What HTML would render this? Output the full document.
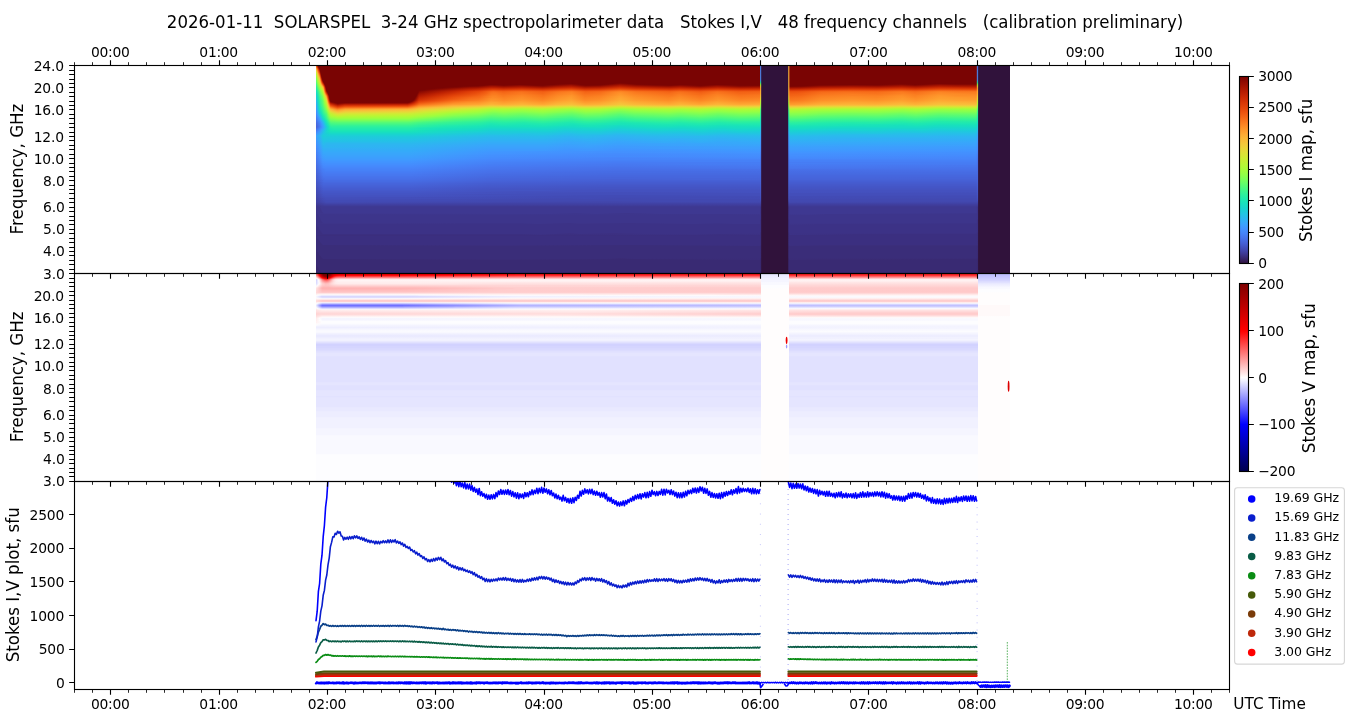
<!DOCTYPE html>
<html lang="en"><head><meta charset="utf-8"><title>SOLARSPEL 3-24 GHz spectropolarimeter data</title>
<style>
html,body{margin:0;padding:0;background:#fff;overflow:hidden;width:1350px;height:725px}
svg{display:block;width:1350px;height:725px}
text{font-family:"DejaVu Sans","Liberation Sans",sans-serif;fill:#000;white-space:pre}
.t10{font-size:13.889px;letter-spacing:-0.3px}.yl{letter-spacing:-0.2px}.t12{font-size:16.667px}.t11{font-size:15.278px}.t9{font-size:12.5px;letter-spacing:-0.08px}
.sp{stroke:#000;stroke-width:1.111;fill:none;stroke-linecap:square}
.mj{stroke:#000;stroke-width:1.111;fill:none}
.mn{stroke:#000;stroke-width:0.833;fill:none}
.ln{fill:none;stroke-linejoin:round;stroke-linecap:round}
</style></head>
<body>
<svg width="1350" height="725" viewBox="0 0 1350 725">
<rect width="1350" height="725" fill="#fff"/>
<defs><clipPath id="c1"><rect x="316.2" y="65.25" width="693.7" height="207.83"/></clipPath><clipPath id="c2"><rect x="316.2" y="273.08" width="693.7" height="207.83"/></clipPath><clipPath id="c3"><rect x="74.25" y="480.92" width="1155.2" height="207.83"/></clipPath></defs>
<text class="t12" transform="translate(675.05,28) scale(0.9963,1.07)" text-anchor="middle" xml:space="preserve">2026-01-11  SOLARSPEL  3-24 GHz spectropolarimeter data   Stokes I,V   48 frequency channels   (calibration preliminary)</text>
<g id="imap"><defs><linearGradient id="a0" gradientUnits="userSpaceOnUse" x1="316.2" x2="977.5" y1="0" y2="0"><stop offset="0" stop-color="#ec540f"/><stop offset="0.00076" stop-color="#d43306"/><stop offset="0.00151" stop-color="#b01a02"/><stop offset="0.00227" stop-color="#880802"/><stop offset="0.00302" stop-color="#7a0403"/><stop offset="1" stop-color="#7a0403"/></linearGradient><linearGradient id="a1" gradientUnits="userSpaceOnUse" x1="316.2" x2="977.5" y1="0" y2="0"><stop offset="0" stop-color="#f8741d"/><stop offset="0.00076" stop-color="#e84c0d"/><stop offset="0.00151" stop-color="#ce2e05"/><stop offset="0.00227" stop-color="#ab1701"/><stop offset="0.00302" stop-color="#840702"/><stop offset="0.00378" stop-color="#7a0403"/><stop offset="1" stop-color="#7a0403"/></linearGradient><linearGradient id="a2" gradientUnits="userSpaceOnUse" x1="316.2" x2="977.5" y1="0" y2="0"><stop offset="0" stop-color="#fd952b"/><stop offset="0.00076" stop-color="#f66c19"/><stop offset="0.00151" stop-color="#e5480b"/><stop offset="0.00227" stop-color="#cb2c04"/><stop offset="0.00302" stop-color="#a91601"/><stop offset="0.00378" stop-color="#840702"/><stop offset="0.00454" stop-color="#7a0403"/><stop offset="1" stop-color="#7a0403"/></linearGradient><linearGradient id="a3" gradientUnits="userSpaceOnUse" x1="316.2" x2="977.5" y1="0" y2="0"><stop offset="0" stop-color="#fbb436"/><stop offset="0.00076" stop-color="#fd9028"/><stop offset="0.00151" stop-color="#f46818"/><stop offset="0.00227" stop-color="#e4460b"/><stop offset="0.00302" stop-color="#cb2b04"/><stop offset="0.00378" stop-color="#a91601"/><stop offset="0.00454" stop-color="#860802"/><stop offset="0.00529" stop-color="#7a0403"/><stop offset="1" stop-color="#7a0403"/></linearGradient><linearGradient id="a4" gradientUnits="userSpaceOnUse" x1="316.2" x2="977.5" y1="0" y2="0"><stop offset="0" stop-color="#f0cb3a"/><stop offset="0.00076" stop-color="#fcae34"/><stop offset="0.00151" stop-color="#fc8b26"/><stop offset="0.00227" stop-color="#f36416"/><stop offset="0.00302" stop-color="#e2430a"/><stop offset="0.00378" stop-color="#c92a04"/><stop offset="0.00454" stop-color="#a91601"/><stop offset="0.00529" stop-color="#870802"/><stop offset="0.00605" stop-color="#7a0403"/><stop offset="1" stop-color="#7a0403"/></linearGradient><linearGradient id="a5" gradientUnits="userSpaceOnUse" x1="316.2" x2="977.5" y1="0" y2="0"><stop offset="0" stop-color="#e4da38"/><stop offset="0.00076" stop-color="#f7c139"/><stop offset="0.00151" stop-color="#fea230"/><stop offset="0.00227" stop-color="#fb7e21"/><stop offset="0.00302" stop-color="#ee5811"/><stop offset="0.00378" stop-color="#dc3c08"/><stop offset="0.00454" stop-color="#c32503"/><stop offset="0.00529" stop-color="#a21201"/><stop offset="0.00605" stop-color="#7a0403"/><stop offset="1" stop-color="#7a0403"/></linearGradient><linearGradient id="a6" gradientUnits="userSpaceOnUse" x1="316.2" x2="977.5" y1="0" y2="0"><stop offset="0" stop-color="#d6e635"/><stop offset="0.00076" stop-color="#edd03a"/><stop offset="0.00151" stop-color="#fbb537"/><stop offset="0.00227" stop-color="#fe962b"/><stop offset="0.00302" stop-color="#f7711b"/><stop offset="0.00378" stop-color="#ea4f0e"/><stop offset="0.00454" stop-color="#d63506"/><stop offset="0.00529" stop-color="#bb2002"/><stop offset="0.00605" stop-color="#840702"/><stop offset="0.0068" stop-color="#7a0403"/><stop offset="1" stop-color="#7a0403"/></linearGradient><linearGradient id="a7" gradientUnits="userSpaceOnUse" x1="316.2" x2="977.5" y1="0" y2="0"><stop offset="0" stop-color="#c5f034"/><stop offset="0.00076" stop-color="#e0dd37"/><stop offset="0.00151" stop-color="#f4c63a"/><stop offset="0.00227" stop-color="#fdac34"/><stop offset="0.00302" stop-color="#fd8a26"/><stop offset="0.00378" stop-color="#f46717"/><stop offset="0.00454" stop-color="#e5480b"/><stop offset="0.00529" stop-color="#d13005"/><stop offset="0.00605" stop-color="#a01201"/><stop offset="0.0068" stop-color="#7a0403"/><stop offset="1" stop-color="#7a0403"/></linearGradient><linearGradient id="a8" gradientUnits="userSpaceOnUse" x1="316.2" x2="977.5" y1="0" y2="0"><stop offset="0" stop-color="#b4f836"/><stop offset="0.00076" stop-color="#d0ea35"/><stop offset="0.00151" stop-color="#e9d539"/><stop offset="0.00227" stop-color="#f8be39"/><stop offset="0.00302" stop-color="#fea130"/><stop offset="0.00378" stop-color="#fb8122"/><stop offset="0.00454" stop-color="#f26014"/><stop offset="0.00529" stop-color="#e2430a"/><stop offset="0.00605" stop-color="#bb2002"/><stop offset="0.0068" stop-color="#820602"/><stop offset="0.00756" stop-color="#7a0403"/><stop offset="1" stop-color="#7a0403"/></linearGradient><linearGradient id="a9" gradientUnits="userSpaceOnUse" x1="316.2" x2="977.5" y1="0" y2="0"><stop offset="0" stop-color="#a7fc3a"/><stop offset="0.00076" stop-color="#c3f134"/><stop offset="0.00227" stop-color="#f1cb3a"/><stop offset="0.00302" stop-color="#fbb436"/><stop offset="0.00378" stop-color="#fe982c"/><stop offset="0.00454" stop-color="#f9781e"/><stop offset="0.00529" stop-color="#ee5811"/><stop offset="0.00605" stop-color="#d03005"/><stop offset="0.0068" stop-color="#9d1001"/><stop offset="0.00756" stop-color="#7a0403"/><stop offset="1" stop-color="#7a0403"/></linearGradient><linearGradient id="a10" gradientUnits="userSpaceOnUse" x1="316.2" x2="977.5" y1="0" y2="0"><stop offset="0" stop-color="#9cfe41"/><stop offset="0.00076" stop-color="#b8f635"/><stop offset="0.00227" stop-color="#e7d739"/><stop offset="0.00302" stop-color="#f6c33a"/><stop offset="0.00378" stop-color="#fdab33"/><stop offset="0.00454" stop-color="#fd9028"/><stop offset="0.00529" stop-color="#f7711b"/><stop offset="0.00605" stop-color="#e14209"/><stop offset="0.0068" stop-color="#b61d02"/><stop offset="0.00756" stop-color="#7f0502"/><stop offset="0.00832" stop-color="#7a0403"/><stop offset="1" stop-color="#7a0403"/></linearGradient><linearGradient id="a11" gradientUnits="userSpaceOnUse" x1="316.2" x2="977.5" y1="0" y2="0"><stop offset="0" stop-color="#91ff48"/><stop offset="0.00076" stop-color="#acfa38"/><stop offset="0.00151" stop-color="#c4f134"/><stop offset="0.00302" stop-color="#edd039"/><stop offset="0.00378" stop-color="#f9bc39"/><stop offset="0.00454" stop-color="#fda632"/><stop offset="0.00529" stop-color="#fd8a26"/><stop offset="0.00605" stop-color="#ee5710"/><stop offset="0.0068" stop-color="#cc2c04"/><stop offset="0.00756" stop-color="#970e01"/><stop offset="0.00832" stop-color="#7a0403"/><stop offset="1" stop-color="#7a0403"/></linearGradient><linearGradient id="a12" gradientUnits="userSpaceOnUse" x1="316.2" x2="977.5" y1="0" y2="0"><stop offset="0" stop-color="#84ff51"/><stop offset="0.00076" stop-color="#9ffd3e"/><stop offset="0.00151" stop-color="#b7f735"/><stop offset="0.00302" stop-color="#e1dd37"/><stop offset="0.00454" stop-color="#fab838"/><stop offset="0.00529" stop-color="#fea330"/><stop offset="0.00605" stop-color="#f7701b"/><stop offset="0.0068" stop-color="#de3e08"/><stop offset="0.00756" stop-color="#b41b02"/><stop offset="0.00832" stop-color="#7f0502"/><stop offset="0.00907" stop-color="#7a0403"/><stop offset="1" stop-color="#7a0403"/></linearGradient><linearGradient id="a13" gradientUnits="userSpaceOnUse" x1="316.2" x2="977.5" y1="0" y2="0"><stop offset="0" stop-color="#76fe5b"/><stop offset="0.00076" stop-color="#93fe46"/><stop offset="0.00151" stop-color="#abfb39"/><stop offset="0.00227" stop-color="#c1f234"/><stop offset="0.00378" stop-color="#e6d838"/><stop offset="0.00529" stop-color="#fbb637"/><stop offset="0.00605" stop-color="#fc8926"/><stop offset="0.0068" stop-color="#eb520f"/><stop offset="0.00756" stop-color="#cb2b04"/><stop offset="0.00832" stop-color="#990f01"/><stop offset="0.00907" stop-color="#7a0403"/><stop offset="1" stop-color="#7a0403"/></linearGradient><linearGradient id="a14" gradientUnits="userSpaceOnUse" x1="316.2" x2="977.5" y1="0" y2="0"><stop offset="0" stop-color="#6cfd63"/><stop offset="0.00076" stop-color="#89ff4d"/><stop offset="0.00151" stop-color="#a1fd3d"/><stop offset="0.00227" stop-color="#b7f735"/><stop offset="0.00302" stop-color="#caee34"/><stop offset="0.00454" stop-color="#ead339"/><stop offset="0.00529" stop-color="#f6c33a"/><stop offset="0.00605" stop-color="#fe9c2e"/><stop offset="0.0068" stop-color="#f56918"/><stop offset="0.00756" stop-color="#dc3c08"/><stop offset="0.00832" stop-color="#b61d02"/><stop offset="0.00907" stop-color="#850802"/><stop offset="0.00983" stop-color="#7a0403"/><stop offset="1" stop-color="#7a0403"/></linearGradient><linearGradient id="a15" gradientUnits="userSpaceOnUse" x1="316.2" x2="977.5" y1="0" y2="0"><stop offset="0" stop-color="#61fc6c"/><stop offset="0.00151" stop-color="#98fe43"/><stop offset="0.00227" stop-color="#acfa38"/><stop offset="0.00378" stop-color="#d0ea35"/><stop offset="0.00529" stop-color="#eecf3a"/><stop offset="0.00605" stop-color="#fcaf35"/><stop offset="0.0068" stop-color="#fb8122"/><stop offset="0.00756" stop-color="#ea500e"/><stop offset="0.00832" stop-color="#ce2e04"/><stop offset="0.00907" stop-color="#a51401"/><stop offset="0.00983" stop-color="#7e0502"/><stop offset="0.01059" stop-color="#7a0403"/><stop offset="1" stop-color="#7a0403"/></linearGradient><linearGradient id="a16" gradientUnits="userSpaceOnUse" x1="316.2" x2="977.5" y1="0" y2="0"><stop offset="0" stop-color="#58fb74"/><stop offset="0.00151" stop-color="#8cff4b"/><stop offset="0.00227" stop-color="#a1fd3d"/><stop offset="0.00302" stop-color="#b4f836"/><stop offset="0.00454" stop-color="#d6e635"/><stop offset="0.00529" stop-color="#e3db38"/><stop offset="0.00605" stop-color="#f8be39"/><stop offset="0.0068" stop-color="#fe982c"/><stop offset="0.00756" stop-color="#f56918"/><stop offset="0.00832" stop-color="#e1420a"/><stop offset="0.00907" stop-color="#c22503"/><stop offset="0.00983" stop-color="#990f01"/><stop offset="0.01059" stop-color="#7e0502"/><stop offset="0.01134" stop-color="#7a0403"/><stop offset="1" stop-color="#7a0403"/></linearGradient><linearGradient id="a17" gradientUnits="userSpaceOnUse" x1="316.2" x2="977.5" y1="0" y2="0"><stop offset="0" stop-color="#4ef97d"/><stop offset="0.00151" stop-color="#80ff54"/><stop offset="0.00227" stop-color="#95fe45"/><stop offset="0.00302" stop-color="#a9fb39"/><stop offset="0.00454" stop-color="#c9ee34"/><stop offset="0.00529" stop-color="#d8e436"/><stop offset="0.00605" stop-color="#f0cc3a"/><stop offset="0.0068" stop-color="#fdac34"/><stop offset="0.00756" stop-color="#fc8524"/><stop offset="0.00832" stop-color="#f05c13"/><stop offset="0.00907" stop-color="#db3b08"/><stop offset="0.00983" stop-color="#be2203"/><stop offset="0.01059" stop-color="#990f01"/><stop offset="0.01134" stop-color="#800602"/><stop offset="0.0121" stop-color="#7a0403"/><stop offset="1" stop-color="#7a0403"/></linearGradient><linearGradient id="a18" gradientUnits="userSpaceOnUse" x1="316.2" x2="977.5" y1="0" y2="0"><stop offset="0" stop-color="#44f786"/><stop offset="0.00227" stop-color="#8aff4c"/><stop offset="0.00302" stop-color="#9ffd3f"/><stop offset="0.00378" stop-color="#affa37"/><stop offset="0.00529" stop-color="#ccec34"/><stop offset="0.00605" stop-color="#e5d938"/><stop offset="0.0068" stop-color="#f7c039"/><stop offset="0.00756" stop-color="#fea12f"/><stop offset="0.00832" stop-color="#fa7c20"/><stop offset="0.00907" stop-color="#ee5912"/><stop offset="0.00983" stop-color="#db3c08"/><stop offset="0.01059" stop-color="#c22503"/><stop offset="0.01134" stop-color="#a01201"/><stop offset="0.0121" stop-color="#810602"/><stop offset="0.01285" stop-color="#7a0403"/><stop offset="0.4476" stop-color="#7a0403"/><stop offset="0.4597" stop-color="#830702"/><stop offset="0.47331" stop-color="#7a0403"/><stop offset="1" stop-color="#7a0403"/></linearGradient><linearGradient id="a19" gradientUnits="userSpaceOnUse" x1="316.2" x2="977.5" y1="0" y2="0"><stop offset="0" stop-color="#3bf58f"/><stop offset="0.00151" stop-color="#66fd68"/><stop offset="0.00302" stop-color="#92fe47"/><stop offset="0.00454" stop-color="#b1f936"/><stop offset="0.00529" stop-color="#c1f234"/><stop offset="0.0068" stop-color="#ecd139"/><stop offset="0.00756" stop-color="#f9ba38"/><stop offset="0.00832" stop-color="#fd9e2e"/><stop offset="0.00907" stop-color="#fa7f21"/><stop offset="0.00983" stop-color="#f16014"/><stop offset="0.01059" stop-color="#e1440a"/><stop offset="0.01134" stop-color="#c62804"/><stop offset="0.0121" stop-color="#a31301"/><stop offset="0.01285" stop-color="#810602"/><stop offset="0.01361" stop-color="#7a0403"/><stop offset="0.35763" stop-color="#7a0403"/><stop offset="0.3856" stop-color="#8b0902"/><stop offset="0.39997" stop-color="#7a0403"/><stop offset="0.43097" stop-color="#7a0403"/><stop offset="0.44004" stop-color="#7f0502"/><stop offset="0.4597" stop-color="#990e01"/><stop offset="0.4839" stop-color="#7f0502"/><stop offset="0.50809" stop-color="#7a0403"/><stop offset="0.85362" stop-color="#7a0403"/><stop offset="0.88462" stop-color="#830702"/><stop offset="0.90579" stop-color="#7a0403"/><stop offset="0.92091" stop-color="#7f0502"/><stop offset="0.94133" stop-color="#8e0a02"/><stop offset="0.96552" stop-color="#850702"/><stop offset="1" stop-color="#830702"/></linearGradient><linearGradient id="a20" gradientUnits="userSpaceOnUse" x1="316.2" x2="977.5" y1="0" y2="0"><stop offset="0" stop-color="#32f298"/><stop offset="0.00302" stop-color="#84ff51"/><stop offset="0.00454" stop-color="#a6fc3b"/><stop offset="0.00529" stop-color="#b5f836"/><stop offset="0.00605" stop-color="#c9ee34"/><stop offset="0.00756" stop-color="#edcf39"/><stop offset="0.00832" stop-color="#f8bc38"/><stop offset="0.00907" stop-color="#fda631"/><stop offset="0.00983" stop-color="#fc8c27"/><stop offset="0.01059" stop-color="#f56c19"/><stop offset="0.01134" stop-color="#e2450b"/><stop offset="0.0121" stop-color="#c72804"/><stop offset="0.01285" stop-color="#a11201"/><stop offset="0.01361" stop-color="#7e0502"/><stop offset="0.01437" stop-color="#7a0403"/><stop offset="0.24497" stop-color="#7a0403"/><stop offset="0.25405" stop-color="#7e0502"/><stop offset="0.26463" stop-color="#8c0a02"/><stop offset="0.27068" stop-color="#8b0902"/><stop offset="0.28353" stop-color="#7f0502"/><stop offset="0.30848" stop-color="#8e0a02"/><stop offset="0.33192" stop-color="#7f0502"/><stop offset="0.34326" stop-color="#7d0503"/><stop offset="0.3856" stop-color="#a21201"/><stop offset="0.39997" stop-color="#880802"/><stop offset="0.40829" stop-color="#7f0502"/><stop offset="0.42946" stop-color="#850702"/><stop offset="0.45894" stop-color="#ae1801"/><stop offset="0.48314" stop-color="#950d01"/><stop offset="0.50809" stop-color="#880802"/><stop offset="0.53531" stop-color="#7f0502"/><stop offset="0.55119" stop-color="#8b0902"/><stop offset="0.57992" stop-color="#7b0403"/><stop offset="0.58899" stop-color="#7f0502"/><stop offset="0.60563" stop-color="#8e0a02"/><stop offset="0.63965" stop-color="#7d0503"/><stop offset="0.67443" stop-color="#7f0502"/><stop offset="0.69106" stop-color="#7a0403"/><stop offset="0.74248" stop-color="#7a0403"/><stop offset="0.76214" stop-color="#830702"/><stop offset="0.81355" stop-color="#8c0a02"/><stop offset="0.84909" stop-color="#850702"/><stop offset="0.88538" stop-color="#9a0f01"/><stop offset="0.90579" stop-color="#880802"/><stop offset="0.94284" stop-color="#a51401"/><stop offset="0.97006" stop-color="#9c1001"/><stop offset="1" stop-color="#9a0f01"/></linearGradient><linearGradient id="a21" gradientUnits="userSpaceOnUse" x1="316.2" x2="977.5" y1="0" y2="0"><stop offset="0" stop-color="#2befa0"/><stop offset="0.00076" stop-color="#3af490"/><stop offset="0.00302" stop-color="#75fe5c"/><stop offset="0.00529" stop-color="#a8fc3a"/><stop offset="0.0068" stop-color="#cbed34"/><stop offset="0.00832" stop-color="#e9d439"/><stop offset="0.00983" stop-color="#fab636"/><stop offset="0.01059" stop-color="#fd9b2d"/><stop offset="0.01134" stop-color="#f56b19"/><stop offset="0.0121" stop-color="#e1430a"/><stop offset="0.01285" stop-color="#c32603"/><stop offset="0.01361" stop-color="#970e01"/><stop offset="0.01437" stop-color="#7a0403"/><stop offset="0.21246" stop-color="#7a0403"/><stop offset="0.24497" stop-color="#870802"/><stop offset="0.26463" stop-color="#a41301"/><stop offset="0.26917" stop-color="#a41301"/><stop offset="0.28429" stop-color="#950d01"/><stop offset="0.31" stop-color="#a51401"/><stop offset="0.34326" stop-color="#8e0a02"/><stop offset="0.36519" stop-color="#a91601"/><stop offset="0.38485" stop-color="#b61c02"/><stop offset="0.39316" stop-color="#ac1701"/><stop offset="0.40602" stop-color="#950d01"/><stop offset="0.40904" stop-color="#950d01"/><stop offset="0.42946" stop-color="#9e1001"/><stop offset="0.45894" stop-color="#c02303"/><stop offset="0.48163" stop-color="#ac1701"/><stop offset="0.53304" stop-color="#950d01"/><stop offset="0.54967" stop-color="#a41301"/><stop offset="0.58067" stop-color="#8b0902"/><stop offset="0.60638" stop-color="#a51401"/><stop offset="0.63965" stop-color="#8e0a02"/><stop offset="0.67367" stop-color="#950d01"/><stop offset="0.69106" stop-color="#880802"/><stop offset="0.71299" stop-color="#7f0502"/><stop offset="0.73567" stop-color="#830702"/><stop offset="0.76289" stop-color="#9b0f01"/><stop offset="0.80826" stop-color="#a41301"/><stop offset="0.84984" stop-color="#9e1001"/><stop offset="0.88613" stop-color="#af1801"/><stop offset="0.9073" stop-color="#a11201"/><stop offset="0.94208" stop-color="#b91e02"/><stop offset="0.96779" stop-color="#b11a01"/><stop offset="1" stop-color="#af1801"/></linearGradient><linearGradient id="a22" gradientUnits="userSpaceOnUse" x1="316.2" x2="977.5" y1="0" y2="0"><stop offset="0" stop-color="#24eca8"/><stop offset="0.00151" stop-color="#40f689"/><stop offset="0.00302" stop-color="#66fd68"/><stop offset="0.00454" stop-color="#8bff4c"/><stop offset="0.00605" stop-color="#acfa38"/><stop offset="0.00756" stop-color="#c9ee34"/><stop offset="0.00907" stop-color="#e4da38"/><stop offset="0.00983" stop-color="#eece3a"/><stop offset="0.01059" stop-color="#f9ba38"/><stop offset="0.01134" stop-color="#fd8e28"/><stop offset="0.0121" stop-color="#f15e13"/><stop offset="0.01285" stop-color="#d93907"/><stop offset="0.01361" stop-color="#b51c02"/><stop offset="0.01437" stop-color="#850702"/><stop offset="0.01512" stop-color="#7a0403"/><stop offset="0.19205" stop-color="#7a0403"/><stop offset="0.21246" stop-color="#840702"/><stop offset="0.23212" stop-color="#990e01"/><stop offset="0.24497" stop-color="#9e1001"/><stop offset="0.26463" stop-color="#b91e02"/><stop offset="0.27219" stop-color="#b71d02"/><stop offset="0.28278" stop-color="#ad1801"/><stop offset="0.31075" stop-color="#bb1f02"/><stop offset="0.34251" stop-color="#a71501"/><stop offset="0.36595" stop-color="#bf2202"/><stop offset="0.38636" stop-color="#c92904"/><stop offset="0.40677" stop-color="#ad1801"/><stop offset="0.42946" stop-color="#b51c02"/><stop offset="0.45894" stop-color="#d23105"/><stop offset="0.4839" stop-color="#c02302"/><stop offset="0.53455" stop-color="#ad1801"/><stop offset="0.54967" stop-color="#ba1f02"/><stop offset="0.58067" stop-color="#a61401"/><stop offset="0.60714" stop-color="#bb1f02"/><stop offset="0.64192" stop-color="#a71501"/><stop offset="0.67367" stop-color="#ad1801"/><stop offset="0.71299" stop-color="#970e01"/><stop offset="0.7334" stop-color="#9c1001"/><stop offset="0.76289" stop-color="#b21a02"/><stop offset="0.80977" stop-color="#ba1f02"/><stop offset="0.84909" stop-color="#b51c02"/><stop offset="0.88538" stop-color="#c32503"/><stop offset="0.90655" stop-color="#b71d02"/><stop offset="0.94208" stop-color="#cc2c04"/><stop offset="1" stop-color="#c32503"/></linearGradient><linearGradient id="a23" gradientUnits="userSpaceOnUse" x1="316.2" x2="977.5" y1="0" y2="0"><stop offset="0" stop-color="#1fe9af"/><stop offset="0.00151" stop-color="#37f492"/><stop offset="0.00378" stop-color="#6cfd63"/><stop offset="0.00529" stop-color="#8fff49"/><stop offset="0.0068" stop-color="#aefa38"/><stop offset="0.00832" stop-color="#caee34"/><stop offset="0.00983" stop-color="#e2dc37"/><stop offset="0.01059" stop-color="#f2c93a"/><stop offset="0.01134" stop-color="#fea330"/><stop offset="0.0121" stop-color="#f8731c"/><stop offset="0.01285" stop-color="#e6480b"/><stop offset="0.01361" stop-color="#c72803"/><stop offset="0.01437" stop-color="#9d1001"/><stop offset="0.01512" stop-color="#7a0403"/><stop offset="0.17617" stop-color="#7a0403"/><stop offset="0.19129" stop-color="#830702"/><stop offset="0.23212" stop-color="#ad1701"/><stop offset="0.2427" stop-color="#b11a01"/><stop offset="0.26463" stop-color="#cd2d04"/><stop offset="0.27144" stop-color="#cd2d04"/><stop offset="0.28353" stop-color="#c42603"/><stop offset="0.31075" stop-color="#cf2f05"/><stop offset="0.34251" stop-color="#c02302"/><stop offset="0.36595" stop-color="#d23205"/><stop offset="0.3856" stop-color="#db3a07"/><stop offset="0.40602" stop-color="#c42603"/><stop offset="0.42946" stop-color="#ca2b04"/><stop offset="0.4597" stop-color="#e14209"/><stop offset="0.48238" stop-color="#d33205"/><stop offset="0.53304" stop-color="#c42603"/><stop offset="0.54967" stop-color="#ce2e05"/><stop offset="0.58143" stop-color="#bf2202"/><stop offset="0.60714" stop-color="#cf2f05"/><stop offset="0.64116" stop-color="#c02302"/><stop offset="0.67216" stop-color="#c42603"/><stop offset="0.71299" stop-color="#b21a02"/><stop offset="0.73114" stop-color="#b51c02"/><stop offset="0.76289" stop-color="#c82903"/><stop offset="0.80977" stop-color="#ce2e05"/><stop offset="0.84833" stop-color="#ca2b04"/><stop offset="0.88538" stop-color="#d63506"/><stop offset="0.90655" stop-color="#cc2c04"/><stop offset="0.94208" stop-color="#dc3c08"/><stop offset="1" stop-color="#d63506"/></linearGradient><linearGradient id="a24" gradientUnits="userSpaceOnUse" x1="316.2" x2="977.5" y1="0" y2="0"><stop offset="0" stop-color="#1be5b5"/><stop offset="0.00151" stop-color="#2ef19c"/><stop offset="0.00227" stop-color="#3df58d"/><stop offset="0.00454" stop-color="#71fe5f"/><stop offset="0.0068" stop-color="#a1fd3d"/><stop offset="0.00832" stop-color="#bcf535"/><stop offset="0.00983" stop-color="#d4e735"/><stop offset="0.01059" stop-color="#e7d639"/><stop offset="0.01134" stop-color="#fbb537"/><stop offset="0.0121" stop-color="#fc8926"/><stop offset="0.01285" stop-color="#ef5911"/><stop offset="0.01361" stop-color="#d63506"/><stop offset="0.01437" stop-color="#b11a01"/><stop offset="0.01512" stop-color="#830702"/><stop offset="0.01588" stop-color="#7a0403"/><stop offset="0.16407" stop-color="#7a0403"/><stop offset="0.17466" stop-color="#810602"/><stop offset="0.22909" stop-color="#bc2002"/><stop offset="0.24648" stop-color="#c72803"/><stop offset="0.2669" stop-color="#de3e08"/><stop offset="0.28278" stop-color="#d73606"/><stop offset="0.31075" stop-color="#e04009"/><stop offset="0.34251" stop-color="#d43306"/><stop offset="0.36595" stop-color="#e2440a"/><stop offset="0.38636" stop-color="#e84d0d"/><stop offset="0.40677" stop-color="#d73606"/><stop offset="0.43021" stop-color="#dc3c08"/><stop offset="0.4597" stop-color="#ed5610"/><stop offset="0.48238" stop-color="#e3440a"/><stop offset="0.53455" stop-color="#d73606"/><stop offset="0.54967" stop-color="#df3f09"/><stop offset="0.58143" stop-color="#d33205"/><stop offset="0.60714" stop-color="#e04009"/><stop offset="0.64116" stop-color="#d43306"/><stop offset="0.67367" stop-color="#d73606"/><stop offset="0.72055" stop-color="#c92a04"/><stop offset="0.77574" stop-color="#dc3b08"/><stop offset="0.80901" stop-color="#df3f09"/><stop offset="0.84757" stop-color="#dc3b08"/><stop offset="0.88311" stop-color="#e4470b"/><stop offset="0.90655" stop-color="#dd3d08"/><stop offset="0.94208" stop-color="#ea4f0e"/><stop offset="1" stop-color="#e4470b"/></linearGradient><linearGradient id="a25" gradientUnits="userSpaceOnUse" x1="316.2" x2="977.5" y1="0" y2="0"><stop offset="0" stop-color="#19e2bb"/><stop offset="0.00151" stop-color="#26eda5"/><stop offset="0.00227" stop-color="#33f297"/><stop offset="0.00605" stop-color="#84ff51"/><stop offset="0.00832" stop-color="#adfa38"/><stop offset="0.00983" stop-color="#c4f134"/><stop offset="0.01059" stop-color="#d9e336"/><stop offset="0.01134" stop-color="#f5c43a"/><stop offset="0.0121" stop-color="#fe9d2e"/><stop offset="0.01285" stop-color="#f76e1a"/><stop offset="0.01361" stop-color="#e3440a"/><stop offset="0.01437" stop-color="#c42603"/><stop offset="0.01512" stop-color="#9a0f01"/><stop offset="0.01588" stop-color="#7a0403"/><stop offset="0.155" stop-color="#7a0403"/><stop offset="0.16407" stop-color="#810602"/><stop offset="0.17239" stop-color="#8e0a02"/><stop offset="0.21473" stop-color="#be2102"/><stop offset="0.23892" stop-color="#d23105"/><stop offset="0.24875" stop-color="#d93907"/><stop offset="0.26765" stop-color="#eb520f"/><stop offset="0.28278" stop-color="#e64a0c"/><stop offset="0.31075" stop-color="#ed5510"/><stop offset="0.34326" stop-color="#e4460b"/><stop offset="0.3667" stop-color="#ef5911"/><stop offset="0.38636" stop-color="#f36315"/><stop offset="0.40677" stop-color="#e64a0c"/><stop offset="0.42946" stop-color="#ea500e"/><stop offset="0.4597" stop-color="#f66e1a"/><stop offset="0.48163" stop-color="#ef5a12"/><stop offset="0.53455" stop-color="#e64a0c"/><stop offset="0.54967" stop-color="#ec5410"/><stop offset="0.58067" stop-color="#e3440a"/><stop offset="0.60714" stop-color="#ed5510"/><stop offset="0.64116" stop-color="#e4460b"/><stop offset="0.67216" stop-color="#e64a0c"/><stop offset="0.71753" stop-color="#dc3b08"/><stop offset="0.73189" stop-color="#dd3d08"/><stop offset="0.76365" stop-color="#e94e0d"/><stop offset="0.80826" stop-color="#ec5410"/><stop offset="0.84682" stop-color="#ea4f0e"/><stop offset="0.88613" stop-color="#f05d13"/><stop offset="0.90579" stop-color="#eb520f"/><stop offset="0.94208" stop-color="#f46617"/><stop offset="1" stop-color="#f05d13"/></linearGradient><linearGradient id="a26" gradientUnits="userSpaceOnUse" x1="316.2" x2="977.5" y1="0" y2="0"><stop offset="0" stop-color="#18dec0"/><stop offset="0.00151" stop-color="#21eaac"/><stop offset="0.00302" stop-color="#36f393"/><stop offset="0.00605" stop-color="#76fe5b"/><stop offset="0.00756" stop-color="#92fe47"/><stop offset="0.00907" stop-color="#aafb39"/><stop offset="0.00983" stop-color="#b5f836"/><stop offset="0.01059" stop-color="#cbed34"/><stop offset="0.01134" stop-color="#ebd239"/><stop offset="0.0121" stop-color="#fcb035"/><stop offset="0.01285" stop-color="#fc8423"/><stop offset="0.01361" stop-color="#ee5710"/><stop offset="0.01437" stop-color="#d53406"/><stop offset="0.01512" stop-color="#b11a02"/><stop offset="0.01588" stop-color="#8b0902"/><stop offset="0.01663" stop-color="#7a0403"/><stop offset="0.15424" stop-color="#7a0403"/><stop offset="0.15575" stop-color="#850702"/><stop offset="0.1671" stop-color="#950d01"/><stop offset="0.21019" stop-color="#c72803"/><stop offset="0.23136" stop-color="#db3a07"/><stop offset="0.24875" stop-color="#e6480b"/><stop offset="0.26463" stop-color="#f46516"/><stop offset="0.26841" stop-color="#f56817"/><stop offset="0.28278" stop-color="#f15e13"/><stop offset="0.31075" stop-color="#f66b19"/><stop offset="0.34402" stop-color="#ef5a12"/><stop offset="0.36897" stop-color="#f8711b"/><stop offset="0.38636" stop-color="#fa7a1f"/><stop offset="0.40753" stop-color="#f15e13"/><stop offset="0.43097" stop-color="#f46617"/><stop offset="0.46046" stop-color="#fc8423"/><stop offset="0.48465" stop-color="#f76f1a"/><stop offset="0.53455" stop-color="#f15e13"/><stop offset="0.54967" stop-color="#f56918"/><stop offset="0.58067" stop-color="#ee5711"/><stop offset="0.60714" stop-color="#f66b19"/><stop offset="0.63889" stop-color="#ef5a12"/><stop offset="0.67216" stop-color="#f15e13"/><stop offset="0.71148" stop-color="#e94d0d"/><stop offset="0.72131" stop-color="#e94d0d"/><stop offset="0.73265" stop-color="#ea500e"/><stop offset="0.76289" stop-color="#f36215"/><stop offset="0.79767" stop-color="#f56817"/><stop offset="0.84984" stop-color="#f46516"/><stop offset="0.88538" stop-color="#f8741c"/><stop offset="0.90579" stop-color="#f46717"/><stop offset="0.94133" stop-color="#fa7d20"/><stop offset="0.97006" stop-color="#f9751d"/><stop offset="1" stop-color="#f8741c"/></linearGradient><linearGradient id="a27" gradientUnits="userSpaceOnUse" x1="316.2" x2="977.5" y1="0" y2="0"><stop offset="0" stop-color="#18dac6"/><stop offset="0.00151" stop-color="#1de7b2"/><stop offset="0.00302" stop-color="#2ff19b"/><stop offset="0.00605" stop-color="#6cfd63"/><stop offset="0.00832" stop-color="#94fe45"/><stop offset="0.00983" stop-color="#a9fb39"/><stop offset="0.01059" stop-color="#bef434"/><stop offset="0.01134" stop-color="#dfde37"/><stop offset="0.0121" stop-color="#f7c139"/><stop offset="0.01285" stop-color="#fe9d2e"/><stop offset="0.01361" stop-color="#f8731c"/><stop offset="0.01437" stop-color="#e84c0d"/><stop offset="0.01512" stop-color="#cf2f05"/><stop offset="0.01663" stop-color="#900b02"/><stop offset="0.01739" stop-color="#7d0503"/><stop offset="0.01815" stop-color="#7a0403"/><stop offset="0.15349" stop-color="#7a0403"/><stop offset="0.15424" stop-color="#7d0503"/><stop offset="0.15575" stop-color="#8f0b01"/><stop offset="0.19053" stop-color="#bc2002"/><stop offset="0.22683" stop-color="#de3d08"/><stop offset="0.24497" stop-color="#e84c0c"/><stop offset="0.25556" stop-color="#f05b12"/><stop offset="0.26463" stop-color="#f76f1a"/><stop offset="0.26917" stop-color="#f8721c"/><stop offset="0.28278" stop-color="#f46617"/><stop offset="0.31" stop-color="#f9751d"/><stop offset="0.34251" stop-color="#f36215"/><stop offset="0.36519" stop-color="#f9781e"/><stop offset="0.38636" stop-color="#fc8423"/><stop offset="0.40753" stop-color="#f46617"/><stop offset="0.43097" stop-color="#f76f1a"/><stop offset="0.45516" stop-color="#fd8a26"/><stop offset="0.46121" stop-color="#fd8d27"/><stop offset="0.48465" stop-color="#f9781e"/><stop offset="0.53455" stop-color="#f46617"/><stop offset="0.54665" stop-color="#f8721c"/><stop offset="0.55194" stop-color="#f8721c"/><stop offset="0.58143" stop-color="#f26014"/><stop offset="0.60638" stop-color="#f9751d"/><stop offset="0.63738" stop-color="#f36315"/><stop offset="0.67594" stop-color="#f46617"/><stop offset="0.71072" stop-color="#ed5510"/><stop offset="0.72282" stop-color="#ed5510"/><stop offset="0.7334" stop-color="#ef5811"/><stop offset="0.76365" stop-color="#f66c19"/><stop offset="0.80145" stop-color="#f8721c"/><stop offset="0.84682" stop-color="#f76e1a"/><stop offset="0.88538" stop-color="#fb7d20"/><stop offset="0.90579" stop-color="#f7701b"/><stop offset="0.94284" stop-color="#fc8725"/><stop offset="0.97006" stop-color="#fb7e21"/><stop offset="1" stop-color="#fb7d20"/></linearGradient><linearGradient id="a28" gradientUnits="userSpaceOnUse" x1="316.2" x2="977.5" y1="0" y2="0"><stop offset="0" stop-color="#19d5cd"/><stop offset="0.00151" stop-color="#1ae4b6"/><stop offset="0.00302" stop-color="#2aefa1"/><stop offset="0.00529" stop-color="#55fa76"/><stop offset="0.0068" stop-color="#71fe5f"/><stop offset="0.00983" stop-color="#a0fd3e"/><stop offset="0.01059" stop-color="#b3f836"/><stop offset="0.01134" stop-color="#d2e935"/><stop offset="0.0121" stop-color="#edd039"/><stop offset="0.01285" stop-color="#fbb437"/><stop offset="0.01361" stop-color="#fd932a"/><stop offset="0.01437" stop-color="#f66c19"/><stop offset="0.01512" stop-color="#e64a0c"/><stop offset="0.01588" stop-color="#d13105"/><stop offset="0.01663" stop-color="#b51d02"/><stop offset="0.01739" stop-color="#940d01"/><stop offset="0.01815" stop-color="#7b0403"/><stop offset="0.0189" stop-color="#7a0403"/><stop offset="0.15273" stop-color="#7a0403"/><stop offset="0.15349" stop-color="#7d0503"/><stop offset="0.15575" stop-color="#9b0f01"/><stop offset="0.18222" stop-color="#bc2002"/><stop offset="0.21624" stop-color="#db3b07"/><stop offset="0.2427" stop-color="#ea500e"/><stop offset="0.25707" stop-color="#f36315"/><stop offset="0.26463" stop-color="#f9751d"/><stop offset="0.26992" stop-color="#f9781e"/><stop offset="0.28429" stop-color="#f66c19"/><stop offset="0.31" stop-color="#fa791f"/><stop offset="0.34251" stop-color="#f46617"/><stop offset="0.3667" stop-color="#fb7e21"/><stop offset="0.38636" stop-color="#fd8825"/><stop offset="0.40602" stop-color="#f66c19"/><stop offset="0.4098" stop-color="#f66c19"/><stop offset="0.4287" stop-color="#f8721c"/><stop offset="0.4597" stop-color="#fe932a"/><stop offset="0.48238" stop-color="#fb7e21"/><stop offset="0.53228" stop-color="#f66c19"/><stop offset="0.55043" stop-color="#f9781e"/><stop offset="0.58219" stop-color="#f46617"/><stop offset="0.60638" stop-color="#fa791f"/><stop offset="0.64192" stop-color="#f46617"/><stop offset="0.67443" stop-color="#f66c19"/><stop offset="0.70997" stop-color="#f05b12"/><stop offset="0.72584" stop-color="#f05b12"/><stop offset="0.76743" stop-color="#f8721c"/><stop offset="0.80599" stop-color="#f9781e"/><stop offset="0.84682" stop-color="#f8721c"/><stop offset="0.8884" stop-color="#fb8122"/><stop offset="0.90655" stop-color="#f9751d"/><stop offset="0.94284" stop-color="#fd8b26"/><stop offset="1" stop-color="#fb8122"/></linearGradient><linearGradient id="a29" gradientUnits="userSpaceOnUse" x1="316.2" x2="977.5" y1="0" y2="0"><stop offset="0" stop-color="#1ad2d2"/><stop offset="0.00151" stop-color="#19e2bb"/><stop offset="0.00302" stop-color="#25eca7"/><stop offset="0.00378" stop-color="#2ff19b"/><stop offset="0.00529" stop-color="#4ef97d"/><stop offset="0.00832" stop-color="#7fff54"/><stop offset="0.00983" stop-color="#95fe45"/><stop offset="0.01059" stop-color="#a7fc3a"/><stop offset="0.01134" stop-color="#c3f134"/><stop offset="0.0121" stop-color="#dfde37"/><stop offset="0.01285" stop-color="#f2c83a"/><stop offset="0.01361" stop-color="#fcaf35"/><stop offset="0.01437" stop-color="#fd9028"/><stop offset="0.01512" stop-color="#f66f1b"/><stop offset="0.01588" stop-color="#e94f0e"/><stop offset="0.01663" stop-color="#d33306"/><stop offset="0.01739" stop-color="#b61d02"/><stop offset="0.01815" stop-color="#900b02"/><stop offset="0.0189" stop-color="#7a0403"/><stop offset="0.15197" stop-color="#7a0403"/><stop offset="0.15273" stop-color="#7d0503"/><stop offset="0.155" stop-color="#9e1001"/><stop offset="0.15575" stop-color="#a51301"/><stop offset="0.1807" stop-color="#c32503"/><stop offset="0.20717" stop-color="#db3b07"/><stop offset="0.24346" stop-color="#ee5711"/><stop offset="0.2548" stop-color="#f46617"/><stop offset="0.26539" stop-color="#fa7b1f"/><stop offset="0.27295" stop-color="#fa7b1f"/><stop offset="0.28051" stop-color="#f8721c"/><stop offset="0.2858" stop-color="#f8721c"/><stop offset="0.31226" stop-color="#fb7e21"/><stop offset="0.34326" stop-color="#f66c19"/><stop offset="0.36368" stop-color="#fb8122"/><stop offset="0.38712" stop-color="#fd8d27"/><stop offset="0.40526" stop-color="#f8721c"/><stop offset="0.41207" stop-color="#f8721c"/><stop offset="0.42946" stop-color="#f9781e"/><stop offset="0.4597" stop-color="#fe972b"/><stop offset="0.48163" stop-color="#fc8423"/><stop offset="0.53002" stop-color="#f8721c"/><stop offset="0.53682" stop-color="#f8721c"/><stop offset="0.54892" stop-color="#fb7e21"/><stop offset="0.57689" stop-color="#f66c19"/><stop offset="0.58294" stop-color="#f66c19"/><stop offset="0.60411" stop-color="#fb7e21"/><stop offset="0.60941" stop-color="#fb7e21"/><stop offset="0.64116" stop-color="#f66c19"/><stop offset="0.67292" stop-color="#f8721c"/><stop offset="0.71526" stop-color="#f25f14"/><stop offset="0.73567" stop-color="#f36315"/><stop offset="0.76138" stop-color="#f9751d"/><stop offset="0.81128" stop-color="#fb7e21"/><stop offset="0.84909" stop-color="#f9781e"/><stop offset="0.88689" stop-color="#fc8725"/><stop offset="0.90806" stop-color="#fa7b1f"/><stop offset="0.94057" stop-color="#fd9029"/><stop offset="1" stop-color="#fc8725"/></linearGradient><linearGradient id="a30" gradientUnits="userSpaceOnUse" x1="316.2" x2="977.5" y1="0" y2="0"><stop offset="0" stop-color="#1dcdd8"/><stop offset="0.00151" stop-color="#18dec0"/><stop offset="0.00302" stop-color="#21eaac"/><stop offset="0.00378" stop-color="#2aefa1"/><stop offset="0.00529" stop-color="#46f884"/><stop offset="0.00983" stop-color="#88ff4e"/><stop offset="0.01059" stop-color="#9cfe41"/><stop offset="0.01134" stop-color="#b5f836"/><stop offset="0.01285" stop-color="#e3da38"/><stop offset="0.01361" stop-color="#f3c73a"/><stop offset="0.01437" stop-color="#fcb035"/><stop offset="0.01512" stop-color="#fd962b"/><stop offset="0.01588" stop-color="#f8751d"/><stop offset="0.01663" stop-color="#e94e0e"/><stop offset="0.01739" stop-color="#d23105"/><stop offset="0.01815" stop-color="#b01a02"/><stop offset="0.0189" stop-color="#890902"/><stop offset="0.01966" stop-color="#7a0403"/><stop offset="0.15122" stop-color="#7a0403"/><stop offset="0.15197" stop-color="#7d0503"/><stop offset="0.155" stop-color="#a81501"/><stop offset="0.15575" stop-color="#af1801"/><stop offset="0.16861" stop-color="#be2102"/><stop offset="0.20717" stop-color="#e24209"/><stop offset="0.24346" stop-color="#f15e13"/><stop offset="0.25253" stop-color="#f56918"/><stop offset="0.26614" stop-color="#fb8122"/><stop offset="0.27144" stop-color="#fb8122"/><stop offset="0.28278" stop-color="#f9771e"/><stop offset="0.31075" stop-color="#fc8423"/><stop offset="0.34402" stop-color="#f8721c"/><stop offset="0.36519" stop-color="#fc8725"/><stop offset="0.38636" stop-color="#fe932a"/><stop offset="0.40526" stop-color="#f9781e"/><stop offset="0.41434" stop-color="#f9781e"/><stop offset="0.43021" stop-color="#fb7e21"/><stop offset="0.46046" stop-color="#fe9b2d"/><stop offset="0.48011" stop-color="#fd8a26"/><stop offset="0.5285" stop-color="#f9781e"/><stop offset="0.53758" stop-color="#f9781e"/><stop offset="0.54892" stop-color="#fc8223"/><stop offset="0.58067" stop-color="#f8711b"/><stop offset="0.60714" stop-color="#fc8423"/><stop offset="0.63965" stop-color="#f8721c"/><stop offset="0.67216" stop-color="#f9771e"/><stop offset="0.71526" stop-color="#f36315"/><stop offset="0.73189" stop-color="#f46617"/><stop offset="0.76214" stop-color="#fa7b1f"/><stop offset="0.79767" stop-color="#fb8122"/><stop offset="0.85135" stop-color="#fb7e21"/><stop offset="0.88538" stop-color="#fd8d27"/><stop offset="0.90579" stop-color="#fb8022"/><stop offset="0.94284" stop-color="#fe962b"/><stop offset="0.97157" stop-color="#fd8d27"/><stop offset="1" stop-color="#fd8d27"/></linearGradient><linearGradient id="a31" gradientUnits="userSpaceOnUse" x1="316.2" x2="977.5" y1="0" y2="0"><stop offset="0" stop-color="#1fc9dd"/><stop offset="0.00151" stop-color="#18dbc5"/><stop offset="0.00302" stop-color="#1ee8b1"/><stop offset="0.00529" stop-color="#40f689"/><stop offset="0.00983" stop-color="#7dff56"/><stop offset="0.01059" stop-color="#90ff48"/><stop offset="0.01134" stop-color="#aafb39"/><stop offset="0.0121" stop-color="#c1f234"/><stop offset="0.01361" stop-color="#e7d739"/><stop offset="0.01437" stop-color="#f5c53a"/><stop offset="0.01512" stop-color="#fcb136"/><stop offset="0.01588" stop-color="#fe942a"/><stop offset="0.01663" stop-color="#f56918"/><stop offset="0.01739" stop-color="#e3440a"/><stop offset="0.01815" stop-color="#c72803"/><stop offset="0.0189" stop-color="#a21201"/><stop offset="0.01966" stop-color="#7b0403"/><stop offset="0.02041" stop-color="#7a0403"/><stop offset="0.15046" stop-color="#7a0403"/><stop offset="0.15122" stop-color="#7f0502"/><stop offset="0.15424" stop-color="#a81501"/><stop offset="0.15575" stop-color="#b81d02"/><stop offset="0.18146" stop-color="#d33205"/><stop offset="0.20792" stop-color="#e74a0c"/><stop offset="0.248" stop-color="#f56918"/><stop offset="0.26387" stop-color="#fc8423"/><stop offset="0.27068" stop-color="#fc8624"/><stop offset="0.28278" stop-color="#fa7b1f"/><stop offset="0.31075" stop-color="#fd8825"/><stop offset="0.34251" stop-color="#f9761d"/><stop offset="0.36595" stop-color="#fd8c27"/><stop offset="0.38636" stop-color="#fe972b"/><stop offset="0.40677" stop-color="#fa7b1f"/><stop offset="0.43021" stop-color="#fc8323"/><stop offset="0.4597" stop-color="#fea02f"/><stop offset="0.48314" stop-color="#fd8d27"/><stop offset="0.53455" stop-color="#fa7b1f"/><stop offset="0.54967" stop-color="#fc8725"/><stop offset="0.58067" stop-color="#f9751d"/><stop offset="0.60714" stop-color="#fd8825"/><stop offset="0.64192" stop-color="#f9761d"/><stop offset="0.67367" stop-color="#fa7b1f"/><stop offset="0.71904" stop-color="#f56918"/><stop offset="0.73265" stop-color="#f66c19"/><stop offset="0.7644" stop-color="#fb8022"/><stop offset="0.81052" stop-color="#fc8725"/><stop offset="0.84757" stop-color="#fc8223"/><stop offset="0.88538" stop-color="#fe9129"/><stop offset="0.90579" stop-color="#fc8423"/><stop offset="0.94284" stop-color="#fe9a2d"/><stop offset="0.97082" stop-color="#fe9229"/><stop offset="1" stop-color="#fe9129"/></linearGradient><linearGradient id="a32" gradientUnits="userSpaceOnUse" x1="316.2" x2="977.5" y1="0" y2="0"><stop offset="0" stop-color="#21c6e1"/><stop offset="0.00227" stop-color="#18dfbe"/><stop offset="0.00378" stop-color="#23eca9"/><stop offset="0.00605" stop-color="#46f884"/><stop offset="0.00983" stop-color="#76fe5b"/><stop offset="0.01059" stop-color="#88ff4e"/><stop offset="0.01134" stop-color="#a1fd3d"/><stop offset="0.0121" stop-color="#b7f735"/><stop offset="0.01437" stop-color="#ebd239"/><stop offset="0.01512" stop-color="#f6c23a"/><stop offset="0.01588" stop-color="#fda933"/><stop offset="0.01663" stop-color="#fb7f21"/><stop offset="0.01739" stop-color="#ec540f"/><stop offset="0.01815" stop-color="#d53406"/><stop offset="0.0189" stop-color="#b41b02"/><stop offset="0.01966" stop-color="#880802"/><stop offset="0.02041" stop-color="#7a0403"/><stop offset="0.14971" stop-color="#7a0403"/><stop offset="0.15197" stop-color="#950d01"/><stop offset="0.155" stop-color="#bb1f02"/><stop offset="0.15575" stop-color="#c12302"/><stop offset="0.20566" stop-color="#ea4f0d"/><stop offset="0.23287" stop-color="#f46617"/><stop offset="0.24573" stop-color="#f66c19"/><stop offset="0.2669" stop-color="#fd8a26"/><stop offset="0.28429" stop-color="#fb8022"/><stop offset="0.31075" stop-color="#fd8c27"/><stop offset="0.34326" stop-color="#fa7b1f"/><stop offset="0.36595" stop-color="#fd9029"/><stop offset="0.3856" stop-color="#fe9b2d"/><stop offset="0.40602" stop-color="#fb8022"/><stop offset="0.4287" stop-color="#fc8624"/><stop offset="0.46046" stop-color="#fea331"/><stop offset="0.48314" stop-color="#fe9129"/><stop offset="0.53228" stop-color="#fb8022"/><stop offset="0.54967" stop-color="#fd8b26"/><stop offset="0.58067" stop-color="#fa791f"/><stop offset="0.60714" stop-color="#fd8c27"/><stop offset="0.64267" stop-color="#fa7a1f"/><stop offset="0.67367" stop-color="#fb7f21"/><stop offset="0.71375" stop-color="#f76d19"/><stop offset="0.73189" stop-color="#f7701b"/><stop offset="0.76365" stop-color="#fc8423"/><stop offset="0.81052" stop-color="#fd8b26"/><stop offset="0.84757" stop-color="#fc8624"/><stop offset="0.88689" stop-color="#fe942a"/><stop offset="0.90579" stop-color="#fd8825"/><stop offset="0.94284" stop-color="#fe9d2e"/><stop offset="1" stop-color="#fe942a"/></linearGradient><linearGradient id="a33" gradientUnits="userSpaceOnUse" x1="316.2" x2="977.5" y1="0" y2="0"><stop offset="0" stop-color="#23c3e4"/><stop offset="0.00227" stop-color="#18ddc2"/><stop offset="0.00378" stop-color="#21eaac"/><stop offset="0.00529" stop-color="#37f492"/><stop offset="0.00983" stop-color="#71fe5f"/><stop offset="0.01059" stop-color="#80ff53"/><stop offset="0.0121" stop-color="#acfa38"/><stop offset="0.01285" stop-color="#bef434"/><stop offset="0.01512" stop-color="#ecd139"/><stop offset="0.01588" stop-color="#f9bb39"/><stop offset="0.01663" stop-color="#fe952b"/><stop offset="0.01739" stop-color="#f56817"/><stop offset="0.01815" stop-color="#e14209"/><stop offset="0.0189" stop-color="#c42603"/><stop offset="0.01966" stop-color="#9d1001"/><stop offset="0.02041" stop-color="#7a0403"/><stop offset="0.14819" stop-color="#7a0403"/><stop offset="0.14971" stop-color="#810602"/><stop offset="0.15046" stop-color="#8e0a02"/><stop offset="0.15349" stop-color="#b31b01"/><stop offset="0.15575" stop-color="#c82903"/><stop offset="0.20112" stop-color="#eb510e"/><stop offset="0.23212" stop-color="#f66c19"/><stop offset="0.24573" stop-color="#f8721c"/><stop offset="0.26387" stop-color="#fd8d27"/><stop offset="0.27068" stop-color="#fd8e28"/><stop offset="0.28429" stop-color="#fc8423"/><stop offset="0.31075" stop-color="#fd9029"/><stop offset="0.34326" stop-color="#fb7f21"/><stop offset="0.36595" stop-color="#fe942a"/><stop offset="0.3856" stop-color="#fe9e2f"/><stop offset="0.40602" stop-color="#fc8423"/><stop offset="0.4287" stop-color="#fd8a26"/><stop offset="0.46046" stop-color="#fea732"/><stop offset="0.48314" stop-color="#fe952b"/><stop offset="0.53228" stop-color="#fc8423"/><stop offset="0.54967" stop-color="#fd8f28"/><stop offset="0.58143" stop-color="#fb7e21"/><stop offset="0.60789" stop-color="#fd9029"/><stop offset="0.64267" stop-color="#fb7e21"/><stop offset="0.6714" stop-color="#fc8423"/><stop offset="0.7145" stop-color="#f8711b"/><stop offset="0.7334" stop-color="#f9751d"/><stop offset="0.76365" stop-color="#fd8825"/><stop offset="0.80977" stop-color="#fd8f28"/><stop offset="0.84757" stop-color="#fd8a26"/><stop offset="0.88689" stop-color="#fe982c"/><stop offset="0.9073" stop-color="#fd8d27"/><stop offset="0.94133" stop-color="#fea02f"/><stop offset="1" stop-color="#fe982c"/></linearGradient><linearGradient id="a34" gradientUnits="userSpaceOnUse" x1="316.2" x2="977.5" y1="0" y2="0"><stop offset="0" stop-color="#27bee9"/><stop offset="0.00227" stop-color="#18dac7"/><stop offset="0.00378" stop-color="#1ee8b1"/><stop offset="0.00529" stop-color="#33f297"/><stop offset="0.00983" stop-color="#69fd66"/><stop offset="0.01059" stop-color="#77fe5a"/><stop offset="0.0121" stop-color="#a1fd3d"/><stop offset="0.01285" stop-color="#b2f836"/><stop offset="0.01512" stop-color="#dedf37"/><stop offset="0.01588" stop-color="#f1cb3a"/><stop offset="0.01663" stop-color="#fda933"/><stop offset="0.01739" stop-color="#fa7d20"/><stop offset="0.01815" stop-color="#ec520f"/><stop offset="0.0189" stop-color="#d33205"/><stop offset="0.01966" stop-color="#af1801"/><stop offset="0.02041" stop-color="#820602"/><stop offset="0.02117" stop-color="#7a0403"/><stop offset="0.14744" stop-color="#7a0403"/><stop offset="0.14819" stop-color="#7d0503"/><stop offset="0.15197" stop-color="#ac1701"/><stop offset="0.15424" stop-color="#c52603"/><stop offset="0.15575" stop-color="#cf2e05"/><stop offset="0.19885" stop-color="#ee5610"/><stop offset="0.23061" stop-color="#f8721c"/><stop offset="0.24573" stop-color="#f9781e"/><stop offset="0.26463" stop-color="#fe9229"/><stop offset="0.27068" stop-color="#fe9229"/><stop offset="0.28429" stop-color="#fd8825"/><stop offset="0.31075" stop-color="#fe942a"/><stop offset="0.34251" stop-color="#fc8323"/><stop offset="0.36595" stop-color="#fe982c"/><stop offset="0.3856" stop-color="#fea230"/><stop offset="0.40602" stop-color="#fd8825"/><stop offset="0.4287" stop-color="#fd8e28"/><stop offset="0.46046" stop-color="#fdaa33"/><stop offset="0.48314" stop-color="#fe992c"/><stop offset="0.53304" stop-color="#fd8825"/><stop offset="0.54967" stop-color="#fe932a"/><stop offset="0.58143" stop-color="#fc8223"/><stop offset="0.60789" stop-color="#fe942a"/><stop offset="0.64116" stop-color="#fc8323"/><stop offset="0.6714" stop-color="#fd8825"/><stop offset="0.7145" stop-color="#f9751d"/><stop offset="0.73114" stop-color="#f9781e"/><stop offset="0.76365" stop-color="#fd8c27"/><stop offset="0.80977" stop-color="#fe932a"/><stop offset="0.84757" stop-color="#fd8e28"/><stop offset="0.88613" stop-color="#fe9b2d"/><stop offset="0.9073" stop-color="#fe9129"/><stop offset="0.94133" stop-color="#fea431"/><stop offset="1" stop-color="#fe9b2d"/></linearGradient><linearGradient id="a35" gradientUnits="userSpaceOnUse" x1="316.2" x2="977.5" y1="0" y2="0"><stop offset="0" stop-color="#2abaed"/><stop offset="0.00227" stop-color="#18d7ca"/><stop offset="0.00302" stop-color="#18dfbf"/><stop offset="0.00454" stop-color="#23eca9"/><stop offset="0.00529" stop-color="#2ff19b"/><stop offset="0.00983" stop-color="#61fc6c"/><stop offset="0.01059" stop-color="#6efe61"/><stop offset="0.01134" stop-color="#84ff51"/><stop offset="0.01285" stop-color="#a8fc3a"/><stop offset="0.01437" stop-color="#c3f134"/><stop offset="0.01512" stop-color="#d0ea35"/><stop offset="0.01588" stop-color="#e4da38"/><stop offset="0.01663" stop-color="#faba38"/><stop offset="0.01739" stop-color="#fd9229"/><stop offset="0.01815" stop-color="#f46516"/><stop offset="0.0189" stop-color="#e04009"/><stop offset="0.01966" stop-color="#c12403"/><stop offset="0.02041" stop-color="#990e01"/><stop offset="0.02117" stop-color="#7a0403"/><stop offset="0.14517" stop-color="#7a0403"/><stop offset="0.14744" stop-color="#840702"/><stop offset="0.15273" stop-color="#c02302"/><stop offset="0.155" stop-color="#d43305"/><stop offset="0.15651" stop-color="#d83707"/><stop offset="0.18449" stop-color="#ea4f0d"/><stop offset="0.20717" stop-color="#f56918"/><stop offset="0.24497" stop-color="#fb7f21"/><stop offset="0.26463" stop-color="#fe972b"/><stop offset="0.28429" stop-color="#fd8d27"/><stop offset="0.31226" stop-color="#fe992c"/><stop offset="0.34251" stop-color="#fd8825"/><stop offset="0.36443" stop-color="#fe9b2d"/><stop offset="0.38636" stop-color="#fea732"/><stop offset="0.40602" stop-color="#fd8d27"/><stop offset="0.4098" stop-color="#fd8d27"/><stop offset="0.42946" stop-color="#fe932a"/><stop offset="0.46046" stop-color="#fdae35"/><stop offset="0.48087" stop-color="#fe9e2f"/><stop offset="0.53228" stop-color="#fd8d27"/><stop offset="0.54892" stop-color="#fe992c"/><stop offset="0.58143" stop-color="#fc8725"/><stop offset="0.60865" stop-color="#fe992c"/><stop offset="0.64116" stop-color="#fd8825"/><stop offset="0.67367" stop-color="#fd8d27"/><stop offset="0.71979" stop-color="#fa7b1f"/><stop offset="0.73265" stop-color="#fb7e21"/><stop offset="0.76062" stop-color="#fd9029"/><stop offset="0.81279" stop-color="#fe992c"/><stop offset="0.84833" stop-color="#fe932a"/><stop offset="0.88538" stop-color="#fea130"/><stop offset="0.90806" stop-color="#fe962b"/><stop offset="0.94284" stop-color="#fea933"/><stop offset="0.97535" stop-color="#fea130"/><stop offset="1" stop-color="#fea130"/></linearGradient><linearGradient id="a36" gradientUnits="userSpaceOnUse" x1="316.2" x2="977.5" y1="0" y2="0"><stop offset="0" stop-color="#2cb7f0"/><stop offset="0.00227" stop-color="#19d5ce"/><stop offset="0.00378" stop-color="#1ae4b7"/><stop offset="0.00454" stop-color="#21eaac"/><stop offset="0.00605" stop-color="#34f395"/><stop offset="0.00983" stop-color="#5dfc6f"/><stop offset="0.01059" stop-color="#6afd64"/><stop offset="0.01285" stop-color="#a0fd3e"/><stop offset="0.01437" stop-color="#baf635"/><stop offset="0.01512" stop-color="#c7f034"/><stop offset="0.01588" stop-color="#dbe236"/><stop offset="0.01663" stop-color="#f4c63a"/><stop offset="0.01739" stop-color="#fea531"/><stop offset="0.01815" stop-color="#fa7b1f"/><stop offset="0.0189" stop-color="#ec530f"/><stop offset="0.01966" stop-color="#d53406"/><stop offset="0.02041" stop-color="#b51c02"/><stop offset="0.02117" stop-color="#8c0a02"/><stop offset="0.02193" stop-color="#7d0503"/><stop offset="0.02344" stop-color="#7a0403"/><stop offset="0.14214" stop-color="#7a0403"/><stop offset="0.14441" stop-color="#820602"/><stop offset="0.14592" stop-color="#8e0b02"/><stop offset="0.15197" stop-color="#ca2a04"/><stop offset="0.155" stop-color="#df3f08"/><stop offset="0.15651" stop-color="#e24209"/><stop offset="0.1807" stop-color="#ee5711"/><stop offset="0.20641" stop-color="#f9751d"/><stop offset="0.22909" stop-color="#fc8423"/><stop offset="0.24648" stop-color="#fd8a26"/><stop offset="0.26463" stop-color="#fe9e2f"/><stop offset="0.28429" stop-color="#fe952b"/><stop offset="0.31" stop-color="#fea02f"/><stop offset="0.34251" stop-color="#fd9029"/><stop offset="0.36519" stop-color="#fea330"/><stop offset="0.38636" stop-color="#fdad34"/><stop offset="0.40602" stop-color="#fe952b"/><stop offset="0.4098" stop-color="#fe952b"/><stop offset="0.42946" stop-color="#fe9b2d"/><stop offset="0.4597" stop-color="#fcb437"/><stop offset="0.48238" stop-color="#fea531"/><stop offset="0.53228" stop-color="#fe952b"/><stop offset="0.54892" stop-color="#fe9f2f"/><stop offset="0.58143" stop-color="#fd8f28"/><stop offset="0.60638" stop-color="#fea02f"/><stop offset="0.64116" stop-color="#fd9029"/><stop offset="0.67443" stop-color="#fe942a"/><stop offset="0.71979" stop-color="#fc8323"/><stop offset="0.73265" stop-color="#fc8624"/><stop offset="0.76516" stop-color="#fe992c"/><stop offset="0.81204" stop-color="#fe9f2f"/><stop offset="0.84833" stop-color="#fe9b2d"/><stop offset="0.88538" stop-color="#fea732"/><stop offset="0.90579" stop-color="#fe9c2e"/><stop offset="0.94057" stop-color="#fdae35"/><stop offset="1" stop-color="#fea732"/></linearGradient><linearGradient id="a37" gradientUnits="userSpaceOnUse" x1="316.2" x2="977.5" y1="0" y2="0"><stop offset="0" stop-color="#2fb2f3"/><stop offset="0.00227" stop-color="#1ad2d1"/><stop offset="0.00378" stop-color="#19e3b9"/><stop offset="0.00454" stop-color="#1fe9ae"/><stop offset="0.00605" stop-color="#31f299"/><stop offset="0.00983" stop-color="#5bfb72"/><stop offset="0.01059" stop-color="#66fd68"/><stop offset="0.01285" stop-color="#99fe42"/><stop offset="0.01512" stop-color="#bef434"/><stop offset="0.01588" stop-color="#d2e935"/><stop offset="0.01663" stop-color="#ecd139"/><stop offset="0.01739" stop-color="#fbb537"/><stop offset="0.01815" stop-color="#fd9229"/><stop offset="0.0189" stop-color="#f56a18"/><stop offset="0.01966" stop-color="#e5470b"/><stop offset="0.02041" stop-color="#ce2e05"/><stop offset="0.02117" stop-color="#ae1901"/><stop offset="0.02193" stop-color="#950d02"/><stop offset="0.02495" stop-color="#850802"/><stop offset="0.02873" stop-color="#7a0403"/><stop offset="0.13912" stop-color="#7e0502"/><stop offset="0.14063" stop-color="#820602"/><stop offset="0.1429" stop-color="#910c02"/><stop offset="0.14744" stop-color="#b91e02"/><stop offset="0.15046" stop-color="#d02f05"/><stop offset="0.15575" stop-color="#e94e0d"/><stop offset="0.20868" stop-color="#fc8423"/><stop offset="0.22985" stop-color="#fd9029"/><stop offset="0.24497" stop-color="#fe932a"/><stop offset="0.26387" stop-color="#fea632"/><stop offset="0.27068" stop-color="#fea632"/><stop offset="0.28353" stop-color="#fe9c2e"/><stop offset="0.31075" stop-color="#fea732"/><stop offset="0.34251" stop-color="#fe982c"/><stop offset="0.36519" stop-color="#fdaa33"/><stop offset="0.38636" stop-color="#fcb336"/><stop offset="0.40602" stop-color="#fe9c2e"/><stop offset="0.40904" stop-color="#fe9c2e"/><stop offset="0.4287" stop-color="#fea230"/><stop offset="0.4597" stop-color="#faba38"/><stop offset="0.48238" stop-color="#fdac34"/><stop offset="0.53304" stop-color="#fe9c2e"/><stop offset="0.54892" stop-color="#fea732"/><stop offset="0.58067" stop-color="#fe972b"/><stop offset="0.60714" stop-color="#fea732"/><stop offset="0.64116" stop-color="#fe982c"/><stop offset="0.67216" stop-color="#fe9c2e"/><stop offset="0.71526" stop-color="#fd8b26"/><stop offset="0.73416" stop-color="#fd8f28"/><stop offset="0.76365" stop-color="#fea02f"/><stop offset="0.81204" stop-color="#fea732"/><stop offset="0.84757" stop-color="#fea230"/><stop offset="0.88538" stop-color="#fdae35"/><stop offset="0.90579" stop-color="#fea431"/><stop offset="0.94133" stop-color="#fbb537"/><stop offset="1" stop-color="#fdae35"/></linearGradient><linearGradient id="a38" gradientUnits="userSpaceOnUse" x1="316.2" x2="977.5" y1="0" y2="0"><stop offset="0" stop-color="#32aff6"/><stop offset="0.00227" stop-color="#1bd0d5"/><stop offset="0.00378" stop-color="#18e1bd"/><stop offset="0.00454" stop-color="#1ee8b1"/><stop offset="0.00605" stop-color="#2ef19c"/><stop offset="0.00983" stop-color="#57fb75"/><stop offset="0.01285" stop-color="#91ff48"/><stop offset="0.01512" stop-color="#b4f836"/><stop offset="0.01588" stop-color="#c7ef34"/><stop offset="0.01663" stop-color="#e2db38"/><stop offset="0.01739" stop-color="#f6c33a"/><stop offset="0.01815" stop-color="#fda632"/><stop offset="0.0189" stop-color="#fc8423"/><stop offset="0.01966" stop-color="#f26114"/><stop offset="0.02041" stop-color="#e2430a"/><stop offset="0.02117" stop-color="#cb2c04"/><stop offset="0.02193" stop-color="#b91f02"/><stop offset="0.02419" stop-color="#ac1701"/><stop offset="0.02949" stop-color="#8a0902"/><stop offset="0.03251" stop-color="#7f0502"/><stop offset="0.04385" stop-color="#930d02"/><stop offset="0.13836" stop-color="#970e02"/><stop offset="0.1429" stop-color="#b41c02"/><stop offset="0.14819" stop-color="#d43306"/><stop offset="0.15575" stop-color="#f15e13"/><stop offset="0.20717" stop-color="#fd9029"/><stop offset="0.23136" stop-color="#fe9b2d"/><stop offset="0.24422" stop-color="#fe9c2e"/><stop offset="0.26463" stop-color="#fdae34"/><stop offset="0.28278" stop-color="#fea431"/><stop offset="0.31075" stop-color="#fdae35"/><stop offset="0.34251" stop-color="#fe9f2f"/><stop offset="0.36519" stop-color="#fcb136"/><stop offset="0.38636" stop-color="#fab938"/><stop offset="0.40753" stop-color="#fea431"/><stop offset="0.4287" stop-color="#fea933"/><stop offset="0.4597" stop-color="#f7c03a"/><stop offset="0.48238" stop-color="#fcb236"/><stop offset="0.5338" stop-color="#fea431"/><stop offset="0.54892" stop-color="#fdae34"/><stop offset="0.58067" stop-color="#fe9e2f"/><stop offset="0.60714" stop-color="#fdae35"/><stop offset="0.64192" stop-color="#fe9f2f"/><stop offset="0.67216" stop-color="#fea431"/><stop offset="0.71828" stop-color="#fe942a"/><stop offset="0.73492" stop-color="#fe982c"/><stop offset="0.76289" stop-color="#fea732"/><stop offset="0.80372" stop-color="#fdad34"/><stop offset="0.84757" stop-color="#fea933"/><stop offset="0.88538" stop-color="#fbb537"/><stop offset="0.90579" stop-color="#fdab34"/><stop offset="0.94208" stop-color="#fabb39"/><stop offset="1" stop-color="#fbb537"/></linearGradient><linearGradient id="a39" gradientUnits="userSpaceOnUse" x1="316.2" x2="977.5" y1="0" y2="0"><stop offset="0" stop-color="#35abf8"/><stop offset="0.00302" stop-color="#19d6cc"/><stop offset="0.00454" stop-color="#1ce6b3"/><stop offset="0.00605" stop-color="#2bef9f"/><stop offset="0.00983" stop-color="#53fa78"/><stop offset="0.01059" stop-color="#5dfc6f"/><stop offset="0.0121" stop-color="#7dff56"/><stop offset="0.01512" stop-color="#abfb38"/><stop offset="0.01588" stop-color="#bcf534"/><stop offset="0.01663" stop-color="#d7e536"/><stop offset="0.01739" stop-color="#edd039"/><stop offset="0.01815" stop-color="#fab938"/><stop offset="0.0189" stop-color="#fe9d2e"/><stop offset="0.01966" stop-color="#fa7d20"/><stop offset="0.02117" stop-color="#e1420a"/><stop offset="0.02193" stop-color="#d43306"/><stop offset="0.02873" stop-color="#af1901"/><stop offset="0.03251" stop-color="#980e01"/><stop offset="0.0431" stop-color="#b81e02"/><stop offset="0.13836" stop-color="#bd2102"/><stop offset="0.14895" stop-color="#e6490c"/><stop offset="0.15575" stop-color="#f76f1a"/><stop offset="0.20566" stop-color="#fe9c2e"/><stop offset="0.24573" stop-color="#fea732"/><stop offset="0.26463" stop-color="#fbb637"/><stop offset="0.28202" stop-color="#fdad34"/><stop offset="0.31075" stop-color="#fbb637"/><stop offset="0.34326" stop-color="#fea833"/><stop offset="0.36292" stop-color="#fbb738"/><stop offset="0.38636" stop-color="#f7c03a"/><stop offset="0.40753" stop-color="#fdad34"/><stop offset="0.43097" stop-color="#fcb236"/><stop offset="0.46046" stop-color="#f4c63a"/><stop offset="0.48238" stop-color="#fab938"/><stop offset="0.5338" stop-color="#fdad34"/><stop offset="0.55119" stop-color="#fbb537"/><stop offset="0.58067" stop-color="#fea732"/><stop offset="0.60714" stop-color="#fbb637"/><stop offset="0.64041" stop-color="#fea833"/><stop offset="0.67216" stop-color="#fdad34"/><stop offset="0.71148" stop-color="#fe9d2e"/><stop offset="0.72206" stop-color="#fe9d2e"/><stop offset="0.76289" stop-color="#fcb035"/><stop offset="0.80372" stop-color="#fbb537"/><stop offset="0.84757" stop-color="#fcb236"/><stop offset="0.88689" stop-color="#f9bc39"/><stop offset="0.90655" stop-color="#fcb336"/><stop offset="0.94208" stop-color="#f6c23a"/><stop offset="1" stop-color="#f9bc39"/></linearGradient><linearGradient id="a40" gradientUnits="userSpaceOnUse" x1="316.2" x2="977.5" y1="0" y2="0"><stop offset="0" stop-color="#37a7fa"/><stop offset="0.00151" stop-color="#26bfe8"/><stop offset="0.00302" stop-color="#1ad4d0"/><stop offset="0.00454" stop-color="#1ae4b6"/><stop offset="0.00605" stop-color="#28eea3"/><stop offset="0.00983" stop-color="#4ef97d"/><stop offset="0.0121" stop-color="#75fe5c"/><stop offset="0.01512" stop-color="#a3fd3c"/><stop offset="0.01588" stop-color="#b3f836"/><stop offset="0.01663" stop-color="#cdec34"/><stop offset="0.01815" stop-color="#f3c73a"/><stop offset="0.0189" stop-color="#fcb136"/><stop offset="0.01966" stop-color="#fe962b"/><stop offset="0.02117" stop-color="#f05b12"/><stop offset="0.02193" stop-color="#e74b0d"/><stop offset="0.02571" stop-color="#d93807"/><stop offset="0.03251" stop-color="#b91f02"/><stop offset="0.0431" stop-color="#d43306"/><stop offset="0.13836" stop-color="#d83807"/><stop offset="0.14744" stop-color="#f05b12"/><stop offset="0.155" stop-color="#fb8122"/><stop offset="0.15651" stop-color="#fc8423"/><stop offset="0.20717" stop-color="#fdae35"/><stop offset="0.248" stop-color="#fab938"/><stop offset="0.26387" stop-color="#f4c539"/><stop offset="0.2858" stop-color="#f7be39"/><stop offset="0.31378" stop-color="#f4c539"/><stop offset="0.34326" stop-color="#f9ba38"/><stop offset="0.36368" stop-color="#f3c73a"/><stop offset="0.38636" stop-color="#eece3a"/><stop offset="0.40451" stop-color="#f7be39"/><stop offset="0.41585" stop-color="#f7be39"/><stop offset="0.43173" stop-color="#f5c339"/><stop offset="0.46046" stop-color="#ead439"/><stop offset="0.48087" stop-color="#f2c93a"/><stop offset="0.52624" stop-color="#f7be39"/><stop offset="0.53833" stop-color="#f7be39"/><stop offset="0.55043" stop-color="#f4c539"/><stop offset="0.5837" stop-color="#f9ba38"/><stop offset="0.6026" stop-color="#f4c539"/><stop offset="0.61092" stop-color="#f4c539"/><stop offset="0.64041" stop-color="#f9ba38"/><stop offset="0.67216" stop-color="#f7be39"/><stop offset="0.71753" stop-color="#fcb035"/><stop offset="0.73265" stop-color="#fbb336"/><stop offset="0.76214" stop-color="#f6c039"/><stop offset="0.78179" stop-color="#f5c339"/><stop offset="0.84606" stop-color="#f6c139"/><stop offset="0.88538" stop-color="#f0cb3a"/><stop offset="0.90655" stop-color="#f5c339"/><stop offset="0.94208" stop-color="#edd039"/><stop offset="1" stop-color="#f0cb3a"/></linearGradient><linearGradient id="a41" gradientUnits="userSpaceOnUse" x1="316.2" x2="977.5" y1="0" y2="0"><stop offset="0" stop-color="#3aa3fc"/><stop offset="0.00151" stop-color="#28bceb"/><stop offset="0.00302" stop-color="#1bd0d4"/><stop offset="0.00454" stop-color="#19e2bb"/><stop offset="0.00605" stop-color="#25eca7"/><stop offset="0.00983" stop-color="#48f883"/><stop offset="0.0121" stop-color="#6dfe62"/><stop offset="0.01512" stop-color="#9bfe41"/><stop offset="0.01588" stop-color="#aafb39"/><stop offset="0.01663" stop-color="#c2f234"/><stop offset="0.01739" stop-color="#d7e536"/><stop offset="0.0189" stop-color="#f6c13a"/><stop offset="0.01966" stop-color="#fdac34"/><stop offset="0.02117" stop-color="#f9781e"/><stop offset="0.02193" stop-color="#f46717"/><stop offset="0.02722" stop-color="#e6490c"/><stop offset="0.03251" stop-color="#d43306"/><stop offset="0.04385" stop-color="#e84c0d"/><stop offset="0.13836" stop-color="#ec540f"/><stop offset="0.14744" stop-color="#f9781e"/><stop offset="0.155" stop-color="#fe972b"/><stop offset="0.15802" stop-color="#fe9b2d"/><stop offset="0.20717" stop-color="#f7bf39"/><stop offset="0.248" stop-color="#efcc3a"/><stop offset="0.26463" stop-color="#e5d838"/><stop offset="0.28883" stop-color="#ead339"/><stop offset="0.31302" stop-color="#e5d938"/><stop offset="0.34326" stop-color="#edcf39"/><stop offset="0.36443" stop-color="#e3db38"/><stop offset="0.38712" stop-color="#dde037"/><stop offset="0.40451" stop-color="#ead339"/><stop offset="0.4166" stop-color="#ead339"/><stop offset="0.4287" stop-color="#e8d539"/><stop offset="0.46046" stop-color="#d7e536"/><stop offset="0.48541" stop-color="#e3db38"/><stop offset="0.52624" stop-color="#ead339"/><stop offset="0.54967" stop-color="#e5d938"/><stop offset="0.58294" stop-color="#edcf39"/><stop offset="0.60941" stop-color="#e5d938"/><stop offset="0.64041" stop-color="#edcf39"/><stop offset="0.67216" stop-color="#ead339"/><stop offset="0.7145" stop-color="#f2c73a"/><stop offset="0.73114" stop-color="#f2c93a"/><stop offset="0.76289" stop-color="#e8d539"/><stop offset="0.80977" stop-color="#e5d938"/><stop offset="0.84682" stop-color="#e8d539"/><stop offset="0.88538" stop-color="#e0dd37"/><stop offset="0.9073" stop-color="#e7d738"/><stop offset="0.94208" stop-color="#dbe236"/><stop offset="1" stop-color="#e0dd37"/></linearGradient><linearGradient id="a42" gradientUnits="userSpaceOnUse" x1="316.2" x2="977.5" y1="0" y2="0"><stop offset="0" stop-color="#3ca0fd"/><stop offset="0.00151" stop-color="#2cb7f0"/><stop offset="0.00378" stop-color="#18d7ca"/><stop offset="0.00529" stop-color="#1de7b2"/><stop offset="0.00605" stop-color="#21eaac"/><stop offset="0.00832" stop-color="#33f297"/><stop offset="0.01059" stop-color="#4df97e"/><stop offset="0.01285" stop-color="#71fe5f"/><stop offset="0.01512" stop-color="#92ff47"/><stop offset="0.01588" stop-color="#a2fd3d"/><stop offset="0.01663" stop-color="#b7f735"/><stop offset="0.01739" stop-color="#cced34"/><stop offset="0.0189" stop-color="#edd039"/><stop offset="0.02041" stop-color="#fdac34"/><stop offset="0.02117" stop-color="#fd952b"/><stop offset="0.02193" stop-color="#fc8725"/><stop offset="0.02949" stop-color="#ee5911"/><stop offset="0.03251" stop-color="#e84c0d"/><stop offset="0.0431" stop-color="#f56918"/><stop offset="0.04612" stop-color="#f56b19"/><stop offset="0.13836" stop-color="#f9771e"/><stop offset="0.15122" stop-color="#fea02f"/><stop offset="0.15575" stop-color="#fdad34"/><stop offset="0.17692" stop-color="#f9bc39"/><stop offset="0.21624" stop-color="#ead339"/><stop offset="0.24648" stop-color="#e0dd37"/><stop offset="0.26387" stop-color="#d2e835"/><stop offset="0.28958" stop-color="#d6e536"/><stop offset="0.31151" stop-color="#cfea35"/><stop offset="0.34251" stop-color="#dbe236"/><stop offset="0.38636" stop-color="#c7ef34"/><stop offset="0.40451" stop-color="#d6e536"/><stop offset="0.41736" stop-color="#d6e536"/><stop offset="0.42946" stop-color="#d4e735"/><stop offset="0.46046" stop-color="#c1f235"/><stop offset="0.48238" stop-color="#cdeb35"/><stop offset="0.52548" stop-color="#d6e536"/><stop offset="0.53833" stop-color="#d6e536"/><stop offset="0.54892" stop-color="#d0e935"/><stop offset="0.58294" stop-color="#dbe236"/><stop offset="0.60789" stop-color="#cfea35"/><stop offset="0.64116" stop-color="#dbe236"/><stop offset="0.67216" stop-color="#d6e536"/><stop offset="0.70921" stop-color="#e1dc37"/><stop offset="0.7266" stop-color="#e1dc37"/><stop offset="0.76289" stop-color="#d4e735"/><stop offset="0.78784" stop-color="#d2e835"/><stop offset="0.84833" stop-color="#d4e735"/><stop offset="0.88235" stop-color="#cbed34"/><stop offset="0.90882" stop-color="#d2e835"/><stop offset="0.94208" stop-color="#c5f034"/><stop offset="1" stop-color="#cbed34"/></linearGradient><linearGradient id="a43" gradientUnits="userSpaceOnUse" x1="316.2" x2="977.5" y1="0" y2="0"><stop offset="0" stop-color="#3e9bfe"/><stop offset="0.00151" stop-color="#2eb4f2"/><stop offset="0.00378" stop-color="#1ad4d0"/><stop offset="0.00529" stop-color="#1ae4b6"/><stop offset="0.0068" stop-color="#23ebaa"/><stop offset="0.01059" stop-color="#48f883"/><stop offset="0.01512" stop-color="#89ff4d"/><stop offset="0.01588" stop-color="#99fe43"/><stop offset="0.01663" stop-color="#acfa38"/><stop offset="0.01739" stop-color="#bef434"/><stop offset="0.0189" stop-color="#e0de37"/><stop offset="0.02041" stop-color="#f6c239"/><stop offset="0.02117" stop-color="#fcb035"/><stop offset="0.02193" stop-color="#fda531"/><stop offset="0.03176" stop-color="#f66d1a"/><stop offset="0.03251" stop-color="#f66c19"/><stop offset="0.04385" stop-color="#fd8d27"/><stop offset="0.13836" stop-color="#fd9b2d"/><stop offset="0.14744" stop-color="#fcae34"/><stop offset="0.155" stop-color="#f8be39"/><stop offset="0.16105" stop-color="#f6c33a"/><stop offset="0.22078" stop-color="#d9e436"/><stop offset="0.24422" stop-color="#ceeb35"/><stop offset="0.26614" stop-color="#b9f635"/><stop offset="0.29034" stop-color="#bef335"/><stop offset="0.31" stop-color="#b6f736"/><stop offset="0.34251" stop-color="#c3f134"/><stop offset="0.36746" stop-color="#b4f737"/><stop offset="0.38712" stop-color="#aff938"/><stop offset="0.40375" stop-color="#bef335"/><stop offset="0.41812" stop-color="#bef335"/><stop offset="0.42946" stop-color="#bcf435"/><stop offset="0.46046" stop-color="#a8fb3a"/><stop offset="0.48087" stop-color="#b4f737"/><stop offset="0.52472" stop-color="#bef335"/><stop offset="0.55421" stop-color="#b9f635"/><stop offset="0.58219" stop-color="#c3f134"/><stop offset="0.60638" stop-color="#b6f736"/><stop offset="0.64192" stop-color="#c3f134"/><stop offset="0.67216" stop-color="#bef335"/><stop offset="0.71979" stop-color="#cbed34"/><stop offset="0.76365" stop-color="#bcf435"/><stop offset="0.79238" stop-color="#b9f635"/><stop offset="0.84984" stop-color="#bcf435"/><stop offset="0.88462" stop-color="#b2f837"/><stop offset="0.91033" stop-color="#b9f635"/><stop offset="0.94284" stop-color="#acfa39"/><stop offset="1" stop-color="#b2f837"/></linearGradient><linearGradient id="a44" gradientUnits="userSpaceOnUse" x1="316.2" x2="977.5" y1="0" y2="0"><stop offset="0" stop-color="#4097ff"/><stop offset="0.00151" stop-color="#31aff5"/><stop offset="0.00378" stop-color="#1bd0d5"/><stop offset="0.00529" stop-color="#19e2bb"/><stop offset="0.0068" stop-color="#1fe9af"/><stop offset="0.00983" stop-color="#38f491"/><stop offset="0.01512" stop-color="#7fff54"/><stop offset="0.01588" stop-color="#8eff4a"/><stop offset="0.01663" stop-color="#a1fd3d"/><stop offset="0.01815" stop-color="#c2f234"/><stop offset="0.01966" stop-color="#dfde37"/><stop offset="0.02117" stop-color="#f4c53a"/><stop offset="0.02193" stop-color="#f9bc39"/><stop offset="0.02495" stop-color="#fcaf35"/><stop offset="0.03176" stop-color="#fd8c27"/><stop offset="0.04385" stop-color="#fda933"/><stop offset="0.13912" stop-color="#fbb737"/><stop offset="0.155" stop-color="#f0cc3a"/><stop offset="0.17163" stop-color="#e8d639"/><stop offset="0.22078" stop-color="#c9ee34"/><stop offset="0.24422" stop-color="#bdf434"/><stop offset="0.26614" stop-color="#a6fc3b"/><stop offset="0.28353" stop-color="#abfb39"/><stop offset="0.31" stop-color="#a3fd3c"/><stop offset="0.34251" stop-color="#affa37"/><stop offset="0.36746" stop-color="#a0fd3e"/><stop offset="0.38712" stop-color="#9bfe41"/><stop offset="0.40451" stop-color="#aafb39"/><stop offset="0.41812" stop-color="#aafb39"/><stop offset="0.43021" stop-color="#a8fc3a"/><stop offset="0.4597" stop-color="#93fe46"/><stop offset="0.48692" stop-color="#a2fd3d"/><stop offset="0.52548" stop-color="#aafb39"/><stop offset="0.55194" stop-color="#a5fc3b"/><stop offset="0.58143" stop-color="#b0f937"/><stop offset="0.60638" stop-color="#a3fd3c"/><stop offset="0.64192" stop-color="#affa37"/><stop offset="0.67216" stop-color="#abfb39"/><stop offset="0.71979" stop-color="#b6f735"/><stop offset="0.76365" stop-color="#a9fb3a"/><stop offset="0.79994" stop-color="#a5fc3b"/><stop offset="0.84984" stop-color="#a8fc3a"/><stop offset="0.88916" stop-color="#9ffd3e"/><stop offset="0.90655" stop-color="#a6fc3b"/><stop offset="0.94284" stop-color="#98fe43"/><stop offset="1" stop-color="#9ffd3e"/></linearGradient><linearGradient id="a45" gradientUnits="userSpaceOnUse" x1="316.2" x2="977.5" y1="0" y2="0"><stop offset="0" stop-color="#4294ff"/><stop offset="0.00151" stop-color="#35abf8"/><stop offset="0.00454" stop-color="#19d5ce"/><stop offset="0.00529" stop-color="#18ddc2"/><stop offset="0.0068" stop-color="#1ce6b4"/><stop offset="0.00832" stop-color="#25eca7"/><stop offset="0.01059" stop-color="#3cf58e"/><stop offset="0.01512" stop-color="#74fe5d"/><stop offset="0.01588" stop-color="#83ff52"/><stop offset="0.01663" stop-color="#97fe44"/><stop offset="0.01815" stop-color="#b7f735"/><stop offset="0.02041" stop-color="#dfde37"/><stop offset="0.02193" stop-color="#f1cb3a"/><stop offset="0.03176" stop-color="#fea431"/><stop offset="0.04385" stop-color="#faba38"/><stop offset="0.14063" stop-color="#f3c73a"/><stop offset="0.15575" stop-color="#e6d838"/><stop offset="0.19431" stop-color="#cfeb34"/><stop offset="0.24422" stop-color="#b1f936"/><stop offset="0.26841" stop-color="#9bfe41"/><stop offset="0.28353" stop-color="#a1fd3d"/><stop offset="0.31226" stop-color="#9afe42"/><stop offset="0.34326" stop-color="#a4fc3c"/><stop offset="0.38636" stop-color="#8fff49"/><stop offset="0.40829" stop-color="#a1fd3d"/><stop offset="0.43021" stop-color="#9dfe40"/><stop offset="0.4597" stop-color="#87ff4f"/><stop offset="0.48465" stop-color="#97fe44"/><stop offset="0.5338" stop-color="#a1fd3d"/><stop offset="0.54892" stop-color="#9afe42"/><stop offset="0.58067" stop-color="#a5fc3b"/><stop offset="0.60941" stop-color="#9afe42"/><stop offset="0.64041" stop-color="#a4fc3c"/><stop offset="0.67367" stop-color="#a1fd3d"/><stop offset="0.71979" stop-color="#acfa38"/><stop offset="0.76289" stop-color="#9ffd3f"/><stop offset="0.81128" stop-color="#9afe42"/><stop offset="0.84682" stop-color="#9efd3f"/><stop offset="0.88613" stop-color="#93fe46"/><stop offset="0.90655" stop-color="#9cfe41"/><stop offset="0.94208" stop-color="#8cff4b"/><stop offset="1" stop-color="#93fe46"/></linearGradient><linearGradient id="a46" gradientUnits="userSpaceOnUse" x1="316.2" x2="977.5" y1="0" y2="0"><stop offset="0" stop-color="#4390fe"/><stop offset="0.00076" stop-color="#3e9bfe"/><stop offset="0.00227" stop-color="#2fb2f3"/><stop offset="0.00454" stop-color="#1bd0d5"/><stop offset="0.00605" stop-color="#18dec1"/><stop offset="0.00832" stop-color="#21eaac"/><stop offset="0.01134" stop-color="#3ff68a"/><stop offset="0.01512" stop-color="#69fd66"/><stop offset="0.01588" stop-color="#76fe5b"/><stop offset="0.01739" stop-color="#9cfe41"/><stop offset="0.01815" stop-color="#aafb39"/><stop offset="0.01966" stop-color="#c6f034"/><stop offset="0.02117" stop-color="#dedf37"/><stop offset="0.02193" stop-color="#e6d838"/><stop offset="0.03251" stop-color="#fbb637"/><stop offset="0.04385" stop-color="#f2c83a"/><stop offset="0.13988" stop-color="#ead339"/><stop offset="0.16256" stop-color="#d8e436"/><stop offset="0.21322" stop-color="#b7f735"/><stop offset="0.24422" stop-color="#a7fc3a"/><stop offset="0.26841" stop-color="#90ff48"/><stop offset="0.28278" stop-color="#98fe43"/><stop offset="0.31151" stop-color="#8fff49"/><stop offset="0.34251" stop-color="#9bfe41"/><stop offset="0.38636" stop-color="#83ff52"/><stop offset="0.40753" stop-color="#98fe43"/><stop offset="0.4287" stop-color="#93fe46"/><stop offset="0.46046" stop-color="#7bfe57"/><stop offset="0.48087" stop-color="#8aff4c"/><stop offset="0.5338" stop-color="#98fe43"/><stop offset="0.55119" stop-color="#90ff48"/><stop offset="0.58067" stop-color="#9cfe41"/><stop offset="0.60789" stop-color="#8fff49"/><stop offset="0.64116" stop-color="#9bfe41"/><stop offset="0.67367" stop-color="#98fe43"/><stop offset="0.71979" stop-color="#a2fd3d"/><stop offset="0.76289" stop-color="#94fe45"/><stop offset="0.80296" stop-color="#90ff48"/><stop offset="0.84757" stop-color="#93fe46"/><stop offset="0.88765" stop-color="#89ff4d"/><stop offset="0.9073" stop-color="#91ff48"/><stop offset="0.94133" stop-color="#82ff53"/><stop offset="1" stop-color="#89ff4d"/></linearGradient><linearGradient id="a47" gradientUnits="userSpaceOnUse" x1="316.2" x2="977.5" y1="0" y2="0"><stop offset="0" stop-color="#448dfd"/><stop offset="0.00076" stop-color="#4098ff"/><stop offset="0.00227" stop-color="#33adf7"/><stop offset="0.00378" stop-color="#25c0e7"/><stop offset="0.00529" stop-color="#1ad3d0"/><stop offset="0.0068" stop-color="#18dec0"/><stop offset="0.00832" stop-color="#1de7b2"/><stop offset="0.01059" stop-color="#32f298"/><stop offset="0.01512" stop-color="#5ffc6e"/><stop offset="0.01588" stop-color="#6afd65"/><stop offset="0.01815" stop-color="#9ffd3f"/><stop offset="0.02041" stop-color="#c3f134"/><stop offset="0.02193" stop-color="#d7e536"/><stop offset="0.03251" stop-color="#f3c73a"/><stop offset="0.04461" stop-color="#e7d639"/><stop offset="0.13912" stop-color="#dfde37"/><stop offset="0.16634" stop-color="#caee34"/><stop offset="0.20112" stop-color="#b2f836"/><stop offset="0.24875" stop-color="#99fe43"/><stop offset="0.26463" stop-color="#85ff50"/><stop offset="0.26992" stop-color="#84ff51"/><stop offset="0.28278" stop-color="#8cff4b"/><stop offset="0.31151" stop-color="#83ff52"/><stop offset="0.34251" stop-color="#90ff48"/><stop offset="0.38636" stop-color="#77fe5a"/><stop offset="0.40753" stop-color="#8cff4b"/><stop offset="0.4287" stop-color="#88ff4e"/><stop offset="0.45819" stop-color="#70fe60"/><stop offset="0.48238" stop-color="#7fff54"/><stop offset="0.53455" stop-color="#8cff4b"/><stop offset="0.55043" stop-color="#84ff51"/><stop offset="0.58219" stop-color="#90ff48"/><stop offset="0.60789" stop-color="#83ff52"/><stop offset="0.64192" stop-color="#90ff48"/><stop offset="0.67443" stop-color="#8cff4b"/><stop offset="0.71223" stop-color="#99fe43"/><stop offset="0.73567" stop-color="#95fe45"/><stop offset="0.76289" stop-color="#89ff4d"/><stop offset="0.80599" stop-color="#84ff51"/><stop offset="0.84757" stop-color="#88ff4e"/><stop offset="0.88613" stop-color="#7dfe56"/><stop offset="0.90806" stop-color="#85ff50"/><stop offset="0.93982" stop-color="#76fe5b"/><stop offset="1" stop-color="#7dfe56"/></linearGradient><linearGradient id="a48" gradientUnits="userSpaceOnUse" x1="316.2" x2="977.5" y1="0" y2="0"><stop offset="0" stop-color="#458afc"/><stop offset="0.00076" stop-color="#4294ff"/><stop offset="0.00227" stop-color="#37a8fa"/><stop offset="0.00529" stop-color="#1dcdd8"/><stop offset="0.00756" stop-color="#18dfbe"/><stop offset="0.00907" stop-color="#1fe9af"/><stop offset="0.01059" stop-color="#2cf09e"/><stop offset="0.01512" stop-color="#53fa78"/><stop offset="0.01588" stop-color="#5ffc6e"/><stop offset="0.01815" stop-color="#91ff48"/><stop offset="0.0189" stop-color="#9ffd3f"/><stop offset="0.02117" stop-color="#c1f234"/><stop offset="0.02193" stop-color="#c8ee34"/><stop offset="0.03251" stop-color="#e7d738"/><stop offset="0.0431" stop-color="#dbe236"/><stop offset="0.13761" stop-color="#d2e935"/><stop offset="0.19583" stop-color="#a9fb39"/><stop offset="0.20717" stop-color="#9ffd3e"/><stop offset="0.24422" stop-color="#8fff49"/><stop offset="0.26917" stop-color="#77fe5a"/><stop offset="0.28278" stop-color="#80ff54"/><stop offset="0.31075" stop-color="#76fe5b"/><stop offset="0.34251" stop-color="#84ff51"/><stop offset="0.36519" stop-color="#74fe5d"/><stop offset="0.38712" stop-color="#6cfd63"/><stop offset="0.40753" stop-color="#80ff54"/><stop offset="0.43173" stop-color="#7afe58"/><stop offset="0.45894" stop-color="#64fd6a"/><stop offset="0.48011" stop-color="#72fe5e"/><stop offset="0.53455" stop-color="#80ff54"/><stop offset="0.55043" stop-color="#77fe5a"/><stop offset="0.58067" stop-color="#85ff50"/><stop offset="0.60714" stop-color="#76fe5b"/><stop offset="0.64192" stop-color="#84ff51"/><stop offset="0.67216" stop-color="#80ff54"/><stop offset="0.70921" stop-color="#8cff4b"/><stop offset="0.73189" stop-color="#8bff4c"/><stop offset="0.77272" stop-color="#7bfe57"/><stop offset="0.80599" stop-color="#77fe5a"/><stop offset="0.84833" stop-color="#7bfe57"/><stop offset="0.88462" stop-color="#70fe60"/><stop offset="0.90655" stop-color="#7afe58"/><stop offset="0.93906" stop-color="#6afd65"/><stop offset="1" stop-color="#70fe60"/></linearGradient><linearGradient id="a49" gradientUnits="userSpaceOnUse" x1="316.2" x2="977.5" y1="0" y2="0"><stop offset="0" stop-color="#4686fb"/><stop offset="0.00151" stop-color="#4099ff"/><stop offset="0.00378" stop-color="#2eb4f2"/><stop offset="0.0068" stop-color="#1ad3d0"/><stop offset="0.00907" stop-color="#1be5b6"/><stop offset="0.01059" stop-color="#26eda5"/><stop offset="0.01512" stop-color="#4af880"/><stop offset="0.01588" stop-color="#55fa76"/><stop offset="0.0189" stop-color="#93fe46"/><stop offset="0.02117" stop-color="#b4f836"/><stop offset="0.02268" stop-color="#bef434"/><stop offset="0.03251" stop-color="#d9e436"/><stop offset="0.04385" stop-color="#ceeb34"/><stop offset="0.13988" stop-color="#c6f034"/><stop offset="0.18524" stop-color="#a7fc3a"/><stop offset="0.20717" stop-color="#94fe45"/><stop offset="0.24573" stop-color="#82ff53"/><stop offset="0.2669" stop-color="#6dfe62"/><stop offset="0.28429" stop-color="#75fe5c"/><stop offset="0.31151" stop-color="#6cfd63"/><stop offset="0.34251" stop-color="#79fe59"/><stop offset="0.36519" stop-color="#69fd66"/><stop offset="0.38712" stop-color="#61fc6c"/><stop offset="0.40904" stop-color="#75fe5c"/><stop offset="0.43021" stop-color="#70fe60"/><stop offset="0.45894" stop-color="#59fb73"/><stop offset="0.48163" stop-color="#68fd67"/><stop offset="0.53304" stop-color="#75fe5c"/><stop offset="0.55119" stop-color="#6dfe62"/><stop offset="0.58067" stop-color="#7afe58"/><stop offset="0.60789" stop-color="#6cfd63"/><stop offset="0.64192" stop-color="#79fe59"/><stop offset="0.67216" stop-color="#75fe5c"/><stop offset="0.70921" stop-color="#82ff53"/><stop offset="0.72736" stop-color="#82ff53"/><stop offset="0.76894" stop-color="#71fe5f"/><stop offset="0.80372" stop-color="#6dfe62"/><stop offset="0.8506" stop-color="#70fe60"/><stop offset="0.88462" stop-color="#65fd69"/><stop offset="0.9073" stop-color="#6efe61"/><stop offset="0.94208" stop-color="#5ffc6e"/><stop offset="1" stop-color="#65fd69"/></linearGradient><linearGradient id="a50" gradientUnits="userSpaceOnUse" x1="316.2" x2="977.5" y1="0" y2="0"><stop offset="0" stop-color="#4683f9"/><stop offset="0.00151" stop-color="#4294ff"/><stop offset="0.00378" stop-color="#34acf7"/><stop offset="0.00529" stop-color="#28bceb"/><stop offset="0.00756" stop-color="#1ad3d0"/><stop offset="0.00983" stop-color="#1be5b5"/><stop offset="0.01512" stop-color="#43f787"/><stop offset="0.01815" stop-color="#7afe58"/><stop offset="0.02041" stop-color="#a0fd3e"/><stop offset="0.02193" stop-color="#b1f936"/><stop offset="0.02798" stop-color="#c0f334"/><stop offset="0.03251" stop-color="#caed34"/><stop offset="0.05217" stop-color="#c0f334"/><stop offset="0.13836" stop-color="#bcf534"/><stop offset="0.17768" stop-color="#a1fd3d"/><stop offset="0.20792" stop-color="#88ff4e"/><stop offset="0.24573" stop-color="#76fe5b"/><stop offset="0.26539" stop-color="#63fc6b"/><stop offset="0.28429" stop-color="#6afd65"/><stop offset="0.31151" stop-color="#61fc6c"/><stop offset="0.34251" stop-color="#6efe61"/><stop offset="0.36519" stop-color="#5ffc6e"/><stop offset="0.38636" stop-color="#57fb75"/><stop offset="0.40904" stop-color="#6afd65"/><stop offset="0.42719" stop-color="#66fd68"/><stop offset="0.46046" stop-color="#50fa7b"/><stop offset="0.48163" stop-color="#5dfc6f"/><stop offset="0.53304" stop-color="#6afd65"/><stop offset="0.55119" stop-color="#63fc6b"/><stop offset="0.58219" stop-color="#6efe61"/><stop offset="0.60789" stop-color="#61fc6c"/><stop offset="0.64192" stop-color="#6efe61"/><stop offset="0.67443" stop-color="#6afd65"/><stop offset="0.71753" stop-color="#77fe5a"/><stop offset="0.73114" stop-color="#76fe5b"/><stop offset="0.76592" stop-color="#66fd68"/><stop offset="0.80221" stop-color="#63fc6b"/><stop offset="0.84984" stop-color="#65fd69"/><stop offset="0.88538" stop-color="#5bfb72"/><stop offset="0.90655" stop-color="#64fd6a"/><stop offset="0.93982" stop-color="#55fa76"/><stop offset="1" stop-color="#5bfb72"/></linearGradient><linearGradient id="a51" gradientUnits="userSpaceOnUse" x1="316.2" x2="977.5" y1="0" y2="0"><stop offset="0" stop-color="#4680f6"/><stop offset="0.00227" stop-color="#4196ff"/><stop offset="0.00454" stop-color="#34acf7"/><stop offset="0.00605" stop-color="#28bceb"/><stop offset="0.00756" stop-color="#1dcdd8"/><stop offset="0.00983" stop-color="#19e1bc"/><stop offset="0.0121" stop-color="#23eba9"/><stop offset="0.01512" stop-color="#3cf58e"/><stop offset="0.0189" stop-color="#7bfe57"/><stop offset="0.02117" stop-color="#9ffd3f"/><stop offset="0.02268" stop-color="#a7fc3a"/><stop offset="0.03251" stop-color="#b9f635"/><stop offset="0.04612" stop-color="#b3f836"/><stop offset="0.14139" stop-color="#affa37"/><stop offset="0.17768" stop-color="#95fe45"/><stop offset="0.20566" stop-color="#7dfe56"/><stop offset="0.24573" stop-color="#6afd65"/><stop offset="0.26463" stop-color="#58fb74"/><stop offset="0.28278" stop-color="#60fc6d"/><stop offset="0.31151" stop-color="#57fb75"/><stop offset="0.34402" stop-color="#63fc6b"/><stop offset="0.36519" stop-color="#54fa77"/><stop offset="0.3856" stop-color="#4df97e"/><stop offset="0.40677" stop-color="#60fc6d"/><stop offset="0.42946" stop-color="#5bfb72"/><stop offset="0.46046" stop-color="#46f884"/><stop offset="0.48163" stop-color="#53fa78"/><stop offset="0.53455" stop-color="#60fc6d"/><stop offset="0.55194" stop-color="#58fb74"/><stop offset="0.58067" stop-color="#64fd6a"/><stop offset="0.60865" stop-color="#57fb75"/><stop offset="0.63965" stop-color="#63fc6b"/><stop offset="0.67594" stop-color="#60fc6d"/><stop offset="0.72131" stop-color="#6cfd63"/><stop offset="0.76365" stop-color="#5cfb71"/><stop offset="0.81431" stop-color="#57fb75"/><stop offset="0.84984" stop-color="#5bfb72"/><stop offset="0.8884" stop-color="#52fa7a"/><stop offset="0.90655" stop-color="#59fb73"/><stop offset="0.94057" stop-color="#4bf97f"/><stop offset="1" stop-color="#52fa7a"/></linearGradient><linearGradient id="a52" gradientUnits="userSpaceOnUse" x1="316.2" x2="977.5" y1="0" y2="0"><stop offset="0" stop-color="#467cf4"/><stop offset="0.00302" stop-color="#4196ff"/><stop offset="0.00529" stop-color="#35aaf8"/><stop offset="0.0068" stop-color="#28bceb"/><stop offset="0.00832" stop-color="#1dcdd8"/><stop offset="0.01059" stop-color="#19e2ba"/><stop offset="0.01285" stop-color="#23ebaa"/><stop offset="0.01512" stop-color="#35f394"/><stop offset="0.02041" stop-color="#88ff4e"/><stop offset="0.02193" stop-color="#99fe43"/><stop offset="0.03251" stop-color="#a8fb3a"/><stop offset="0.14063" stop-color="#a4fc3c"/><stop offset="0.20641" stop-color="#6efe61"/><stop offset="0.24573" stop-color="#5ffc6e"/><stop offset="0.26463" stop-color="#4ef97d"/><stop offset="0.2858" stop-color="#54fa77"/><stop offset="0.31226" stop-color="#4df97e"/><stop offset="0.34251" stop-color="#58fb74"/><stop offset="0.3856" stop-color="#43f787"/><stop offset="0.40375" stop-color="#53fa78"/><stop offset="0.41131" stop-color="#54fa77"/><stop offset="0.42946" stop-color="#50fa7b"/><stop offset="0.46046" stop-color="#3ef68c"/><stop offset="0.48465" stop-color="#4af880"/><stop offset="0.53077" stop-color="#54fa77"/><stop offset="0.54892" stop-color="#4df97e"/><stop offset="0.58219" stop-color="#58fb74"/><stop offset="0.60865" stop-color="#4df97e"/><stop offset="0.64116" stop-color="#58fb74"/><stop offset="0.67292" stop-color="#54fa77"/><stop offset="0.70392" stop-color="#5ffc6e"/><stop offset="0.72584" stop-color="#60fc6d"/><stop offset="0.76365" stop-color="#52fa7a"/><stop offset="0.81279" stop-color="#4df97e"/><stop offset="0.84909" stop-color="#50fa7b"/><stop offset="0.88765" stop-color="#48f883"/><stop offset="0.90655" stop-color="#4ff97c"/><stop offset="0.94208" stop-color="#42f688"/><stop offset="1" stop-color="#48f883"/></linearGradient><linearGradient id="a53" gradientUnits="userSpaceOnUse" x1="316.2" x2="977.5" y1="0" y2="0"><stop offset="0" stop-color="#4779f1"/><stop offset="0.00302" stop-color="#4390fe"/><stop offset="0.00529" stop-color="#3ba1fd"/><stop offset="0.0068" stop-color="#2eb4f2"/><stop offset="0.00832" stop-color="#21c6e0"/><stop offset="0.00983" stop-color="#19d5cd"/><stop offset="0.01134" stop-color="#18e0bd"/><stop offset="0.01285" stop-color="#1de7b1"/><stop offset="0.01512" stop-color="#2ef19c"/><stop offset="0.0189" stop-color="#63fc6b"/><stop offset="0.02193" stop-color="#8bff4c"/><stop offset="0.03251" stop-color="#99fe43"/><stop offset="0.13912" stop-color="#99fe43"/><stop offset="0.15802" stop-color="#84ff51"/><stop offset="0.16256" stop-color="#84ff51"/><stop offset="0.16331" stop-color="#80ff54"/><stop offset="0.20868" stop-color="#60fc6d"/><stop offset="0.24573" stop-color="#53fa78"/><stop offset="0.26387" stop-color="#44f786"/><stop offset="0.28353" stop-color="#4af880"/><stop offset="0.31226" stop-color="#43f787"/><stop offset="0.34402" stop-color="#4df97e"/><stop offset="0.36519" stop-color="#40f689"/><stop offset="0.38636" stop-color="#3bf58f"/><stop offset="0.40904" stop-color="#4af880"/><stop offset="0.4287" stop-color="#46f884"/><stop offset="0.46046" stop-color="#35f394"/><stop offset="0.48465" stop-color="#40f689"/><stop offset="0.53304" stop-color="#4af880"/><stop offset="0.54892" stop-color="#43f787"/><stop offset="0.58067" stop-color="#4ef97d"/><stop offset="0.60865" stop-color="#43f787"/><stop offset="0.63889" stop-color="#4df97e"/><stop offset="0.67292" stop-color="#4af880"/><stop offset="0.71526" stop-color="#55fa76"/><stop offset="0.73567" stop-color="#53fa78"/><stop offset="0.76214" stop-color="#48f883"/><stop offset="0.81279" stop-color="#43f787"/><stop offset="0.84833" stop-color="#46f884"/><stop offset="0.88689" stop-color="#3ef68c"/><stop offset="0.90579" stop-color="#45f785"/><stop offset="0.94208" stop-color="#38f491"/><stop offset="1" stop-color="#3ef68c"/></linearGradient><linearGradient id="a54" gradientUnits="userSpaceOnUse" x1="316.2" x2="977.5" y1="0" y2="0"><stop offset="0" stop-color="#4776ee"/><stop offset="0.00302" stop-color="#458afc"/><stop offset="0.00605" stop-color="#3aa2fc"/><stop offset="0.00756" stop-color="#2eb4f1"/><stop offset="0.00983" stop-color="#1dcdd8"/><stop offset="0.01285" stop-color="#19e3b9"/><stop offset="0.01512" stop-color="#26eda5"/><stop offset="0.01663" stop-color="#36f393"/><stop offset="0.01966" stop-color="#60fc6d"/><stop offset="0.02193" stop-color="#7dfe56"/><stop offset="0.03251" stop-color="#89ff4d"/><stop offset="0.13912" stop-color="#89ff4d"/><stop offset="0.15349" stop-color="#79fe59"/><stop offset="0.15727" stop-color="#79fe59"/><stop offset="0.15802" stop-color="#75fe5c"/><stop offset="0.20792" stop-color="#54fa77"/><stop offset="0.24648" stop-color="#48f883"/><stop offset="0.26387" stop-color="#3bf58f"/><stop offset="0.28353" stop-color="#40f689"/><stop offset="0.31226" stop-color="#3af490"/><stop offset="0.34326" stop-color="#43f787"/><stop offset="0.38636" stop-color="#32f298"/><stop offset="0.40904" stop-color="#40f689"/><stop offset="0.4287" stop-color="#3df58d"/><stop offset="0.46121" stop-color="#2ef19c"/><stop offset="0.48465" stop-color="#37f492"/><stop offset="0.53304" stop-color="#40f689"/><stop offset="0.54892" stop-color="#3af490"/><stop offset="0.58067" stop-color="#44f786"/><stop offset="0.60865" stop-color="#3af490"/><stop offset="0.64116" stop-color="#43f787"/><stop offset="0.67519" stop-color="#40f689"/><stop offset="0.71526" stop-color="#4bf97f"/><stop offset="0.76138" stop-color="#3ef68c"/><stop offset="0.79692" stop-color="#3bf58f"/><stop offset="0.84833" stop-color="#3df58d"/><stop offset="0.88235" stop-color="#35f394"/><stop offset="0.90957" stop-color="#3bf58f"/><stop offset="0.94057" stop-color="#31f299"/><stop offset="1" stop-color="#35f394"/></linearGradient><linearGradient id="a55" gradientUnits="userSpaceOnUse" x1="316.2" x2="977.5" y1="0" y2="0"><stop offset="0" stop-color="#4772eb"/><stop offset="0.00378" stop-color="#458afc"/><stop offset="0.00529" stop-color="#4293fe"/><stop offset="0.0068" stop-color="#3aa3fc"/><stop offset="0.00907" stop-color="#28bceb"/><stop offset="0.01059" stop-color="#1ecbda"/><stop offset="0.01361" stop-color="#19e1bb"/><stop offset="0.01512" stop-color="#20e9ad"/><stop offset="0.01663" stop-color="#2df09d"/><stop offset="0.02117" stop-color="#68fd67"/><stop offset="0.02193" stop-color="#6dfd62"/><stop offset="0.03176" stop-color="#79fe59"/><stop offset="0.13988" stop-color="#79fe59"/><stop offset="0.15349" stop-color="#69fd66"/><stop offset="0.15727" stop-color="#69fd66"/><stop offset="0.15802" stop-color="#65fd69"/><stop offset="0.16331" stop-color="#65fd69"/><stop offset="0.20717" stop-color="#49f881"/><stop offset="0.248" stop-color="#3df58d"/><stop offset="0.26387" stop-color="#32f298"/><stop offset="0.28731" stop-color="#36f393"/><stop offset="0.31302" stop-color="#31f299"/><stop offset="0.34326" stop-color="#3af490"/><stop offset="0.38636" stop-color="#2befa0"/><stop offset="0.40526" stop-color="#36f393"/><stop offset="0.41434" stop-color="#36f393"/><stop offset="0.46121" stop-color="#27eea4"/><stop offset="0.4839" stop-color="#2ff19b"/><stop offset="0.5285" stop-color="#36f393"/><stop offset="0.54967" stop-color="#31f299"/><stop offset="0.58294" stop-color="#3af490"/><stop offset="0.60941" stop-color="#31f299"/><stop offset="0.64116" stop-color="#3af490"/><stop offset="0.67745" stop-color="#37f492"/><stop offset="0.72055" stop-color="#40f689"/><stop offset="0.76516" stop-color="#34f395"/><stop offset="0.81052" stop-color="#31f299"/><stop offset="0.84682" stop-color="#34f395"/><stop offset="0.88311" stop-color="#2df09d"/><stop offset="0.90882" stop-color="#32f298"/><stop offset="0.94057" stop-color="#2aefa1"/><stop offset="1" stop-color="#2df09d"/></linearGradient><linearGradient id="a56" gradientUnits="userSpaceOnUse" x1="316.2" x2="977.5" y1="0" y2="0"><stop offset="0" stop-color="#476fe7"/><stop offset="0.00529" stop-color="#458bfd"/><stop offset="0.0068" stop-color="#3f9bfe"/><stop offset="0.00907" stop-color="#2fb2f3"/><stop offset="0.0121" stop-color="#1ccfd5"/><stop offset="0.01437" stop-color="#19e1bc"/><stop offset="0.01739" stop-color="#2cef9f"/><stop offset="0.02117" stop-color="#59fb73"/><stop offset="0.02344" stop-color="#61fc6c"/><stop offset="0.03251" stop-color="#68fd67"/><stop offset="0.13836" stop-color="#68fd67"/><stop offset="0.16558" stop-color="#52fa7a"/><stop offset="0.21548" stop-color="#3bf58f"/><stop offset="0.24875" stop-color="#33f297"/><stop offset="0.26387" stop-color="#2befa0"/><stop offset="0.2858" stop-color="#2ef19c"/><stop offset="0.31302" stop-color="#2aefa1"/><stop offset="0.34478" stop-color="#30f19a"/><stop offset="0.38787" stop-color="#25eca7"/><stop offset="0.41131" stop-color="#2ef19c"/><stop offset="0.43021" stop-color="#2cef9f"/><stop offset="0.4597" stop-color="#21eaab"/><stop offset="0.4839" stop-color="#28eea3"/><stop offset="0.53077" stop-color="#2ef19c"/><stop offset="0.54967" stop-color="#2aefa1"/><stop offset="0.58143" stop-color="#31f299"/><stop offset="0.60941" stop-color="#2aefa1"/><stop offset="0.63814" stop-color="#30f19a"/><stop offset="0.67367" stop-color="#2ef19c"/><stop offset="0.72584" stop-color="#36f393"/><stop offset="0.77801" stop-color="#2cef9f"/><stop offset="0.85211" stop-color="#2cef9f"/><stop offset="0.88462" stop-color="#26eda5"/><stop offset="0.90882" stop-color="#2befa0"/><stop offset="0.94208" stop-color="#23eba9"/><stop offset="1" stop-color="#26eda5"/></linearGradient><linearGradient id="a57" gradientUnits="userSpaceOnUse" x1="316.2" x2="977.5" y1="0" y2="0"><stop offset="0" stop-color="#466be3"/><stop offset="0.00605" stop-color="#458bfd"/><stop offset="0.00756" stop-color="#3f9bfe"/><stop offset="0.00907" stop-color="#36a9f9"/><stop offset="0.01059" stop-color="#2bb8ef"/><stop offset="0.01285" stop-color="#1ccfd6"/><stop offset="0.01512" stop-color="#19e1bc"/><stop offset="0.01739" stop-color="#24eca8"/><stop offset="0.02041" stop-color="#40f689"/><stop offset="0.02117" stop-color="#4bf97f"/><stop offset="0.02268" stop-color="#52fa7a"/><stop offset="0.03176" stop-color="#57fb75"/><stop offset="0.13912" stop-color="#57fb75"/><stop offset="0.15197" stop-color="#4bf97f"/><stop offset="0.17466" stop-color="#40f689"/><stop offset="0.21019" stop-color="#33f297"/><stop offset="0.24497" stop-color="#2cf09e"/><stop offset="0.26161" stop-color="#25eca7"/><stop offset="0.28807" stop-color="#27eea4"/><stop offset="0.31302" stop-color="#23eba9"/><stop offset="0.34251" stop-color="#2aefa1"/><stop offset="0.38258" stop-color="#1fe9ae"/><stop offset="0.40526" stop-color="#27eea4"/><stop offset="0.43173" stop-color="#25eca7"/><stop offset="0.46197" stop-color="#1de7b2"/><stop offset="0.5285" stop-color="#27eea4"/><stop offset="0.54967" stop-color="#23eba9"/><stop offset="0.58143" stop-color="#2aefa1"/><stop offset="0.61016" stop-color="#23eba9"/><stop offset="0.63965" stop-color="#29eea2"/><stop offset="0.67367" stop-color="#27eea4"/><stop offset="0.7145" stop-color="#2ef19c"/><stop offset="0.76289" stop-color="#26eda6"/><stop offset="0.80901" stop-color="#23eba9"/><stop offset="0.85513" stop-color="#25eca7"/><stop offset="0.88613" stop-color="#21eaac"/><stop offset="0.90655" stop-color="#25eca7"/><stop offset="0.9383" stop-color="#1fe9af"/><stop offset="1" stop-color="#21eaac"/></linearGradient><linearGradient id="a58" gradientUnits="userSpaceOnUse" x1="316.2" x2="977.5" y1="0" y2="0"><stop offset="0" stop-color="#4668df"/><stop offset="0.00529" stop-color="#4681f7"/><stop offset="0.0068" stop-color="#448ffe"/><stop offset="0.00907" stop-color="#39a4fc"/><stop offset="0.01059" stop-color="#2fb2f3"/><stop offset="0.01285" stop-color="#1fc9dd"/><stop offset="0.01512" stop-color="#18ddc2"/><stop offset="0.01739" stop-color="#1ee8b0"/><stop offset="0.0189" stop-color="#29eea2"/><stop offset="0.02117" stop-color="#40f689"/><stop offset="0.02268" stop-color="#46f884"/><stop offset="0.03176" stop-color="#4bf97f"/><stop offset="0.13912" stop-color="#4bf97f"/><stop offset="0.155" stop-color="#3ff68a"/><stop offset="0.1807" stop-color="#35f394"/><stop offset="0.25102" stop-color="#25eca7"/><stop offset="0.26463" stop-color="#1fe9af"/><stop offset="0.28051" stop-color="#23ebaa"/><stop offset="0.31378" stop-color="#1fe9af"/><stop offset="0.34251" stop-color="#23eba9"/><stop offset="0.38787" stop-color="#1ce6b4"/><stop offset="0.4098" stop-color="#22ebab"/><stop offset="0.46499" stop-color="#1ae4b6"/><stop offset="0.53228" stop-color="#22ebab"/><stop offset="0.55194" stop-color="#1fe9af"/><stop offset="0.58143" stop-color="#23eba9"/><stop offset="0.61243" stop-color="#1fe9af"/><stop offset="0.6336" stop-color="#23ebaa"/><stop offset="0.67216" stop-color="#22ebab"/><stop offset="0.72811" stop-color="#27eea4"/><stop offset="0.76062" stop-color="#21eaac"/><stop offset="0.80145" stop-color="#1fe9af"/><stop offset="0.84833" stop-color="#21eaac"/><stop offset="0.89143" stop-color="#1de7b2"/><stop offset="0.90655" stop-color="#1fe9ae"/><stop offset="0.93377" stop-color="#1ce6b4"/><stop offset="1" stop-color="#1de7b2"/></linearGradient><linearGradient id="a59" gradientUnits="userSpaceOnUse" x1="316.2" x2="977.5" y1="0" y2="0"><stop offset="0" stop-color="#4666dd"/><stop offset="0.00529" stop-color="#467ff6"/><stop offset="0.0068" stop-color="#458bfd"/><stop offset="0.00983" stop-color="#38a6fb"/><stop offset="0.01134" stop-color="#2db5f1"/><stop offset="0.01361" stop-color="#1ecbda"/><stop offset="0.01588" stop-color="#18ddc2"/><stop offset="0.0189" stop-color="#23ebaa"/><stop offset="0.02117" stop-color="#37f492"/><stop offset="0.02268" stop-color="#3df58d"/><stop offset="0.03024" stop-color="#40f689"/><stop offset="0.13988" stop-color="#40f689"/><stop offset="0.15727" stop-color="#35f394"/><stop offset="0.18449" stop-color="#2cf09e"/><stop offset="0.24951" stop-color="#21eaac"/><stop offset="0.26387" stop-color="#1ce6b4"/><stop offset="0.28278" stop-color="#1fe9af"/><stop offset="0.30622" stop-color="#1ce6b4"/><stop offset="0.34629" stop-color="#1fe9af"/><stop offset="0.38863" stop-color="#19e3b9"/><stop offset="0.40299" stop-color="#1de7b2"/><stop offset="0.4219" stop-color="#1de7b2"/><stop offset="0.46726" stop-color="#19e2bb"/><stop offset="0.5217" stop-color="#1de7b2"/><stop offset="0.55572" stop-color="#1ce6b4"/><stop offset="0.5837" stop-color="#1fe9af"/><stop offset="0.61697" stop-color="#1ce6b4"/><stop offset="0.71828" stop-color="#22ebab"/><stop offset="0.78557" stop-color="#1ce6b4"/><stop offset="0.88538" stop-color="#1ae4b7"/><stop offset="0.91184" stop-color="#1ce6b4"/><stop offset="0.94208" stop-color="#19e2ba"/><stop offset="1" stop-color="#1ae4b7"/></linearGradient><linearGradient id="a60" gradientUnits="userSpaceOnUse" x1="316.2" x2="977.5" y1="0" y2="0"><stop offset="0" stop-color="#4664db"/><stop offset="0.00529" stop-color="#467cf3"/><stop offset="0.00756" stop-color="#448ffe"/><stop offset="0.00983" stop-color="#3aa3fc"/><stop offset="0.0121" stop-color="#2cb7f0"/><stop offset="0.01437" stop-color="#1dccd9"/><stop offset="0.01663" stop-color="#18dcc3"/><stop offset="0.0189" stop-color="#1ee8b1"/><stop offset="0.02193" stop-color="#33f297"/><stop offset="0.02344" stop-color="#34f395"/><stop offset="0.14063" stop-color="#36f393"/><stop offset="0.15651" stop-color="#2df09d"/><stop offset="0.19734" stop-color="#23ebaa"/><stop offset="0.24648" stop-color="#1de7b2"/><stop offset="0.26312" stop-color="#19e3b9"/><stop offset="0.28278" stop-color="#1be5b6"/><stop offset="0.31907" stop-color="#19e3b9"/><stop offset="0.34402" stop-color="#1ce6b4"/><stop offset="0.39014" stop-color="#18e0bd"/><stop offset="0.41434" stop-color="#1ae4b6"/><stop offset="0.45894" stop-color="#18ddc2"/><stop offset="0.53002" stop-color="#1ae4b6"/><stop offset="0.55043" stop-color="#19e3b9"/><stop offset="0.58219" stop-color="#1be5b5"/><stop offset="0.60865" stop-color="#19e2ba"/><stop offset="0.70618" stop-color="#1de7b2"/><stop offset="0.88538" stop-color="#18e0bd"/><stop offset="0.9073" stop-color="#19e3b9"/><stop offset="0.94133" stop-color="#18dec0"/><stop offset="1" stop-color="#18e0bd"/></linearGradient><linearGradient id="a61" gradientUnits="userSpaceOnUse" x1="316.2" x2="977.5" y1="0" y2="0"><stop offset="0" stop-color="#4662d7"/><stop offset="0.00529" stop-color="#4779f1"/><stop offset="0.00756" stop-color="#458bfd"/><stop offset="0.00983" stop-color="#3d9efe"/><stop offset="0.0121" stop-color="#2fb2f3"/><stop offset="0.01437" stop-color="#20c7df"/><stop offset="0.01663" stop-color="#18d7ca"/><stop offset="0.0189" stop-color="#1ae3b8"/><stop offset="0.02193" stop-color="#2cef9f"/><stop offset="0.02419" stop-color="#2cf09e"/><stop offset="0.13836" stop-color="#2ef19c"/><stop offset="0.19205" stop-color="#1fe9af"/><stop offset="0.25405" stop-color="#19e3b9"/><stop offset="0.26236" stop-color="#18e0bd"/><stop offset="0.34251" stop-color="#19e3b9"/><stop offset="0.37426" stop-color="#18ddc2"/><stop offset="0.3909" stop-color="#18ddc2"/><stop offset="0.40677" stop-color="#19e2bb"/><stop offset="0.42946" stop-color="#18e0bd"/><stop offset="0.45819" stop-color="#18d9c8"/><stop offset="0.48768" stop-color="#18dec0"/><stop offset="0.53455" stop-color="#19e1bc"/><stop offset="0.55043" stop-color="#18dec0"/><stop offset="0.58748" stop-color="#19e2bb"/><stop offset="0.61092" stop-color="#18dec0"/><stop offset="0.71072" stop-color="#1ae4b7"/><stop offset="0.80523" stop-color="#18dec0"/><stop offset="0.84984" stop-color="#18e0bd"/><stop offset="0.88916" stop-color="#18ddc2"/><stop offset="0.9073" stop-color="#18dfbf"/><stop offset="0.93755" stop-color="#18dbc5"/><stop offset="1" stop-color="#18ddc2"/></linearGradient><linearGradient id="a62" gradientUnits="userSpaceOnUse" x1="316.2" x2="977.5" y1="0" y2="0"><stop offset="0" stop-color="#4664db"/><stop offset="0.00529" stop-color="#467cf4"/><stop offset="0.0068" stop-color="#4588fb"/><stop offset="0.00983" stop-color="#3ca0fd"/><stop offset="0.0121" stop-color="#2fb2f3"/><stop offset="0.01663" stop-color="#19d5cd"/><stop offset="0.0189" stop-color="#19e2bb"/><stop offset="0.02117" stop-color="#23ebaa"/><stop offset="0.02495" stop-color="#27eea4"/><stop offset="0.14214" stop-color="#27eea4"/><stop offset="0.15727" stop-color="#21eaac"/><stop offset="0.18751" stop-color="#1ce6b4"/><stop offset="0.2427" stop-color="#19e2bb"/><stop offset="0.26236" stop-color="#18ddc2"/><stop offset="0.35082" stop-color="#18dec0"/><stop offset="0.37275" stop-color="#18d9c8"/><stop offset="0.42946" stop-color="#18ddc2"/><stop offset="0.45743" stop-color="#19d5cd"/><stop offset="0.51338" stop-color="#18ddc2"/><stop offset="0.55497" stop-color="#18dbc5"/><stop offset="0.58597" stop-color="#18dec0"/><stop offset="0.61621" stop-color="#18dbc5"/><stop offset="0.63587" stop-color="#18dec0"/><stop offset="0.67367" stop-color="#18ddc2"/><stop offset="0.69711" stop-color="#18e0bd"/><stop offset="0.7387" stop-color="#18e0bd"/><stop offset="0.7886" stop-color="#18dbc5"/><stop offset="0.91865" stop-color="#18dbc5"/><stop offset="0.93528" stop-color="#18d7ca"/><stop offset="1" stop-color="#18d9c8"/></linearGradient><linearGradient id="a63" gradientUnits="userSpaceOnUse" x1="316.2" x2="977.5" y1="0" y2="0"><stop offset="0" stop-color="#466be3"/><stop offset="0.00529" stop-color="#4684f9"/><stop offset="0.0068" stop-color="#4390fe"/><stop offset="0.00907" stop-color="#3ba0fd"/><stop offset="0.0121" stop-color="#2bb8ef"/><stop offset="0.01663" stop-color="#19d6cc"/><stop offset="0.0189" stop-color="#18e1bd"/><stop offset="0.02117" stop-color="#1fe9af"/><stop offset="0.02571" stop-color="#23ebaa"/><stop offset="0.14139" stop-color="#23ebaa"/><stop offset="0.15575" stop-color="#1de7b2"/><stop offset="0.18675" stop-color="#19e3b9"/><stop offset="0.24346" stop-color="#18dec0"/><stop offset="0.26236" stop-color="#18d9c8"/><stop offset="0.35082" stop-color="#18dbc5"/><stop offset="0.37729" stop-color="#19d5cd"/><stop offset="0.42946" stop-color="#18d9c8"/><stop offset="0.45819" stop-color="#1ad2d2"/><stop offset="0.51414" stop-color="#18d9c8"/><stop offset="0.55572" stop-color="#18d7ca"/><stop offset="0.58521" stop-color="#18dbc5"/><stop offset="0.61621" stop-color="#18d7ca"/><stop offset="0.63738" stop-color="#18dbc5"/><stop offset="0.67519" stop-color="#18d9c8"/><stop offset="0.69938" stop-color="#18ddc2"/><stop offset="0.73718" stop-color="#18ddc2"/><stop offset="0.78709" stop-color="#18d7ca"/><stop offset="0.91865" stop-color="#18d7ca"/><stop offset="0.93604" stop-color="#1ad4d0"/><stop offset="1" stop-color="#19d5cd"/></linearGradient><linearGradient id="a64" gradientUnits="userSpaceOnUse" x1="316.2" x2="977.5" y1="0" y2="0"><stop offset="0" stop-color="#4772eb"/><stop offset="0.00454" stop-color="#4588fb"/><stop offset="0.00832" stop-color="#3aa2fc"/><stop offset="0.01134" stop-color="#2bb8ef"/><stop offset="0.01588" stop-color="#19d4cf"/><stop offset="0.0189" stop-color="#18dfbe"/><stop offset="0.02193" stop-color="#1de7b2"/><stop offset="0.02646" stop-color="#1fe9af"/><stop offset="0.14063" stop-color="#1fe9af"/><stop offset="0.18675" stop-color="#18e0bd"/><stop offset="0.24422" stop-color="#18dbc5"/><stop offset="0.26312" stop-color="#19d5cd"/><stop offset="0.35082" stop-color="#18d7ca"/><stop offset="0.37577" stop-color="#1ad2d2"/><stop offset="0.4287" stop-color="#19d5cd"/><stop offset="0.45894" stop-color="#1dcdd8"/><stop offset="0.51565" stop-color="#19d5cd"/><stop offset="0.55648" stop-color="#1ad4d0"/><stop offset="0.58445" stop-color="#18d7ca"/><stop offset="0.61697" stop-color="#1ad4d0"/><stop offset="0.63889" stop-color="#18d7ca"/><stop offset="0.6767" stop-color="#19d5cd"/><stop offset="0.70165" stop-color="#18d9c8"/><stop offset="0.73567" stop-color="#18d9c8"/><stop offset="0.78482" stop-color="#1ad4d0"/><stop offset="0.84757" stop-color="#19d5cd"/><stop offset="0.87479" stop-color="#1ad2d2"/><stop offset="0.91865" stop-color="#1ad4d0"/><stop offset="0.93679" stop-color="#1bd0d5"/><stop offset="1" stop-color="#1ad2d2"/></linearGradient><linearGradient id="a65" gradientUnits="userSpaceOnUse" x1="316.2" x2="977.5" y1="0" y2="0"><stop offset="0" stop-color="#4779f1"/><stop offset="0.00378" stop-color="#458bfd"/><stop offset="0.0068" stop-color="#3c9ffd"/><stop offset="0.00983" stop-color="#2eb4f2"/><stop offset="0.01285" stop-color="#20c7df"/><stop offset="0.01588" stop-color="#19d5cd"/><stop offset="0.02117" stop-color="#1ae4b7"/><stop offset="0.02873" stop-color="#1ce6b4"/><stop offset="0.13988" stop-color="#1ce6b4"/><stop offset="0.16407" stop-color="#18e0bd"/><stop offset="0.24497" stop-color="#18d7ca"/><stop offset="0.26387" stop-color="#1ad2d2"/><stop offset="0.35082" stop-color="#1ad4d0"/><stop offset="0.37729" stop-color="#1dcdd8"/><stop offset="0.42794" stop-color="#1ad2d2"/><stop offset="0.45894" stop-color="#1ecbdb"/><stop offset="0.51641" stop-color="#1ad2d2"/><stop offset="0.55648" stop-color="#1bd0d5"/><stop offset="0.5837" stop-color="#1ad4d0"/><stop offset="0.59806" stop-color="#1bd0d5"/><stop offset="0.61772" stop-color="#1bd0d5"/><stop offset="0.64041" stop-color="#1ad4d0"/><stop offset="0.67821" stop-color="#1ad2d2"/><stop offset="0.70467" stop-color="#19d5cd"/><stop offset="0.78255" stop-color="#1bd0d5"/><stop offset="0.84606" stop-color="#1ad2d2"/><stop offset="0.87479" stop-color="#1dcdd8"/><stop offset="0.91865" stop-color="#1bd0d5"/><stop offset="0.9383" stop-color="#1ecbda"/><stop offset="1" stop-color="#1dcdd8"/></linearGradient><linearGradient id="a66" gradientUnits="userSpaceOnUse" x1="316.2" x2="977.5" y1="0" y2="0"><stop offset="0" stop-color="#4681f7"/><stop offset="0.00302" stop-color="#4390fe"/><stop offset="0.00605" stop-color="#3ca0fd"/><stop offset="0.01134" stop-color="#23c3e4"/><stop offset="0.01512" stop-color="#1ad4d0"/><stop offset="0.02117" stop-color="#19e1bc"/><stop offset="0.03176" stop-color="#19e3b9"/><stop offset="0.13836" stop-color="#19e3b9"/><stop offset="0.2117" stop-color="#19d5cd"/><stop offset="0.24573" stop-color="#1ad4d0"/><stop offset="0.26463" stop-color="#1dcdd8"/><stop offset="0.35082" stop-color="#1bd0d5"/><stop offset="0.37729" stop-color="#1fc9dd"/><stop offset="0.42794" stop-color="#1dcdd8"/><stop offset="0.45138" stop-color="#20c7df"/><stop offset="0.46953" stop-color="#20c7df"/><stop offset="0.51641" stop-color="#1dcdd8"/><stop offset="0.55648" stop-color="#1ecbda"/><stop offset="0.58294" stop-color="#1bd0d5"/><stop offset="0.61772" stop-color="#1ecbda"/><stop offset="0.64041" stop-color="#1bd0d5"/><stop offset="0.68048" stop-color="#1dcdd8"/><stop offset="0.70618" stop-color="#1ad2d2"/><stop offset="0.78255" stop-color="#1ecbda"/><stop offset="0.84606" stop-color="#1dcdd8"/><stop offset="0.87706" stop-color="#1fc9dd"/><stop offset="0.9194" stop-color="#1ecbda"/><stop offset="0.93982" stop-color="#20c7df"/><stop offset="1" stop-color="#1fc9dd"/></linearGradient><linearGradient id="a67" gradientUnits="userSpaceOnUse" x1="316.2" x2="977.5" y1="0" y2="0"><stop offset="0" stop-color="#4588fb"/><stop offset="0.00302" stop-color="#4196ff"/><stop offset="0.00605" stop-color="#38a5fb"/><stop offset="0.01134" stop-color="#21c6e1"/><stop offset="0.01588" stop-color="#19d4cf"/><stop offset="0.02193" stop-color="#18dec1"/><stop offset="0.14063" stop-color="#18dec1"/><stop offset="0.26463" stop-color="#1ecbdb"/><stop offset="0.35158" stop-color="#1ecbda"/><stop offset="0.38031" stop-color="#22c5e2"/><stop offset="0.39997" stop-color="#1fc9dd"/><stop offset="0.4287" stop-color="#1fc9dd"/><stop offset="0.4529" stop-color="#23c3e4"/><stop offset="0.51565" stop-color="#1fc9dd"/><stop offset="0.55572" stop-color="#20c7df"/><stop offset="0.58294" stop-color="#1ecbda"/><stop offset="0.61621" stop-color="#20c7df"/><stop offset="0.64041" stop-color="#1ecbda"/><stop offset="0.67972" stop-color="#1fc9dd"/><stop offset="0.70618" stop-color="#1dcdd8"/><stop offset="0.78709" stop-color="#20c7df"/><stop offset="0.84757" stop-color="#1fc9dd"/><stop offset="0.88008" stop-color="#22c5e2"/><stop offset="0.92016" stop-color="#20c7df"/><stop offset="0.94284" stop-color="#23c3e4"/><stop offset="1" stop-color="#22c5e2"/></linearGradient><linearGradient id="a68" gradientUnits="userSpaceOnUse" x1="316.2" x2="977.5" y1="0" y2="0"><stop offset="0" stop-color="#4390fe"/><stop offset="0.00529" stop-color="#37a8fa"/><stop offset="0.01059" stop-color="#21c6e1"/><stop offset="0.01588" stop-color="#1ad2d1"/><stop offset="0.02193" stop-color="#18d9c8"/><stop offset="0.14139" stop-color="#18d9c8"/><stop offset="0.26009" stop-color="#20c7df"/><stop offset="0.28278" stop-color="#1fc9dd"/><stop offset="0.31453" stop-color="#22c5e2"/><stop offset="0.34251" stop-color="#20c8de"/><stop offset="0.38258" stop-color="#25c0e7"/><stop offset="0.39921" stop-color="#22c5e2"/><stop offset="0.42946" stop-color="#22c5e2"/><stop offset="0.45441" stop-color="#27bee9"/><stop offset="0.51338" stop-color="#22c5e2"/><stop offset="0.55421" stop-color="#23c3e4"/><stop offset="0.5837" stop-color="#20c7df"/><stop offset="0.6147" stop-color="#23c3e4"/><stop offset="0.70694" stop-color="#1fc9dd"/><stop offset="0.79238" stop-color="#23c3e4"/><stop offset="0.84909" stop-color="#22c5e2"/><stop offset="0.88311" stop-color="#25c0e7"/><stop offset="1" stop-color="#25c0e7"/></linearGradient><linearGradient id="a69" gradientUnits="userSpaceOnUse" x1="316.2" x2="977.5" y1="0" y2="0"><stop offset="0" stop-color="#4098fe"/><stop offset="0.00529" stop-color="#32aef6"/><stop offset="0.01059" stop-color="#1fc9dd"/><stop offset="0.02193" stop-color="#19d4cf"/><stop offset="0.14139" stop-color="#19d4cf"/><stop offset="0.26161" stop-color="#23c3e4"/><stop offset="0.2858" stop-color="#22c5e2"/><stop offset="0.31" stop-color="#25c0e7"/><stop offset="0.34251" stop-color="#22c5e2"/><stop offset="0.3856" stop-color="#28bceb"/><stop offset="0.3977" stop-color="#25c0e7"/><stop offset="0.43021" stop-color="#25c0e7"/><stop offset="0.45668" stop-color="#2ab9ee"/><stop offset="0.51111" stop-color="#25c0e7"/><stop offset="0.5527" stop-color="#27bee9"/><stop offset="0.5837" stop-color="#23c3e4"/><stop offset="0.61319" stop-color="#27bee9"/><stop offset="0.7077" stop-color="#22c5e2"/><stop offset="0.79767" stop-color="#27bee9"/><stop offset="1" stop-color="#28bceb"/></linearGradient><linearGradient id="a70" gradientUnits="userSpaceOnUse" x1="316.2" x2="977.5" y1="0" y2="0"><stop offset="0" stop-color="#3ca0fd"/><stop offset="0.00529" stop-color="#2eb4f2"/><stop offset="0.01059" stop-color="#1dcdd8"/><stop offset="0.01966" stop-color="#1bd0d5"/><stop offset="0.14139" stop-color="#1bd0d5"/><stop offset="0.26387" stop-color="#27bee9"/><stop offset="0.34326" stop-color="#25c0e7"/><stop offset="0.37426" stop-color="#2ab9ee"/><stop offset="0.40677" stop-color="#27bdea"/><stop offset="0.45743" stop-color="#2db5f1"/><stop offset="0.50885" stop-color="#28bceb"/><stop offset="0.58445" stop-color="#27bee9"/><stop offset="0.61243" stop-color="#2abaed"/><stop offset="0.7077" stop-color="#25c0e7"/><stop offset="0.8007" stop-color="#2abaed"/><stop offset="1" stop-color="#2ab9ee"/></linearGradient><linearGradient id="a71" gradientUnits="userSpaceOnUse" x1="316.2" x2="977.5" y1="0" y2="0"><stop offset="0" stop-color="#3ba1fd"/><stop offset="0.00529" stop-color="#2eb4f2"/><stop offset="0.01059" stop-color="#1dccd9"/><stop offset="0.14214" stop-color="#1ecbda"/><stop offset="0.26387" stop-color="#29bbec"/><stop offset="0.34553" stop-color="#28bceb"/><stop offset="0.38334" stop-color="#2db5f1"/><stop offset="0.41131" stop-color="#2abaed"/><stop offset="0.45441" stop-color="#2fb3f3"/><stop offset="0.51792" stop-color="#2bb8ee"/><stop offset="0.60714" stop-color="#2cb7f0"/><stop offset="0.70543" stop-color="#28bceb"/><stop offset="0.7765" stop-color="#2bb8ef"/><stop offset="0.91108" stop-color="#2bb8ef"/><stop offset="0.93528" stop-color="#2eb4f2"/><stop offset="1" stop-color="#2db5f1"/></linearGradient><linearGradient id="a72" gradientUnits="userSpaceOnUse" x1="316.2" x2="977.5" y1="0" y2="0"><stop offset="0" stop-color="#3c9ffd"/><stop offset="0.00529" stop-color="#30b1f4"/><stop offset="0.01059" stop-color="#1fcadc"/><stop offset="0.14366" stop-color="#1fc8de"/><stop offset="0.26312" stop-color="#2bb8ee"/><stop offset="0.34402" stop-color="#2abaed"/><stop offset="0.38258" stop-color="#2fb3f3"/><stop offset="0.40829" stop-color="#2bb8ef"/><stop offset="0.45441" stop-color="#31b0f5"/><stop offset="0.52094" stop-color="#2db6f0"/><stop offset="0.58521" stop-color="#2bb8ef"/><stop offset="0.60714" stop-color="#2eb4f2"/><stop offset="0.70921" stop-color="#2abaed"/><stop offset="0.77045" stop-color="#2db5f1"/><stop offset="1" stop-color="#2fb3f3"/></linearGradient><linearGradient id="a73" gradientUnits="userSpaceOnUse" x1="316.2" x2="977.5" y1="0" y2="0"><stop offset="0" stop-color="#3e9cfe"/><stop offset="0.00529" stop-color="#31aff5"/><stop offset="0.01059" stop-color="#20c8de"/><stop offset="0.13988" stop-color="#21c6e0"/><stop offset="0.26236" stop-color="#2db6f0"/><stop offset="0.34251" stop-color="#2bb8ef"/><stop offset="0.38182" stop-color="#31b0f5"/><stop offset="0.40829" stop-color="#2eb4f2"/><stop offset="0.45516" stop-color="#32aef6"/><stop offset="0.52397" stop-color="#2eb4f2"/><stop offset="0.54892" stop-color="#30b1f4"/><stop offset="0.5837" stop-color="#2db5f1"/><stop offset="0.60865" stop-color="#30b1f4"/><stop offset="0.71375" stop-color="#2bb8ef"/><stop offset="0.81279" stop-color="#30b1f4"/><stop offset="1" stop-color="#31b0f5"/></linearGradient><linearGradient id="a74" gradientUnits="userSpaceOnUse" x1="316.2" x2="977.5" y1="0" y2="0"><stop offset="0" stop-color="#3f9bfe"/><stop offset="0.00529" stop-color="#32aef6"/><stop offset="0.01059" stop-color="#21c6e1"/><stop offset="0.14214" stop-color="#23c3e4"/><stop offset="0.26161" stop-color="#2eb4f2"/><stop offset="0.34251" stop-color="#2eb4f2"/><stop offset="0.38182" stop-color="#32aef6"/><stop offset="0.42038" stop-color="#30b1f4"/><stop offset="0.45516" stop-color="#34abf8"/><stop offset="0.52699" stop-color="#30b1f4"/><stop offset="0.54967" stop-color="#32aff6"/><stop offset="0.58143" stop-color="#2fb3f3"/><stop offset="0.61016" stop-color="#32aff6"/><stop offset="0.71375" stop-color="#2eb4f2"/><stop offset="0.8075" stop-color="#32aff6"/><stop offset="1" stop-color="#32aef6"/></linearGradient><linearGradient id="a75" gradientUnits="userSpaceOnUse" x1="316.2" x2="977.5" y1="0" y2="0"><stop offset="0" stop-color="#4098ff"/><stop offset="0.00529" stop-color="#34abf8"/><stop offset="0.01059" stop-color="#23c3e4"/><stop offset="0.14063" stop-color="#24c1e6"/><stop offset="0.26085" stop-color="#30b1f4"/><stop offset="0.34704" stop-color="#30b1f4"/><stop offset="0.38182" stop-color="#34abf8"/><stop offset="0.41887" stop-color="#32aff6"/><stop offset="0.45516" stop-color="#36a9f9"/><stop offset="0.5285" stop-color="#32aff6"/><stop offset="0.55119" stop-color="#34acf7"/><stop offset="0.58143" stop-color="#31b0f5"/><stop offset="0.61092" stop-color="#34acf7"/><stop offset="0.70165" stop-color="#30b1f4"/><stop offset="1" stop-color="#34abf8"/></linearGradient><linearGradient id="a76" gradientUnits="userSpaceOnUse" x1="316.2" x2="977.5" y1="0" y2="0"><stop offset="0" stop-color="#4195ff"/><stop offset="0.00529" stop-color="#36a9f9"/><stop offset="0.01059" stop-color="#24c1e6"/><stop offset="0.13912" stop-color="#26bfe8"/><stop offset="0.26085" stop-color="#32aff6"/><stop offset="0.34704" stop-color="#32aff6"/><stop offset="0.38334" stop-color="#36a9f9"/><stop offset="0.41963" stop-color="#34acf7"/><stop offset="0.45668" stop-color="#38a6fb"/><stop offset="0.52775" stop-color="#34acf7"/><stop offset="0.54967" stop-color="#35aaf9"/><stop offset="0.58143" stop-color="#32aef6"/><stop offset="0.61016" stop-color="#35aaf9"/><stop offset="0.7024" stop-color="#32aff6"/><stop offset="1" stop-color="#36a9f9"/></linearGradient><linearGradient id="a77" gradientUnits="userSpaceOnUse" x1="316.2" x2="977.5" y1="0" y2="0"><stop offset="0" stop-color="#4294ff"/><stop offset="0.00529" stop-color="#38a6fb"/><stop offset="0.01059" stop-color="#26bfe8"/><stop offset="0.01588" stop-color="#28bceb"/><stop offset="0.13912" stop-color="#28bceb"/><stop offset="0.26085" stop-color="#34acf7"/><stop offset="0.3478" stop-color="#34acf7"/><stop offset="0.38485" stop-color="#38a6fb"/><stop offset="0.42038" stop-color="#35aaf9"/><stop offset="0.45819" stop-color="#39a4fc"/><stop offset="0.52699" stop-color="#35aaf9"/><stop offset="0.54892" stop-color="#37a7fa"/><stop offset="0.58143" stop-color="#34abf8"/><stop offset="0.60865" stop-color="#37a7fa"/><stop offset="0.70316" stop-color="#34acf7"/><stop offset="1" stop-color="#38a6fb"/></linearGradient><linearGradient id="a78" gradientUnits="userSpaceOnUse" x1="316.2" x2="977.5" y1="0" y2="0"><stop offset="0" stop-color="#4392ff"/><stop offset="0.00529" stop-color="#39a5fb"/><stop offset="0.01059" stop-color="#28bceb"/><stop offset="0.01588" stop-color="#2bb8ee"/><stop offset="0.14668" stop-color="#2bb8ee"/><stop offset="0.26161" stop-color="#35aaf9"/><stop offset="0.3478" stop-color="#35aaf9"/><stop offset="0.37502" stop-color="#39a5fb"/><stop offset="0.42114" stop-color="#37a7fa"/><stop offset="0.45214" stop-color="#3aa2fc"/><stop offset="0.70392" stop-color="#35aaf9"/><stop offset="1" stop-color="#39a4fc"/></linearGradient><linearGradient id="a79" gradientUnits="userSpaceOnUse" x1="316.2" x2="977.5" y1="0" y2="0"><stop offset="0" stop-color="#4490fe"/><stop offset="0.00529" stop-color="#3aa2fc"/><stop offset="0.01059" stop-color="#2abaed"/><stop offset="0.01588" stop-color="#2db6f0"/><stop offset="0.14592" stop-color="#2db6f0"/><stop offset="0.26236" stop-color="#37a7fa"/><stop offset="0.3478" stop-color="#37a7fa"/><stop offset="0.37804" stop-color="#3aa2fc"/><stop offset="0.4219" stop-color="#39a5fb"/><stop offset="0.45441" stop-color="#3ca0fd"/><stop offset="0.70467" stop-color="#37a7fa"/><stop offset="1" stop-color="#3aa2fc"/></linearGradient><linearGradient id="a80" gradientUnits="userSpaceOnUse" x1="316.2" x2="977.5" y1="0" y2="0"><stop offset="0" stop-color="#448efe"/><stop offset="0.00529" stop-color="#3ba0fd"/><stop offset="0.01059" stop-color="#2bb8ef"/><stop offset="0.01588" stop-color="#2eb4f2"/><stop offset="0.14214" stop-color="#2eb4f2"/><stop offset="0.26387" stop-color="#39a5fb"/><stop offset="0.34931" stop-color="#39a5fb"/><stop offset="0.38182" stop-color="#3ca0fd"/><stop offset="0.4098" stop-color="#3aa3fc"/><stop offset="0.45819" stop-color="#3d9dfe"/><stop offset="0.51868" stop-color="#3aa2fc"/><stop offset="0.70165" stop-color="#39a5fb"/><stop offset="1" stop-color="#3ca0fd"/></linearGradient><linearGradient id="a81" gradientUnits="userSpaceOnUse" x1="316.2" x2="977.5" y1="0" y2="0"><stop offset="0" stop-color="#458cfd"/><stop offset="0.00605" stop-color="#3ba1fd"/><stop offset="0.01059" stop-color="#2db5f1"/><stop offset="0.14214" stop-color="#2fb3f3"/><stop offset="0.26387" stop-color="#3aa3fc"/><stop offset="0.34402" stop-color="#3aa3fc"/><stop offset="0.38182" stop-color="#3d9efe"/><stop offset="0.4098" stop-color="#3ba1fd"/><stop offset="0.45819" stop-color="#3e9bfe"/><stop offset="0.69787" stop-color="#3aa2fc"/><stop offset="1" stop-color="#3d9dfe"/></linearGradient><linearGradient id="a82" gradientUnits="userSpaceOnUse" x1="316.2" x2="977.5" y1="0" y2="0"><stop offset="0" stop-color="#458bfd"/><stop offset="0.00529" stop-color="#3e9cfe"/><stop offset="0.01059" stop-color="#2fb3f3"/><stop offset="0.13912" stop-color="#30b1f4"/><stop offset="0.26085" stop-color="#3ba1fd"/><stop offset="0.34402" stop-color="#3ba1fd"/><stop offset="0.37577" stop-color="#3e9cfe"/><stop offset="0.41434" stop-color="#3c9ffd"/><stop offset="0.45365" stop-color="#3f9afe"/><stop offset="0.69409" stop-color="#3ca0fd"/><stop offset="1" stop-color="#3e9bfe"/></linearGradient><linearGradient id="a83" gradientUnits="userSpaceOnUse" x1="316.2" x2="977.5" y1="0" y2="0"><stop offset="0" stop-color="#4588fb"/><stop offset="0.00605" stop-color="#3d9dfe"/><stop offset="0.01059" stop-color="#31b0f5"/><stop offset="0.1429" stop-color="#32aff6"/><stop offset="0.26312" stop-color="#3c9ffd"/><stop offset="0.34629" stop-color="#3c9ffd"/><stop offset="0.38031" stop-color="#3f9afe"/><stop offset="0.41887" stop-color="#3e9cfe"/><stop offset="0.45743" stop-color="#4097ff"/><stop offset="0.53002" stop-color="#3e9cfe"/><stop offset="0.71148" stop-color="#3d9efe"/><stop offset="1" stop-color="#3f9afe"/></linearGradient><linearGradient id="a84" gradientUnits="userSpaceOnUse" x1="316.2" x2="977.5" y1="0" y2="0"><stop offset="0" stop-color="#4686fb"/><stop offset="0.00529" stop-color="#4098ff"/><stop offset="0.01059" stop-color="#32aef6"/><stop offset="0.14214" stop-color="#33adf7"/><stop offset="0.26539" stop-color="#3e9cfe"/><stop offset="0.34856" stop-color="#3e9cfe"/><stop offset="0.38485" stop-color="#4097ff"/><stop offset="0.42416" stop-color="#3f9afe"/><stop offset="0.45214" stop-color="#4195ff"/><stop offset="0.71148" stop-color="#3e9cfe"/><stop offset="1" stop-color="#4097ff"/></linearGradient><linearGradient id="a85" gradientUnits="userSpaceOnUse" x1="316.2" x2="977.5" y1="0" y2="0"><stop offset="0" stop-color="#4685fa"/><stop offset="0.00529" stop-color="#4196ff"/><stop offset="0.01059" stop-color="#34acf7"/><stop offset="0.14214" stop-color="#34abf8"/><stop offset="0.26236" stop-color="#3f9bfe"/><stop offset="0.34251" stop-color="#3f9bfe"/><stop offset="0.37804" stop-color="#4195ff"/><stop offset="0.41131" stop-color="#4098ff"/><stop offset="0.45592" stop-color="#4293ff"/><stop offset="0.7077" stop-color="#3f9afe"/><stop offset="1" stop-color="#4295ff"/></linearGradient><linearGradient id="a86" gradientUnits="userSpaceOnUse" x1="316.2" x2="977.5" y1="0" y2="0"><stop offset="0" stop-color="#4683f9"/><stop offset="0.00529" stop-color="#4295ff"/><stop offset="0.01059" stop-color="#35aaf9"/><stop offset="0.14139" stop-color="#35aaf9"/><stop offset="0.26463" stop-color="#4098ff"/><stop offset="0.45592" stop-color="#4391fe"/><stop offset="0.70316" stop-color="#4097ff"/><stop offset="1" stop-color="#4293ff"/></linearGradient><linearGradient id="a87" gradientUnits="userSpaceOnUse" x1="316.2" x2="977.5" y1="0" y2="0"><stop offset="0" stop-color="#4681f7"/><stop offset="0.00605" stop-color="#4195ff"/><stop offset="0.01059" stop-color="#37a8fa"/><stop offset="0.14139" stop-color="#37a8fa"/><stop offset="0.26463" stop-color="#4196ff"/><stop offset="0.45063" stop-color="#4490fe"/><stop offset="0.69787" stop-color="#4295ff"/><stop offset="1" stop-color="#4390fe"/></linearGradient><linearGradient id="a88" gradientUnits="userSpaceOnUse" x1="316.2" x2="977.5" y1="0" y2="0"><stop offset="0" stop-color="#4680f6"/><stop offset="0.00605" stop-color="#4294ff"/><stop offset="0.01059" stop-color="#38a6fb"/><stop offset="0.14139" stop-color="#38a6fb"/><stop offset="0.26236" stop-color="#4295ff"/><stop offset="0.45516" stop-color="#448dfd"/><stop offset="0.69258" stop-color="#4392ff"/><stop offset="1" stop-color="#448ffe"/></linearGradient><linearGradient id="a89" gradientUnits="userSpaceOnUse" x1="316.2" x2="977.5" y1="0" y2="0"><stop offset="0" stop-color="#467ef5"/><stop offset="0.00605" stop-color="#4392ff"/><stop offset="0.00983" stop-color="#3aa2fc"/><stop offset="0.01437" stop-color="#39a5fb"/><stop offset="0.14063" stop-color="#39a5fb"/><stop offset="0.2669" stop-color="#4392ff"/><stop offset="0.45441" stop-color="#458bfd"/><stop offset="0.70392" stop-color="#4390fe"/><stop offset="1" stop-color="#448dfd"/></linearGradient><linearGradient id="a90" gradientUnits="userSpaceOnUse" x1="316.2" x2="977.5" y1="0" y2="0"><stop offset="0" stop-color="#467cf4"/><stop offset="0.00605" stop-color="#4390fe"/><stop offset="0.00983" stop-color="#3ca0fd"/><stop offset="0.01512" stop-color="#3aa3fc"/><stop offset="0.13912" stop-color="#3aa3fc"/><stop offset="0.26539" stop-color="#4390fe"/><stop offset="0.45441" stop-color="#458afc"/><stop offset="0.71223" stop-color="#448ffe"/><stop offset="1" stop-color="#458bfd"/></linearGradient><linearGradient id="a91" gradientUnits="userSpaceOnUse" x1="316.2" x2="977.5" y1="0" y2="0"><stop offset="0" stop-color="#477bf2"/><stop offset="0.00529" stop-color="#458bfd"/><stop offset="0.00983" stop-color="#3d9efe"/><stop offset="0.01512" stop-color="#3ba1fd"/><stop offset="0.13912" stop-color="#3ba1fd"/><stop offset="0.26539" stop-color="#448ffe"/><stop offset="0.38485" stop-color="#458afc"/><stop offset="0.71904" stop-color="#448dfd"/><stop offset="1" stop-color="#4589fc"/></linearGradient><linearGradient id="a92" gradientUnits="userSpaceOnUse" x1="316.2" x2="977.5" y1="0" y2="0"><stop offset="0" stop-color="#4779f1"/><stop offset="0.0068" stop-color="#4490fe"/><stop offset="0.00983" stop-color="#3e9cfe"/><stop offset="0.01285" stop-color="#3c9ffd"/><stop offset="0.14366" stop-color="#3c9ffd"/><stop offset="0.26387" stop-color="#448dfd"/><stop offset="0.4529" stop-color="#4686fb"/><stop offset="0.69484" stop-color="#458bfd"/><stop offset="1" stop-color="#4687fb"/></linearGradient><linearGradient id="a93" gradientUnits="userSpaceOnUse" x1="316.2" x2="977.5" y1="0" y2="0"><stop offset="0" stop-color="#4777ef"/><stop offset="0.00529" stop-color="#4588fb"/><stop offset="0.00983" stop-color="#3f9afe"/><stop offset="0.01512" stop-color="#3d9dfe"/><stop offset="0.13988" stop-color="#3d9dfe"/><stop offset="0.26841" stop-color="#458bfd"/><stop offset="0.45819" stop-color="#4684f9"/><stop offset="0.71072" stop-color="#4589fc"/><stop offset="1" stop-color="#4686fa"/></linearGradient><linearGradient id="a94" gradientUnits="userSpaceOnUse" x1="316.2" x2="977.5" y1="0" y2="0"><stop offset="0" stop-color="#4776ee"/><stop offset="0.0068" stop-color="#458bfd"/><stop offset="0.00983" stop-color="#4097ff"/><stop offset="0.01588" stop-color="#3f9bfe"/><stop offset="0.13912" stop-color="#3f9bfe"/><stop offset="0.26161" stop-color="#4589fc"/><stop offset="0.38107" stop-color="#4684f9"/><stop offset="1" stop-color="#4684f9"/></linearGradient><linearGradient id="a95" gradientUnits="userSpaceOnUse" x1="316.2" x2="977.5" y1="0" y2="0"><stop offset="0" stop-color="#4774ec"/><stop offset="0.00983" stop-color="#4295ff"/><stop offset="0.01588" stop-color="#4098ff"/><stop offset="0.13912" stop-color="#4098ff"/><stop offset="0.26312" stop-color="#4686fb"/><stop offset="0.44912" stop-color="#4681f7"/><stop offset="1" stop-color="#4681f7"/></linearGradient><linearGradient id="a96" gradientUnits="userSpaceOnUse" x1="316.2" x2="977.5" y1="0" y2="0"><stop offset="0" stop-color="#4772eb"/><stop offset="0.00983" stop-color="#4392ff"/><stop offset="0.01588" stop-color="#4195ff"/><stop offset="0.13836" stop-color="#4195ff"/><stop offset="0.26463" stop-color="#4684f9"/><stop offset="0.45441" stop-color="#467ef5"/><stop offset="0.57916" stop-color="#4681f7"/><stop offset="1" stop-color="#467ff6"/></linearGradient><linearGradient id="a97" gradientUnits="userSpaceOnUse" x1="316.2" x2="977.5" y1="0" y2="0"><stop offset="0" stop-color="#4771e9"/><stop offset="0.00983" stop-color="#4490fe"/><stop offset="0.01588" stop-color="#4293ff"/><stop offset="0.13836" stop-color="#4293ff"/><stop offset="0.26992" stop-color="#4681f7"/><stop offset="0.4476" stop-color="#467cf4"/><stop offset="1" stop-color="#467df4"/></linearGradient><linearGradient id="a98" gradientUnits="userSpaceOnUse" x1="316.2" x2="977.5" y1="0" y2="0"><stop offset="0" stop-color="#4770e8"/><stop offset="0.00983" stop-color="#448dfd"/><stop offset="0.01588" stop-color="#4390fe"/><stop offset="0.13912" stop-color="#4390fe"/><stop offset="0.26992" stop-color="#4680f6"/><stop offset="0.45894" stop-color="#477af2"/><stop offset="0.70543" stop-color="#467ef5"/><stop offset="1" stop-color="#467cf3"/></linearGradient><linearGradient id="a99" gradientUnits="userSpaceOnUse" x1="316.2" x2="977.5" y1="0" y2="0"><stop offset="0" stop-color="#476ee6"/><stop offset="0.00983" stop-color="#458bfd"/><stop offset="0.01512" stop-color="#448efe"/><stop offset="0.13988" stop-color="#448efe"/><stop offset="0.26463" stop-color="#467ef5"/><stop offset="0.45894" stop-color="#4778f0"/><stop offset="0.57689" stop-color="#467cf3"/><stop offset="1" stop-color="#477af2"/></linearGradient><linearGradient id="a100" gradientUnits="userSpaceOnUse" x1="316.2" x2="977.5" y1="0" y2="0"><stop offset="0" stop-color="#466ce4"/><stop offset="0.01059" stop-color="#458afc"/><stop offset="0.01512" stop-color="#458bfd"/><stop offset="0.14063" stop-color="#458bfd"/><stop offset="0.26236" stop-color="#467cf4"/><stop offset="0.45668" stop-color="#4777ef"/><stop offset="0.69409" stop-color="#477af2"/><stop offset="1" stop-color="#4777ef"/></linearGradient><linearGradient id="a101" gradientUnits="userSpaceOnUse" x1="316.2" x2="977.5" y1="0" y2="0"><stop offset="0" stop-color="#466be3"/><stop offset="0.01059" stop-color="#4588fb"/><stop offset="0.01512" stop-color="#4589fc"/><stop offset="0.14139" stop-color="#4589fc"/><stop offset="0.2669" stop-color="#477af2"/><stop offset="0.45441" stop-color="#4775ed"/><stop offset="0.70543" stop-color="#4778f0"/><stop offset="1" stop-color="#4776ee"/></linearGradient><linearGradient id="a102" gradientUnits="userSpaceOnUse" x1="316.2" x2="977.5" y1="0" y2="0"><stop offset="0" stop-color="#466ae1"/><stop offset="0.01059" stop-color="#4686fa"/><stop offset="0.01361" stop-color="#4686fb"/><stop offset="0.14366" stop-color="#4686fb"/><stop offset="0.2669" stop-color="#4778f0"/><stop offset="0.45441" stop-color="#4773eb"/><stop offset="0.70543" stop-color="#4777ef"/><stop offset="1" stop-color="#4774ec"/></linearGradient><linearGradient id="a103" gradientUnits="userSpaceOnUse" x1="316.2" x2="977.5" y1="0" y2="0"><stop offset="0" stop-color="#4668df"/><stop offset="0.00756" stop-color="#467cf3"/><stop offset="0.01285" stop-color="#4684f9"/><stop offset="0.14592" stop-color="#4684f9"/><stop offset="0.26463" stop-color="#4777ef"/><stop offset="0.45516" stop-color="#4771ea"/><stop offset="0.70997" stop-color="#4775ed"/><stop offset="1" stop-color="#4772eb"/></linearGradient><linearGradient id="a104" gradientUnits="userSpaceOnUse" x1="316.2" x2="977.5" y1="0" y2="0"><stop offset="0" stop-color="#4666dd"/><stop offset="0.00832" stop-color="#467cf3"/><stop offset="0.01512" stop-color="#4682f8"/><stop offset="0.13988" stop-color="#4682f8"/><stop offset="0.26312" stop-color="#4775ed"/><stop offset="0.45592" stop-color="#4770e8"/><stop offset="1" stop-color="#4771e9"/></linearGradient><linearGradient id="a105" gradientUnits="userSpaceOnUse" x1="316.2" x2="977.5" y1="0" y2="0"><stop offset="0" stop-color="#4665dc"/><stop offset="0.00983" stop-color="#467df4"/><stop offset="0.01512" stop-color="#4681f7"/><stop offset="0.13988" stop-color="#4681f7"/><stop offset="0.26312" stop-color="#4773eb"/><stop offset="0.45592" stop-color="#476ee6"/><stop offset="1" stop-color="#476fe7"/></linearGradient><linearGradient id="a106" gradientUnits="userSpaceOnUse" x1="316.2" x2="977.5" y1="0" y2="0"><stop offset="0" stop-color="#4664da"/><stop offset="0.00983" stop-color="#467cf3"/><stop offset="0.01437" stop-color="#467ef5"/><stop offset="0.1429" stop-color="#467ef5"/><stop offset="0.26236" stop-color="#4771ea"/><stop offset="0.45819" stop-color="#466ce4"/><stop offset="1" stop-color="#476de5"/></linearGradient><linearGradient id="a107" gradientUnits="userSpaceOnUse" x1="316.2" x2="977.5" y1="0" y2="0"><stop offset="0" stop-color="#4663d9"/><stop offset="0.01059" stop-color="#477bf2"/><stop offset="0.01588" stop-color="#467cf4"/><stop offset="0.13988" stop-color="#467cf4"/><stop offset="0.26387" stop-color="#4770e8"/><stop offset="0.38182" stop-color="#466ce4"/><stop offset="1" stop-color="#466be3"/></linearGradient><linearGradient id="a108" gradientUnits="userSpaceOnUse" x1="316.2" x2="977.5" y1="0" y2="0"><stop offset="0" stop-color="#4661d6"/><stop offset="0.00983" stop-color="#4777ef"/><stop offset="0.01361" stop-color="#477af2"/><stop offset="0.14517" stop-color="#477af2"/><stop offset="0.26387" stop-color="#476ee6"/><stop offset="0.45138" stop-color="#466ae1"/><stop offset="1" stop-color="#466be2"/></linearGradient><linearGradient id="a109" gradientUnits="userSpaceOnUse" x1="316.2" x2="977.5" y1="0" y2="0"><stop offset="0" stop-color="#4660d5"/><stop offset="0.00983" stop-color="#4776ee"/><stop offset="0.01512" stop-color="#4778f0"/><stop offset="0.14139" stop-color="#4778f0"/><stop offset="0.26539" stop-color="#466ce4"/><stop offset="0.43399" stop-color="#4669e0"/><stop offset="1" stop-color="#4669e0"/></linearGradient><linearGradient id="a110" gradientUnits="userSpaceOnUse" x1="316.2" x2="977.5" y1="0" y2="0"><stop offset="0" stop-color="#455ed3"/><stop offset="0.00983" stop-color="#4774ec"/><stop offset="0.01512" stop-color="#4777ef"/><stop offset="0.14139" stop-color="#4777ef"/><stop offset="0.26917" stop-color="#466be2"/><stop offset="0.44307" stop-color="#4667de"/><stop offset="1" stop-color="#4667de"/></linearGradient><linearGradient id="a111" gradientUnits="userSpaceOnUse" x1="316.2" x2="977.5" y1="0" y2="0"><stop offset="0" stop-color="#455dd1"/><stop offset="0.01059" stop-color="#4773eb"/><stop offset="0.01285" stop-color="#4774ec"/><stop offset="0.14744" stop-color="#4774ec"/><stop offset="0.26917" stop-color="#4669e0"/><stop offset="0.38182" stop-color="#4666dd"/><stop offset="1" stop-color="#4666dd"/></linearGradient><linearGradient id="a112" gradientUnits="userSpaceOnUse" x1="316.2" x2="977.5" y1="0" y2="0"><stop offset="0" stop-color="#455ccf"/><stop offset="0.01059" stop-color="#4771ea"/><stop offset="0.01361" stop-color="#4772eb"/><stop offset="0.14517" stop-color="#4772eb"/><stop offset="0.26387" stop-color="#4668df"/><stop offset="0.45819" stop-color="#4664da"/><stop offset="0.57085" stop-color="#4666dd"/><stop offset="1" stop-color="#4664db"/></linearGradient><linearGradient id="a113" gradientUnits="userSpaceOnUse" x1="316.2" x2="977.5" y1="0" y2="0"><stop offset="0" stop-color="#455ccf"/><stop offset="0.00983" stop-color="#476ee6"/><stop offset="0.01437" stop-color="#4771e9"/><stop offset="0.1429" stop-color="#4771e9"/><stop offset="0.26387" stop-color="#4666dd"/><stop offset="0.37804" stop-color="#4664da"/><stop offset="1" stop-color="#4664da"/></linearGradient><linearGradient id="a114" gradientUnits="userSpaceOnUse" x1="316.2" x2="977.5" y1="0" y2="0"><stop offset="0" stop-color="#455acc"/><stop offset="0.00983" stop-color="#466ce4"/><stop offset="0.01437" stop-color="#476fe7"/><stop offset="0.1429" stop-color="#476fe7"/><stop offset="0.26009" stop-color="#4665dc"/><stop offset="0.45743" stop-color="#4661d6"/><stop offset="0.57841" stop-color="#4664da"/><stop offset="1" stop-color="#4662d7"/></linearGradient><linearGradient id="a115" gradientUnits="userSpaceOnUse" x1="316.2" x2="977.5" y1="0" y2="0"><stop offset="0" stop-color="#4559cb"/><stop offset="0.0121" stop-color="#466ce4"/><stop offset="0.15122" stop-color="#466ce4"/><stop offset="0.26992" stop-color="#4663d9"/><stop offset="0.44155" stop-color="#4660d5"/><stop offset="1" stop-color="#4660d5"/></linearGradient><linearGradient id="a116" gradientUnits="userSpaceOnUse" x1="316.2" x2="977.5" y1="0" y2="0"><stop offset="0" stop-color="#4557c8"/><stop offset="0.01059" stop-color="#466ae1"/><stop offset="0.01512" stop-color="#466be2"/><stop offset="0.14063" stop-color="#466be2"/><stop offset="0.26992" stop-color="#4661d6"/><stop offset="0.44155" stop-color="#455ed3"/><stop offset="1" stop-color="#455ed3"/></linearGradient><linearGradient id="a117" gradientUnits="userSpaceOnUse" x1="316.2" x2="977.5" y1="0" y2="0"><stop offset="0" stop-color="#4456c7"/><stop offset="0.0121" stop-color="#4668df"/><stop offset="0.14366" stop-color="#4668df"/><stop offset="0.26387" stop-color="#465fd4"/><stop offset="0.43853" stop-color="#455cd0"/><stop offset="1" stop-color="#455cd0"/></linearGradient><linearGradient id="a118" gradientUnits="userSpaceOnUse" x1="316.2" x2="977.5" y1="0" y2="0"><stop offset="0" stop-color="#4454c4"/><stop offset="0.01059" stop-color="#4665dc"/><stop offset="0.14744" stop-color="#4665dc"/><stop offset="0.26009" stop-color="#455dd1"/><stop offset="0.43551" stop-color="#455bce"/><stop offset="1" stop-color="#455bce"/></linearGradient><linearGradient id="a119" gradientUnits="userSpaceOnUse" x1="316.2" x2="977.5" y1="0" y2="0"><stop offset="0" stop-color="#4454c3"/><stop offset="0.01059" stop-color="#4664da"/><stop offset="0.13988" stop-color="#4664da"/><stop offset="0.26009" stop-color="#455ccf"/><stop offset="0.43551" stop-color="#4559cb"/><stop offset="1" stop-color="#4559cb"/></linearGradient><linearGradient id="a120" gradientUnits="userSpaceOnUse" x1="316.2" x2="977.5" y1="0" y2="0"><stop offset="0" stop-color="#4452c0"/><stop offset="0.01059" stop-color="#4662d7"/><stop offset="0.13988" stop-color="#4662d7"/><stop offset="0.26312" stop-color="#455acc"/><stop offset="0.44987" stop-color="#4557c8"/><stop offset="1" stop-color="#4558ca"/></linearGradient><linearGradient id="a121" gradientUnits="userSpaceOnUse" x1="316.2" x2="977.5" y1="0" y2="0"><stop offset="0" stop-color="#4451bf"/><stop offset="0.01059" stop-color="#4660d5"/><stop offset="0.13912" stop-color="#4660d5"/><stop offset="0.25329" stop-color="#4559cb"/><stop offset="0.3788" stop-color="#4456c7"/><stop offset="1" stop-color="#4456c7"/></linearGradient><linearGradient id="a122" gradientUnits="userSpaceOnUse" x1="316.2" x2="977.5" y1="0" y2="0"><stop offset="0" stop-color="#434fbc"/><stop offset="0.01059" stop-color="#455ed3"/><stop offset="0.13836" stop-color="#455ed3"/><stop offset="0.25934" stop-color="#4557c8"/><stop offset="0.44685" stop-color="#4454c4"/><stop offset="1" stop-color="#4455c6"/></linearGradient><linearGradient id="a123" gradientUnits="userSpaceOnUse" x1="316.2" x2="977.5" y1="0" y2="0"><stop offset="0" stop-color="#434eba"/><stop offset="0.01059" stop-color="#455cd0"/><stop offset="0.13836" stop-color="#455cd0"/><stop offset="0.26765" stop-color="#4455c6"/><stop offset="0.37351" stop-color="#4454c3"/><stop offset="1" stop-color="#4454c3"/></linearGradient><linearGradient id="a124" gradientUnits="userSpaceOnUse" x1="316.2" x2="977.5" y1="0" y2="0"><stop offset="0" stop-color="#434db9"/><stop offset="0.01059" stop-color="#455bce"/><stop offset="0.14139" stop-color="#455bce"/><stop offset="0.26765" stop-color="#4454c3"/><stop offset="0.4529" stop-color="#4452c0"/><stop offset="1" stop-color="#4453c1"/></linearGradient><linearGradient id="a125" gradientUnits="userSpaceOnUse" x1="316.2" x2="977.5" y1="0" y2="0"><stop offset="0" stop-color="#424bb5"/><stop offset="0.01059" stop-color="#4559cb"/><stop offset="0.14895" stop-color="#4559cb"/><stop offset="0.24648" stop-color="#4454c3"/><stop offset="0.34478" stop-color="#4454c3"/><stop offset="0.38409" stop-color="#4451bf"/><stop offset="1" stop-color="#4451bf"/></linearGradient><linearGradient id="a126" gradientUnits="userSpaceOnUse" x1="316.2" x2="977.5" y1="0" y2="0"><stop offset="0" stop-color="#424ab4"/><stop offset="0.01059" stop-color="#4557c8"/><stop offset="0.14895" stop-color="#4557c8"/><stop offset="0.30622" stop-color="#4451bf"/><stop offset="1" stop-color="#4451bf"/></linearGradient><linearGradient id="a127" gradientUnits="userSpaceOnUse" x1="316.2" x2="977.5" y1="0" y2="0"><stop offset="0" stop-color="#4249b1"/><stop offset="0.00983" stop-color="#4455c6"/><stop offset="0.01437" stop-color="#4456c7"/><stop offset="0.14063" stop-color="#4456c7"/><stop offset="0.25178" stop-color="#4451bf"/><stop offset="0.45743" stop-color="#434eba"/><stop offset="0.69031" stop-color="#4451bf"/><stop offset="1" stop-color="#434fbc"/></linearGradient><linearGradient id="a128" gradientUnits="userSpaceOnUse" x1="316.2" x2="977.5" y1="0" y2="0"><stop offset="0" stop-color="#4249b1"/><stop offset="0.00983" stop-color="#4454c3"/><stop offset="0.01437" stop-color="#4454c4"/><stop offset="0.14063" stop-color="#4454c4"/><stop offset="0.36292" stop-color="#434eba"/><stop offset="1" stop-color="#434eba"/></linearGradient><linearGradient id="a129" gradientUnits="userSpaceOnUse" x1="316.2" x2="977.5" y1="0" y2="0"><stop offset="0" stop-color="#4247ad"/><stop offset="0.01059" stop-color="#4453c1"/><stop offset="0.01512" stop-color="#4454c3"/><stop offset="0.14139" stop-color="#4454c3"/><stop offset="0.26161" stop-color="#434eba"/><stop offset="1" stop-color="#434eba"/></linearGradient><linearGradient id="a130" gradientUnits="userSpaceOnUse" x1="316.2" x2="977.5" y1="0" y2="0"><stop offset="0" stop-color="#4146ac"/><stop offset="0.00983" stop-color="#4451bf"/><stop offset="0.01512" stop-color="#4452c0"/><stop offset="0.14139" stop-color="#4452c0"/><stop offset="0.4529" stop-color="#424bb5"/><stop offset="0.69258" stop-color="#434eba"/><stop offset="1" stop-color="#434cb7"/></linearGradient><linearGradient id="a131" gradientUnits="userSpaceOnUse" x1="316.2" x2="977.5" y1="0" y2="0"><stop offset="0" stop-color="#4146ac"/><stop offset="0.01059" stop-color="#4350bd"/><stop offset="0.01437" stop-color="#4451bf"/><stop offset="0.14517" stop-color="#4451bf"/><stop offset="0.35914" stop-color="#424bb5"/><stop offset="1" stop-color="#424bb5"/></linearGradient><linearGradient id="a132" gradientUnits="userSpaceOnUse" x1="316.2" x2="977.5" y1="0" y2="0"><stop offset="0" stop-color="#4144a8"/><stop offset="0.00983" stop-color="#434eba"/><stop offset="0.01437" stop-color="#434fbc"/><stop offset="0.45743" stop-color="#424ab4"/><stop offset="1" stop-color="#424bb5"/></linearGradient><linearGradient id="a133" gradientUnits="userSpaceOnUse" x1="316.2" x2="977.5" y1="0" y2="0"><stop offset="0" stop-color="#4143a7"/><stop offset="0.01361" stop-color="#434eba"/><stop offset="0.16558" stop-color="#434eba"/><stop offset="0.38334" stop-color="#424ab2"/><stop offset="0.40677" stop-color="#424bb5"/><stop offset="0.45743" stop-color="#4249b1"/><stop offset="0.57765" stop-color="#424bb5"/><stop offset="1" stop-color="#424ab2"/></linearGradient><linearGradient id="a134" gradientUnits="userSpaceOnUse" x1="316.2" x2="977.5" y1="0" y2="0"><stop offset="0" stop-color="#4042a5"/><stop offset="0.00983" stop-color="#424bb5"/><stop offset="0.01512" stop-color="#434db9"/><stop offset="0.3599" stop-color="#4249b1"/><stop offset="1" stop-color="#4249b1"/></linearGradient><linearGradient id="a135" gradientUnits="userSpaceOnUse" x1="316.2" x2="977.5" y1="0" y2="0"><stop offset="0" stop-color="#4040a2"/><stop offset="0.01285" stop-color="#424bb5"/><stop offset="0.20188" stop-color="#424bb5"/><stop offset="0.25253" stop-color="#4249b1"/><stop offset="1" stop-color="#4249b1"/></linearGradient><linearGradient id="a136" gradientUnits="userSpaceOnUse" x1="316.2" x2="977.5" y1="0" y2="0"><stop offset="0" stop-color="#4040a2"/><stop offset="0.01512" stop-color="#424bb5"/><stop offset="0.44836" stop-color="#4247ad"/><stop offset="0.52246" stop-color="#4249b1"/><stop offset="1" stop-color="#4248af"/></linearGradient><linearGradient id="a137" gradientUnits="userSpaceOnUse" x1="316.2" x2="977.5" y1="0" y2="0"><stop offset="0" stop-color="#403e9e"/><stop offset="0.01512" stop-color="#4249b1"/><stop offset="0.36746" stop-color="#4145aa"/><stop offset="0.70467" stop-color="#4247ad"/><stop offset="1" stop-color="#4145aa"/></linearGradient><linearGradient id="a138" gradientUnits="userSpaceOnUse" x1="316.2" x2="977.5" y1="0" y2="0"><stop offset="0" stop-color="#3f3c99"/><stop offset="0.01588" stop-color="#4145aa"/><stop offset="0.29865" stop-color="#4042a5"/><stop offset="1" stop-color="#4042a5"/></linearGradient><linearGradient id="a139" gradientUnits="userSpaceOnUse" x1="316.2" x2="977.5" y1="0" y2="0"><stop offset="0" stop-color="#3e3a95"/><stop offset="0.01285" stop-color="#4040a2"/><stop offset="1" stop-color="#403e9e"/></linearGradient><linearGradient id="a140" gradientUnits="userSpaceOnUse" x1="316.2" x2="977.5" y1="0" y2="0"><stop offset="0" stop-color="#3e378f"/><stop offset="0.01285" stop-color="#3f3d9a"/><stop offset="1" stop-color="#3f3c99"/></linearGradient><linearGradient id="a141" gradientUnits="userSpaceOnUse" x1="316.2" x2="977.5" y1="0" y2="0"><stop offset="0" stop-color="#3d358b"/><stop offset="0.00907" stop-color="#3e3993"/><stop offset="1" stop-color="#3e3993"/></linearGradient><linearGradient id="a142" gradientUnits="userSpaceOnUse" x1="316.2" x2="977.5" y1="0" y2="0"><stop offset="0" stop-color="#3d358b"/><stop offset="0.00529" stop-color="#3d358b"/><stop offset="0.0068" stop-color="#3e3891"/><stop offset="1" stop-color="#3e3891"/></linearGradient><linearGradient id="a143" gradientUnits="userSpaceOnUse" x1="316.2" x2="977.5" y1="0" y2="0"><stop offset="0" stop-color="#3d358b"/><stop offset="0.00605" stop-color="#3d358b"/><stop offset="0.00756" stop-color="#3e3891"/><stop offset="1" stop-color="#3e3891"/></linearGradient><linearGradient id="a144" gradientUnits="userSpaceOnUse" x1="316.2" x2="977.5" y1="0" y2="0"><stop offset="0" stop-color="#3d358b"/><stop offset="0.0068" stop-color="#3d358b"/><stop offset="0.00832" stop-color="#3e3891"/><stop offset="1" stop-color="#3e3891"/></linearGradient><linearGradient id="a145" gradientUnits="userSpaceOnUse" x1="316.2" x2="977.5" y1="0" y2="0"><stop offset="0" stop-color="#3d3489"/><stop offset="0.00756" stop-color="#3d358b"/><stop offset="0.00907" stop-color="#3e3891"/><stop offset="1" stop-color="#3e3891"/></linearGradient><linearGradient id="a146" gradientUnits="userSpaceOnUse" x1="316.2" x2="977.5" y1="0" y2="0"><stop offset="0" stop-color="#3c3286"/><stop offset="0.00151" stop-color="#3d358b"/><stop offset="0.00832" stop-color="#3d358b"/><stop offset="0.00983" stop-color="#3e3891"/><stop offset="1" stop-color="#3e3891"/></linearGradient><linearGradient id="a147" gradientUnits="userSpaceOnUse" x1="316.2" x2="977.5" y1="0" y2="0"><stop offset="0" stop-color="#3c3286"/><stop offset="0.00227" stop-color="#3d358b"/><stop offset="0.00907" stop-color="#3d358b"/><stop offset="0.01134" stop-color="#3e3891"/><stop offset="1" stop-color="#3e3891"/></linearGradient><linearGradient id="a148" gradientUnits="userSpaceOnUse" x1="316.2" x2="977.5" y1="0" y2="0"><stop offset="0" stop-color="#3c3286"/><stop offset="0.00302" stop-color="#3d358b"/><stop offset="0.01361" stop-color="#3e378f"/><stop offset="0.35309" stop-color="#3e3891"/><stop offset="0.39316" stop-color="#3d368d"/><stop offset="0.42341" stop-color="#3e3891"/><stop offset="0.46953" stop-color="#3d358b"/><stop offset="0.52019" stop-color="#3e3891"/><stop offset="0.77045" stop-color="#3e3891"/><stop offset="1" stop-color="#3d368d"/></linearGradient><linearGradient id="a149" gradientUnits="userSpaceOnUse" x1="316.2" x2="977.5" y1="0" y2="0"><stop offset="0" stop-color="#3c3286"/><stop offset="0.00227" stop-color="#3c3286"/><stop offset="0.00378" stop-color="#3d358b"/><stop offset="0.27673" stop-color="#3d368d"/><stop offset="0.6215" stop-color="#3d358b"/><stop offset="0.74475" stop-color="#3e378f"/><stop offset="0.77121" stop-color="#3d358b"/><stop offset="1" stop-color="#3d358b"/></linearGradient><linearGradient id="a150" gradientUnits="userSpaceOnUse" x1="316.2" x2="977.5" y1="0" y2="0"><stop offset="0" stop-color="#3c3286"/><stop offset="0.00302" stop-color="#3c3286"/><stop offset="0.00454" stop-color="#3d358b"/><stop offset="1" stop-color="#3d358b"/></linearGradient><linearGradient id="a151" gradientUnits="userSpaceOnUse" x1="316.2" x2="977.5" y1="0" y2="0"><stop offset="0" stop-color="#3c3286"/><stop offset="0.00378" stop-color="#3c3286"/><stop offset="0.00529" stop-color="#3d358b"/><stop offset="1" stop-color="#3d358b"/></linearGradient><linearGradient id="a152" gradientUnits="userSpaceOnUse" x1="316.2" x2="977.5" y1="0" y2="0"><stop offset="0" stop-color="#3c3286"/><stop offset="0.00454" stop-color="#3c3286"/><stop offset="0.00605" stop-color="#3d358b"/><stop offset="1" stop-color="#3d358b"/></linearGradient><linearGradient id="a153" gradientUnits="userSpaceOnUse" x1="316.2" x2="977.5" y1="0" y2="0"><stop offset="0" stop-color="#3c3286"/><stop offset="0.00529" stop-color="#3c3286"/><stop offset="0.0068" stop-color="#3d358b"/><stop offset="1" stop-color="#3d358b"/></linearGradient><linearGradient id="a154" gradientUnits="userSpaceOnUse" x1="316.2" x2="977.5" y1="0" y2="0"><stop offset="0" stop-color="#3c3286"/><stop offset="0.00605" stop-color="#3c3286"/><stop offset="0.00756" stop-color="#3d358b"/><stop offset="1" stop-color="#3d358b"/></linearGradient><linearGradient id="a155" gradientUnits="userSpaceOnUse" x1="316.2" x2="977.5" y1="0" y2="0"><stop offset="0" stop-color="#3c3286"/><stop offset="0.0068" stop-color="#3c3286"/><stop offset="0.00832" stop-color="#3d358b"/><stop offset="1" stop-color="#3d358b"/></linearGradient><linearGradient id="a156" gradientUnits="userSpaceOnUse" x1="316.2" x2="977.5" y1="0" y2="0"><stop offset="0" stop-color="#3c3286"/><stop offset="0.00756" stop-color="#3c3286"/><stop offset="0.00907" stop-color="#3d358b"/><stop offset="1" stop-color="#3d358b"/></linearGradient><linearGradient id="a157" gradientUnits="userSpaceOnUse" x1="316.2" x2="977.5" y1="0" y2="0"><stop offset="0" stop-color="#3c3286"/><stop offset="0.00832" stop-color="#3c3286"/><stop offset="0.01059" stop-color="#3d358b"/><stop offset="1" stop-color="#3d358b"/></linearGradient><linearGradient id="a158" gradientUnits="userSpaceOnUse" x1="316.2" x2="977.5" y1="0" y2="0"><stop offset="0" stop-color="#3c3082"/><stop offset="0.00076" stop-color="#3c3286"/><stop offset="0.01361" stop-color="#3d3489"/><stop offset="0.31075" stop-color="#3c3388"/><stop offset="0.33495" stop-color="#3d358b"/><stop offset="0.38258" stop-color="#3c3286"/><stop offset="0.3977" stop-color="#3d3489"/><stop offset="0.47331" stop-color="#3c3286"/><stop offset="0.5716" stop-color="#3d358b"/><stop offset="0.60563" stop-color="#3c3388"/><stop offset="0.63436" stop-color="#3d358b"/><stop offset="1" stop-color="#3c3388"/></linearGradient><linearGradient id="a159" gradientUnits="userSpaceOnUse" x1="316.2" x2="977.5" y1="0" y2="0"><stop offset="0" stop-color="#3b2f80"/><stop offset="0.00151" stop-color="#3c3286"/><stop offset="0.67367" stop-color="#3c3286"/><stop offset="0.70467" stop-color="#3d3489"/><stop offset="0.75533" stop-color="#3c3286"/><stop offset="1" stop-color="#3c3286"/></linearGradient><linearGradient id="a160" gradientUnits="userSpaceOnUse" x1="316.2" x2="977.5" y1="0" y2="0"><stop offset="0" stop-color="#3b2f80"/><stop offset="0.00227" stop-color="#3c3286"/><stop offset="1" stop-color="#3c3286"/></linearGradient><linearGradient id="a161" gradientUnits="userSpaceOnUse" x1="316.2" x2="977.5" y1="0" y2="0"><stop offset="0" stop-color="#3b2f80"/><stop offset="0.00378" stop-color="#3c3286"/><stop offset="1" stop-color="#3c3286"/></linearGradient><linearGradient id="a162" gradientUnits="userSpaceOnUse" x1="316.2" x2="977.5" y1="0" y2="0"><stop offset="0" stop-color="#3b2f80"/><stop offset="0.00302" stop-color="#3b2f80"/><stop offset="0.00454" stop-color="#3c3286"/><stop offset="1" stop-color="#3c3286"/></linearGradient><linearGradient id="a163" gradientUnits="userSpaceOnUse" x1="316.2" x2="977.5" y1="0" y2="0"><stop offset="0" stop-color="#3b2f80"/><stop offset="0.00378" stop-color="#3b2f80"/><stop offset="0.00529" stop-color="#3c3286"/><stop offset="1" stop-color="#3c3286"/></linearGradient><linearGradient id="a164" gradientUnits="userSpaceOnUse" x1="316.2" x2="977.5" y1="0" y2="0"><stop offset="0" stop-color="#3b2f80"/><stop offset="0.00454" stop-color="#3b2f80"/><stop offset="0.00605" stop-color="#3c3286"/><stop offset="1" stop-color="#3c3286"/></linearGradient><linearGradient id="a165" gradientUnits="userSpaceOnUse" x1="316.2" x2="977.5" y1="0" y2="0"><stop offset="0" stop-color="#3b2f80"/><stop offset="0.00529" stop-color="#3b2f80"/><stop offset="0.0068" stop-color="#3c3286"/><stop offset="1" stop-color="#3c3286"/></linearGradient><linearGradient id="a166" gradientUnits="userSpaceOnUse" x1="316.2" x2="977.5" y1="0" y2="0"><stop offset="0" stop-color="#3b2f80"/><stop offset="0.00605" stop-color="#3b2f80"/><stop offset="0.00832" stop-color="#3c3286"/><stop offset="1" stop-color="#3c3286"/></linearGradient><linearGradient id="a167" gradientUnits="userSpaceOnUse" x1="316.2" x2="977.5" y1="0" y2="0"><stop offset="0" stop-color="#3b2f80"/><stop offset="0.00756" stop-color="#3b2f80"/><stop offset="0.00907" stop-color="#3c3286"/><stop offset="1" stop-color="#3c3286"/></linearGradient><linearGradient id="a168" gradientUnits="userSpaceOnUse" x1="316.2" x2="977.5" y1="0" y2="0"><stop offset="0" stop-color="#3b2f80"/><stop offset="0.00832" stop-color="#3b2f80"/><stop offset="0.01059" stop-color="#3c3286"/><stop offset="0.36065" stop-color="#3c3286"/><stop offset="0.38409" stop-color="#3c3082"/><stop offset="0.39846" stop-color="#3c3286"/><stop offset="0.44836" stop-color="#3c3082"/><stop offset="0.50204" stop-color="#3c3286"/><stop offset="1" stop-color="#3c3184"/></linearGradient><linearGradient id="a169" gradientUnits="userSpaceOnUse" x1="316.2" x2="977.5" y1="0" y2="0"><stop offset="0" stop-color="#3b2f80"/><stop offset="0.31151" stop-color="#3b2f80"/><stop offset="0.33873" stop-color="#3c3184"/><stop offset="0.36141" stop-color="#3b2f80"/><stop offset="0.57538" stop-color="#3c3184"/><stop offset="0.60789" stop-color="#3b2f80"/><stop offset="0.71526" stop-color="#3c3286"/><stop offset="0.81431" stop-color="#3b2f80"/><stop offset="1" stop-color="#3b2f80"/></linearGradient><linearGradient id="a170" gradientUnits="userSpaceOnUse" x1="316.2" x2="977.5" y1="0" y2="0"><stop offset="0" stop-color="#3b2e7d"/><stop offset="1" stop-color="#3b2f80"/></linearGradient><linearGradient id="a171" gradientUnits="userSpaceOnUse" x1="316.2" x2="977.5" y1="0" y2="0"><stop offset="0" stop-color="#3a2d79"/><stop offset="0.00151" stop-color="#3b2f80"/><stop offset="1" stop-color="#3b2f80"/></linearGradient><linearGradient id="a172" gradientUnits="userSpaceOnUse" x1="316.2" x2="977.5" y1="0" y2="0"><stop offset="0" stop-color="#3a2d79"/><stop offset="0.00227" stop-color="#3b2f80"/><stop offset="1" stop-color="#3b2f80"/></linearGradient><linearGradient id="a173" gradientUnits="userSpaceOnUse" x1="316.2" x2="977.5" y1="0" y2="0"><stop offset="0" stop-color="#3a2d79"/><stop offset="0.00151" stop-color="#3a2d79"/><stop offset="0.00302" stop-color="#3b2f80"/><stop offset="1" stop-color="#3b2f80"/></linearGradient><linearGradient id="a174" gradientUnits="userSpaceOnUse" x1="316.2" x2="977.5" y1="0" y2="0"><stop offset="0" stop-color="#3a2d79"/><stop offset="0.00227" stop-color="#3a2d79"/><stop offset="0.00454" stop-color="#3b2f80"/><stop offset="1" stop-color="#3b2f80"/></linearGradient><linearGradient id="a175" gradientUnits="userSpaceOnUse" x1="316.2" x2="977.5" y1="0" y2="0"><stop offset="0" stop-color="#3a2d79"/><stop offset="0.00378" stop-color="#3a2d79"/><stop offset="0.00529" stop-color="#3b2f80"/><stop offset="1" stop-color="#3b2f80"/></linearGradient><linearGradient id="a176" gradientUnits="userSpaceOnUse" x1="316.2" x2="977.5" y1="0" y2="0"><stop offset="0" stop-color="#3a2d79"/><stop offset="0.00454" stop-color="#3a2d79"/><stop offset="0.00605" stop-color="#3b2f80"/><stop offset="1" stop-color="#3b2f80"/></linearGradient><linearGradient id="a177" gradientUnits="userSpaceOnUse" x1="316.2" x2="977.5" y1="0" y2="0"><stop offset="0" stop-color="#3a2d79"/><stop offset="0.00529" stop-color="#3a2d79"/><stop offset="0.00756" stop-color="#3b2f80"/><stop offset="1" stop-color="#3b2f80"/></linearGradient><linearGradient id="a178" gradientUnits="userSpaceOnUse" x1="316.2" x2="977.5" y1="0" y2="0"><stop offset="0" stop-color="#3a2d79"/><stop offset="0.0068" stop-color="#3a2d79"/><stop offset="0.00907" stop-color="#3b2f80"/><stop offset="1" stop-color="#3b2f80"/></linearGradient><linearGradient id="a179" gradientUnits="userSpaceOnUse" x1="316.2" x2="977.5" y1="0" y2="0"><stop offset="0" stop-color="#3a2d79"/><stop offset="0.00832" stop-color="#3a2d79"/><stop offset="0.00983" stop-color="#3b2f80"/><stop offset="1" stop-color="#3b2f80"/></linearGradient><linearGradient id="a180" gradientUnits="userSpaceOnUse" x1="316.2" x2="977.5" y1="0" y2="0"><stop offset="0" stop-color="#3a2d79"/><stop offset="0.28051" stop-color="#3b2e7d"/><stop offset="0.47785" stop-color="#3a2d79"/><stop offset="0.70014" stop-color="#3b2f80"/><stop offset="0.76818" stop-color="#3b2e7b"/><stop offset="1" stop-color="#3b2e7b"/></linearGradient><linearGradient id="a183" gradientUnits="userSpaceOnUse" x1="316.2" x2="977.5" y1="0" y2="0"><stop offset="0" stop-color="#3a2b75"/><stop offset="0.00076" stop-color="#3a2d79"/><stop offset="1" stop-color="#3a2d79"/></linearGradient><linearGradient id="a184" gradientUnits="userSpaceOnUse" x1="316.2" x2="977.5" y1="0" y2="0"><stop offset="0" stop-color="#392a73"/><stop offset="0.00151" stop-color="#3a2d79"/><stop offset="1" stop-color="#3a2d79"/></linearGradient><linearGradient id="a185" gradientUnits="userSpaceOnUse" x1="316.2" x2="977.5" y1="0" y2="0"><stop offset="0" stop-color="#392a73"/><stop offset="0.00302" stop-color="#3a2d79"/><stop offset="1" stop-color="#3a2d79"/></linearGradient><linearGradient id="a186" gradientUnits="userSpaceOnUse" x1="316.2" x2="977.5" y1="0" y2="0"><stop offset="0" stop-color="#392a73"/><stop offset="0.00227" stop-color="#392a73"/><stop offset="0.00378" stop-color="#3a2d79"/><stop offset="1" stop-color="#3a2d79"/></linearGradient><linearGradient id="a187" gradientUnits="userSpaceOnUse" x1="316.2" x2="977.5" y1="0" y2="0"><stop offset="0" stop-color="#392a73"/><stop offset="0.00302" stop-color="#392a73"/><stop offset="0.00454" stop-color="#3a2d79"/><stop offset="1" stop-color="#3a2d79"/></linearGradient><linearGradient id="a188" gradientUnits="userSpaceOnUse" x1="316.2" x2="977.5" y1="0" y2="0"><stop offset="0" stop-color="#392a73"/><stop offset="0.00378" stop-color="#392a73"/><stop offset="0.00529" stop-color="#3a2d79"/><stop offset="1" stop-color="#3a2d79"/></linearGradient><linearGradient id="a189" gradientUnits="userSpaceOnUse" x1="316.2" x2="977.5" y1="0" y2="0"><stop offset="0" stop-color="#392a73"/><stop offset="0.00454" stop-color="#392a73"/><stop offset="0.0068" stop-color="#3a2d79"/><stop offset="1" stop-color="#3a2d79"/></linearGradient><linearGradient id="a190" gradientUnits="userSpaceOnUse" x1="316.2" x2="977.5" y1="0" y2="0"><stop offset="0" stop-color="#392a73"/><stop offset="0.00605" stop-color="#392a73"/><stop offset="0.00756" stop-color="#3a2d79"/><stop offset="1" stop-color="#3a2d79"/></linearGradient><linearGradient id="a191" gradientUnits="userSpaceOnUse" x1="316.2" x2="977.5" y1="0" y2="0"><stop offset="0" stop-color="#392a73"/><stop offset="0.0068" stop-color="#392a73"/><stop offset="0.00907" stop-color="#3a2d79"/><stop offset="1" stop-color="#3a2d79"/></linearGradient><linearGradient id="a192" gradientUnits="userSpaceOnUse" x1="316.2" x2="977.5" y1="0" y2="0"><stop offset="0" stop-color="#392a73"/><stop offset="0.00832" stop-color="#392a73"/><stop offset="0.01059" stop-color="#3a2d79"/><stop offset="0.44155" stop-color="#3a2d79"/><stop offset="0.45894" stop-color="#3a2b75"/><stop offset="0.48163" stop-color="#3a2d79"/><stop offset="1" stop-color="#3a2c77"/></linearGradient><linearGradient id="a193" gradientUnits="userSpaceOnUse" x1="316.2" x2="977.5" y1="0" y2="0"><stop offset="0" stop-color="#392a73"/><stop offset="0.28051" stop-color="#3a2c77"/><stop offset="0.48087" stop-color="#392a73"/><stop offset="0.70845" stop-color="#3a2d79"/><stop offset="0.76062" stop-color="#3a2b75"/><stop offset="1" stop-color="#392a73"/></linearGradient><linearGradient id="a196" gradientUnits="userSpaceOnUse" x1="316.2" x2="977.5" y1="0" y2="0"><stop offset="0" stop-color="#39286f"/><stop offset="0.00076" stop-color="#392a73"/><stop offset="1" stop-color="#392a73"/></linearGradient><linearGradient id="a197" gradientUnits="userSpaceOnUse" x1="316.2" x2="977.5" y1="0" y2="0"><stop offset="0" stop-color="#38276d"/><stop offset="0.00151" stop-color="#392a73"/><stop offset="1" stop-color="#392a73"/></linearGradient><linearGradient id="a198" gradientUnits="userSpaceOnUse" x1="316.2" x2="977.5" y1="0" y2="0"><stop offset="0" stop-color="#38276d"/><stop offset="0.00302" stop-color="#392a73"/><stop offset="1" stop-color="#392a73"/></linearGradient><linearGradient id="a199" gradientUnits="userSpaceOnUse" x1="316.2" x2="977.5" y1="0" y2="0"><stop offset="0" stop-color="#38276d"/><stop offset="0.00227" stop-color="#38276d"/><stop offset="0.00378" stop-color="#392a73"/><stop offset="1" stop-color="#392a73"/></linearGradient><linearGradient id="a200" gradientUnits="userSpaceOnUse" x1="316.2" x2="977.5" y1="0" y2="0"><stop offset="0" stop-color="#38276d"/><stop offset="0.00302" stop-color="#38276d"/><stop offset="0.00454" stop-color="#392a73"/><stop offset="1" stop-color="#392a73"/></linearGradient><linearGradient id="a201" gradientUnits="userSpaceOnUse" x1="316.2" x2="977.5" y1="0" y2="0"><stop offset="0" stop-color="#38276d"/><stop offset="0.00378" stop-color="#38276d"/><stop offset="0.00529" stop-color="#392a73"/><stop offset="1" stop-color="#392a73"/></linearGradient><linearGradient id="a202" gradientUnits="userSpaceOnUse" x1="316.2" x2="977.5" y1="0" y2="0"><stop offset="0" stop-color="#38276d"/><stop offset="0.00454" stop-color="#38276d"/><stop offset="0.0068" stop-color="#392a73"/><stop offset="1" stop-color="#392a73"/></linearGradient><linearGradient id="a203" gradientUnits="userSpaceOnUse" x1="316.2" x2="977.5" y1="0" y2="0"><stop offset="0" stop-color="#38276d"/><stop offset="0.00605" stop-color="#38276d"/><stop offset="0.00756" stop-color="#392a73"/><stop offset="1" stop-color="#392a73"/></linearGradient><linearGradient id="a204" gradientUnits="userSpaceOnUse" x1="316.2" x2="977.5" y1="0" y2="0"><stop offset="0" stop-color="#38276d"/><stop offset="0.0068" stop-color="#38276d"/><stop offset="0.00832" stop-color="#392a73"/><stop offset="1" stop-color="#392a73"/></linearGradient></defs><g shape-rendering="crispEdges"><rect x="316.2" y="65.25" width="661.3" height="1.35" fill="url(#a0)"/><rect x="316.2" y="66.25" width="661.3" height="1.35" fill="url(#a1)"/><rect x="316.2" y="67.25" width="661.3" height="1.35" fill="url(#a2)"/><rect x="316.2" y="68.25" width="661.3" height="1.35" fill="url(#a3)"/><rect x="316.2" y="69.25" width="661.3" height="1.35" fill="url(#a4)"/><rect x="316.2" y="70.25" width="661.3" height="1.35" fill="url(#a5)"/><rect x="316.2" y="71.25" width="661.3" height="1.35" fill="url(#a6)"/><rect x="316.2" y="72.25" width="661.3" height="1.35" fill="url(#a7)"/><rect x="316.2" y="73.25" width="661.3" height="1.35" fill="url(#a8)"/><rect x="316.2" y="74.25" width="661.3" height="1.35" fill="url(#a9)"/><rect x="316.2" y="75.25" width="661.3" height="1.35" fill="url(#a10)"/><rect x="316.2" y="76.25" width="661.3" height="1.35" fill="url(#a11)"/><rect x="316.2" y="77.25" width="661.3" height="1.35" fill="url(#a12)"/><rect x="316.2" y="78.25" width="661.3" height="1.35" fill="url(#a13)"/><rect x="316.2" y="79.25" width="661.3" height="1.35" fill="url(#a14)"/><rect x="316.2" y="80.25" width="661.3" height="1.35" fill="url(#a15)"/><rect x="316.2" y="81.25" width="661.3" height="1.35" fill="url(#a16)"/><rect x="316.2" y="82.25" width="661.3" height="1.35" fill="url(#a17)"/><rect x="316.2" y="83.25" width="661.3" height="1.35" fill="url(#a18)"/><rect x="316.2" y="84.25" width="661.3" height="1.35" fill="url(#a19)"/><rect x="316.2" y="85.25" width="661.3" height="1.35" fill="url(#a20)"/><rect x="316.2" y="86.25" width="661.3" height="1.35" fill="url(#a21)"/><rect x="316.2" y="87.25" width="661.3" height="1.35" fill="url(#a22)"/><rect x="316.2" y="88.25" width="661.3" height="1.35" fill="url(#a23)"/><rect x="316.2" y="89.25" width="661.3" height="1.35" fill="url(#a24)"/><rect x="316.2" y="90.25" width="661.3" height="1.35" fill="url(#a25)"/><rect x="316.2" y="91.25" width="661.3" height="1.35" fill="url(#a26)"/><rect x="316.2" y="92.25" width="661.3" height="1.35" fill="url(#a27)"/><rect x="316.2" y="93.25" width="661.3" height="1.35" fill="url(#a28)"/><rect x="316.2" y="94.25" width="661.3" height="1.35" fill="url(#a29)"/><rect x="316.2" y="95.25" width="661.3" height="1.35" fill="url(#a30)"/><rect x="316.2" y="96.25" width="661.3" height="1.35" fill="url(#a31)"/><rect x="316.2" y="97.25" width="661.3" height="1.35" fill="url(#a32)"/><rect x="316.2" y="98.25" width="661.3" height="1.35" fill="url(#a33)"/><rect x="316.2" y="99.25" width="661.3" height="1.35" fill="url(#a34)"/><rect x="316.2" y="100.25" width="661.3" height="1.35" fill="url(#a35)"/><rect x="316.2" y="101.25" width="661.3" height="1.35" fill="url(#a36)"/><rect x="316.2" y="102.25" width="661.3" height="1.35" fill="url(#a37)"/><rect x="316.2" y="103.25" width="661.3" height="1.35" fill="url(#a38)"/><rect x="316.2" y="104.25" width="661.3" height="1.35" fill="url(#a39)"/><rect x="316.2" y="105.25" width="661.3" height="1.35" fill="url(#a40)"/><rect x="316.2" y="106.25" width="661.3" height="1.35" fill="url(#a41)"/><rect x="316.2" y="107.25" width="661.3" height="1.35" fill="url(#a42)"/><rect x="316.2" y="108.25" width="661.3" height="1.35" fill="url(#a43)"/><rect x="316.2" y="109.25" width="661.3" height="1.35" fill="url(#a44)"/><rect x="316.2" y="110.25" width="661.3" height="1.35" fill="url(#a45)"/><rect x="316.2" y="111.25" width="661.3" height="1.35" fill="url(#a46)"/><rect x="316.2" y="112.25" width="661.3" height="1.35" fill="url(#a47)"/><rect x="316.2" y="113.25" width="661.3" height="1.35" fill="url(#a48)"/><rect x="316.2" y="114.25" width="661.3" height="1.35" fill="url(#a49)"/><rect x="316.2" y="115.25" width="661.3" height="1.35" fill="url(#a50)"/><rect x="316.2" y="116.25" width="661.3" height="1.35" fill="url(#a51)"/><rect x="316.2" y="117.25" width="661.3" height="1.35" fill="url(#a52)"/><rect x="316.2" y="118.25" width="661.3" height="1.35" fill="url(#a53)"/><rect x="316.2" y="119.25" width="661.3" height="1.35" fill="url(#a54)"/><rect x="316.2" y="120.25" width="661.3" height="1.35" fill="url(#a55)"/><rect x="316.2" y="121.25" width="661.3" height="1.35" fill="url(#a56)"/><rect x="316.2" y="122.25" width="661.3" height="1.35" fill="url(#a57)"/><rect x="316.2" y="123.25" width="661.3" height="1.35" fill="url(#a58)"/><rect x="316.2" y="124.25" width="661.3" height="1.35" fill="url(#a59)"/><rect x="316.2" y="125.25" width="661.3" height="1.35" fill="url(#a60)"/><rect x="316.2" y="126.25" width="661.3" height="1.35" fill="url(#a61)"/><rect x="316.2" y="127.25" width="661.3" height="1.35" fill="url(#a62)"/><rect x="316.2" y="128.25" width="661.3" height="1.35" fill="url(#a63)"/><rect x="316.2" y="129.25" width="661.3" height="1.35" fill="url(#a64)"/><rect x="316.2" y="130.25" width="661.3" height="1.35" fill="url(#a65)"/><rect x="316.2" y="131.25" width="661.3" height="1.35" fill="url(#a66)"/><rect x="316.2" y="132.25" width="661.3" height="1.35" fill="url(#a67)"/><rect x="316.2" y="133.25" width="661.3" height="1.35" fill="url(#a68)"/><rect x="316.2" y="134.25" width="661.3" height="1.35" fill="url(#a69)"/><rect x="316.2" y="135.25" width="661.3" height="1.35" fill="url(#a70)"/><rect x="316.2" y="136.25" width="661.3" height="1.35" fill="url(#a71)"/><rect x="316.2" y="137.25" width="661.3" height="1.35" fill="url(#a72)"/><rect x="316.2" y="138.25" width="661.3" height="1.35" fill="url(#a73)"/><rect x="316.2" y="139.25" width="661.3" height="1.35" fill="url(#a74)"/><rect x="316.2" y="140.25" width="661.3" height="1.35" fill="url(#a75)"/><rect x="316.2" y="141.25" width="661.3" height="1.35" fill="url(#a76)"/><rect x="316.2" y="142.25" width="661.3" height="1.35" fill="url(#a77)"/><rect x="316.2" y="143.25" width="661.3" height="1.35" fill="url(#a78)"/><rect x="316.2" y="144.25" width="661.3" height="1.35" fill="url(#a79)"/><rect x="316.2" y="145.25" width="661.3" height="1.35" fill="url(#a80)"/><rect x="316.2" y="146.25" width="661.3" height="1.35" fill="url(#a81)"/><rect x="316.2" y="147.25" width="661.3" height="1.35" fill="url(#a82)"/><rect x="316.2" y="148.25" width="661.3" height="1.35" fill="url(#a83)"/><rect x="316.2" y="149.25" width="661.3" height="1.35" fill="url(#a84)"/><rect x="316.2" y="150.25" width="661.3" height="1.35" fill="url(#a85)"/><rect x="316.2" y="151.25" width="661.3" height="1.35" fill="url(#a86)"/><rect x="316.2" y="152.25" width="661.3" height="1.35" fill="url(#a87)"/><rect x="316.2" y="153.25" width="661.3" height="1.35" fill="url(#a88)"/><rect x="316.2" y="154.25" width="661.3" height="1.35" fill="url(#a89)"/><rect x="316.2" y="155.25" width="661.3" height="1.35" fill="url(#a90)"/><rect x="316.2" y="156.25" width="661.3" height="1.35" fill="url(#a91)"/><rect x="316.2" y="157.25" width="661.3" height="1.35" fill="url(#a92)"/><rect x="316.2" y="158.25" width="661.3" height="1.35" fill="url(#a93)"/><rect x="316.2" y="159.25" width="661.3" height="1.35" fill="url(#a94)"/><rect x="316.2" y="160.25" width="661.3" height="1.35" fill="url(#a95)"/><rect x="316.2" y="161.25" width="661.3" height="1.35" fill="url(#a96)"/><rect x="316.2" y="162.25" width="661.3" height="1.35" fill="url(#a97)"/><rect x="316.2" y="163.25" width="661.3" height="1.35" fill="url(#a98)"/><rect x="316.2" y="164.25" width="661.3" height="1.35" fill="url(#a99)"/><rect x="316.2" y="165.25" width="661.3" height="1.35" fill="url(#a100)"/><rect x="316.2" y="166.25" width="661.3" height="1.35" fill="url(#a101)"/><rect x="316.2" y="167.25" width="661.3" height="1.35" fill="url(#a102)"/><rect x="316.2" y="168.25" width="661.3" height="1.35" fill="url(#a103)"/><rect x="316.2" y="169.25" width="661.3" height="1.35" fill="url(#a104)"/><rect x="316.2" y="170.25" width="661.3" height="1.35" fill="url(#a105)"/><rect x="316.2" y="171.25" width="661.3" height="1.35" fill="url(#a106)"/><rect x="316.2" y="172.25" width="661.3" height="1.35" fill="url(#a107)"/><rect x="316.2" y="173.25" width="661.3" height="1.35" fill="url(#a108)"/><rect x="316.2" y="174.25" width="661.3" height="1.35" fill="url(#a109)"/><rect x="316.2" y="175.25" width="661.3" height="1.35" fill="url(#a110)"/><rect x="316.2" y="176.25" width="661.3" height="1.35" fill="url(#a111)"/><rect x="316.2" y="177.25" width="661.3" height="1.35" fill="url(#a112)"/><rect x="316.2" y="178.25" width="661.3" height="1.35" fill="url(#a113)"/><rect x="316.2" y="179.25" width="661.3" height="1.35" fill="url(#a114)"/><rect x="316.2" y="180.25" width="661.3" height="1.35" fill="url(#a115)"/><rect x="316.2" y="181.25" width="661.3" height="1.35" fill="url(#a116)"/><rect x="316.2" y="182.25" width="661.3" height="1.35" fill="url(#a117)"/><rect x="316.2" y="183.25" width="661.3" height="1.35" fill="url(#a118)"/><rect x="316.2" y="184.25" width="661.3" height="1.35" fill="url(#a119)"/><rect x="316.2" y="185.25" width="661.3" height="1.35" fill="url(#a120)"/><rect x="316.2" y="186.25" width="661.3" height="1.35" fill="url(#a121)"/><rect x="316.2" y="187.25" width="661.3" height="1.35" fill="url(#a122)"/><rect x="316.2" y="188.25" width="661.3" height="1.35" fill="url(#a123)"/><rect x="316.2" y="189.25" width="661.3" height="1.35" fill="url(#a124)"/><rect x="316.2" y="190.25" width="661.3" height="1.35" fill="url(#a125)"/><rect x="316.2" y="191.25" width="661.3" height="1.35" fill="url(#a126)"/><rect x="316.2" y="192.25" width="661.3" height="1.35" fill="url(#a127)"/><rect x="316.2" y="193.25" width="661.3" height="1.35" fill="url(#a128)"/><rect x="316.2" y="194.25" width="661.3" height="1.35" fill="url(#a129)"/><rect x="316.2" y="195.25" width="661.3" height="1.35" fill="url(#a130)"/><rect x="316.2" y="196.25" width="661.3" height="1.35" fill="url(#a131)"/><rect x="316.2" y="197.25" width="661.3" height="1.35" fill="url(#a132)"/><rect x="316.2" y="198.25" width="661.3" height="1.35" fill="url(#a133)"/><rect x="316.2" y="199.25" width="661.3" height="1.35" fill="url(#a134)"/><rect x="316.2" y="200.25" width="661.3" height="1.35" fill="url(#a135)"/><rect x="316.2" y="201.25" width="661.3" height="1.35" fill="url(#a136)"/><rect x="316.2" y="202.25" width="661.3" height="1.35" fill="url(#a137)"/><rect x="316.2" y="203.25" width="661.3" height="1.35" fill="url(#a138)"/><rect x="316.2" y="204.25" width="661.3" height="1.35" fill="url(#a139)"/><rect x="316.2" y="205.25" width="661.3" height="1.35" fill="url(#a140)"/><rect x="316.2" y="206.25" width="661.3" height="1.35" fill="url(#a141)"/><rect x="316.2" y="207.25" width="661.3" height="1.35" fill="url(#a142)"/><rect x="316.2" y="208.25" width="661.3" height="1.35" fill="url(#a143)"/><rect x="316.2" y="209.25" width="661.3" height="1.35" fill="url(#a144)"/><rect x="316.2" y="210.25" width="661.3" height="1.35" fill="url(#a145)"/><rect x="316.2" y="211.25" width="661.3" height="1.35" fill="url(#a146)"/><rect x="316.2" y="212.25" width="661.3" height="1.35" fill="url(#a147)"/><rect x="316.2" y="213.25" width="661.3" height="1.35" fill="url(#a148)"/><rect x="316.2" y="214.25" width="661.3" height="1.35" fill="url(#a149)"/><rect x="316.2" y="215.25" width="661.3" height="1.35" fill="url(#a150)"/><rect x="316.2" y="216.25" width="661.3" height="1.35" fill="url(#a151)"/><rect x="316.2" y="217.25" width="661.3" height="1.35" fill="url(#a152)"/><rect x="316.2" y="218.25" width="661.3" height="1.35" fill="url(#a153)"/><rect x="316.2" y="219.25" width="661.3" height="1.35" fill="url(#a154)"/><rect x="316.2" y="220.25" width="661.3" height="1.35" fill="url(#a155)"/><rect x="316.2" y="221.25" width="661.3" height="1.35" fill="url(#a156)"/><rect x="316.2" y="222.25" width="661.3" height="1.35" fill="url(#a157)"/><rect x="316.2" y="223.25" width="661.3" height="1.35" fill="url(#a158)"/><rect x="316.2" y="224.25" width="661.3" height="1.35" fill="url(#a159)"/><rect x="316.2" y="225.25" width="661.3" height="1.35" fill="url(#a160)"/><rect x="316.2" y="226.25" width="661.3" height="1.35" fill="url(#a161)"/><rect x="316.2" y="227.25" width="661.3" height="1.35" fill="url(#a162)"/><rect x="316.2" y="228.25" width="661.3" height="1.35" fill="url(#a163)"/><rect x="316.2" y="229.25" width="661.3" height="1.35" fill="url(#a164)"/><rect x="316.2" y="230.25" width="661.3" height="1.35" fill="url(#a165)"/><rect x="316.2" y="231.25" width="661.3" height="1.35" fill="url(#a166)"/><rect x="316.2" y="232.25" width="661.3" height="1.35" fill="url(#a167)"/><rect x="316.2" y="233.25" width="661.3" height="1.35" fill="url(#a168)"/><rect x="316.2" y="234.25" width="661.3" height="1.35" fill="url(#a169)"/><rect x="316.2" y="235.25" width="661.3" height="1.35" fill="url(#a170)"/><rect x="316.2" y="236.25" width="661.3" height="1.35" fill="url(#a171)"/><rect x="316.2" y="237.25" width="661.3" height="1.35" fill="url(#a172)"/><rect x="316.2" y="238.25" width="661.3" height="1.35" fill="url(#a173)"/><rect x="316.2" y="239.25" width="661.3" height="1.35" fill="url(#a174)"/><rect x="316.2" y="240.25" width="661.3" height="1.35" fill="url(#a175)"/><rect x="316.2" y="241.25" width="661.3" height="1.35" fill="url(#a176)"/><rect x="316.2" y="242.25" width="661.3" height="1.35" fill="url(#a177)"/><rect x="316.2" y="243.25" width="661.3" height="1.35" fill="url(#a178)"/><rect x="316.2" y="244.25" width="661.3" height="1.35" fill="url(#a179)"/><rect x="316.2" y="245.25" width="661.3" height="1.35" fill="url(#a180)"/><rect x="316.2" y="246.25" width="661.3" height="1.35" fill="#3a2d79"/><rect x="316.2" y="247.25" width="661.3" height="1.85" fill="#3a2d79"/><rect x="316.2" y="248.75" width="661.3" height="1.35" fill="url(#a183)"/><rect x="316.2" y="249.75" width="661.3" height="1.35" fill="url(#a184)"/><rect x="316.2" y="250.75" width="661.3" height="1.35" fill="url(#a185)"/><rect x="316.2" y="251.75" width="661.3" height="1.35" fill="url(#a186)"/><rect x="316.2" y="252.75" width="661.3" height="1.35" fill="url(#a187)"/><rect x="316.2" y="253.75" width="661.3" height="1.35" fill="url(#a188)"/><rect x="316.2" y="254.75" width="661.3" height="1.35" fill="url(#a189)"/><rect x="316.2" y="255.75" width="661.3" height="1.35" fill="url(#a190)"/><rect x="316.2" y="256.75" width="661.3" height="1.35" fill="url(#a191)"/><rect x="316.2" y="257.75" width="661.3" height="1.35" fill="url(#a192)"/><rect x="316.2" y="258.75" width="661.3" height="1.35" fill="url(#a193)"/><rect x="316.2" y="259.75" width="661.3" height="1.35" fill="#392a73"/><rect x="316.2" y="260.75" width="661.3" height="3.85" fill="#392a73"/><rect x="316.2" y="264.25" width="661.3" height="1.35" fill="url(#a196)"/><rect x="316.2" y="265.25" width="661.3" height="1.35" fill="url(#a197)"/><rect x="316.2" y="266.25" width="661.3" height="1.35" fill="url(#a198)"/><rect x="316.2" y="267.25" width="661.3" height="1.35" fill="url(#a199)"/><rect x="316.2" y="268.25" width="661.3" height="1.35" fill="url(#a200)"/><rect x="316.2" y="269.25" width="661.3" height="1.35" fill="url(#a201)"/><rect x="316.2" y="270.25" width="661.3" height="1.35" fill="url(#a202)"/><rect x="316.2" y="271.25" width="661.3" height="1.35" fill="url(#a203)"/><rect x="316.2" y="272.25" width="661.3" height="0.85" fill="url(#a204)"/></g><g shape-rendering="crispEdges"><rect x="760.7" y="65.25" width="27.9" height="207.83" fill="#30123b"/><rect x="977.5" y="65.25" width="32.4" height="207.83" fill="#30123b"/></g><defs><linearGradient id="e1" gradientUnits="userSpaceOnUse" x1="0" x2="0" y1="65.25" y2="273.08"><stop offset="0" stop-color="#458afc"/><stop offset="0.0698" stop-color="#4391fe"/><stop offset="0.0722" stop-color="#3e9bfe"/><stop offset="0.0746" stop-color="#31aff5"/><stop offset="0.0794" stop-color="#1ad4d0"/><stop offset="0.0818" stop-color="#19e2bb"/><stop offset="0.0842" stop-color="#25eca7"/><stop offset="0.0866" stop-color="#3cf58e"/><stop offset="0.0914" stop-color="#79fe59"/><stop offset="0.0938" stop-color="#96fe44"/><stop offset="0.0962" stop-color="#acfb38"/><stop offset="0.0986" stop-color="#c1f334"/><stop offset="0.1034" stop-color="#e5d938"/><stop offset="0.1059" stop-color="#f2c93a"/><stop offset="0.1107" stop-color="#fcb136"/><stop offset="0.1347" stop-color="#fbb838"/><stop offset="0.1443" stop-color="#f5c53a"/><stop offset="0.1612" stop-color="#dbe236"/><stop offset="0.1708" stop-color="#c6f034"/><stop offset="0.1852" stop-color="#a7fc3a"/><stop offset="0.1997" stop-color="#7dff56"/><stop offset="0.2165" stop-color="#43f787"/><stop offset="0.2406" stop-color="#27eea4"/><stop offset="0.255" stop-color="#1ce6b4"/><stop offset="0.2839" stop-color="#1ad4d0"/><stop offset="0.32" stop-color="#2fb2f4"/><stop offset="0.3416" stop-color="#3d9efe"/><stop offset="0.3536" stop-color="#4099ff"/><stop offset="0.4066" stop-color="#4687fb"/><stop offset="0.4571" stop-color="#4773eb"/><stop offset="0.5461" stop-color="#4664da"/><stop offset="0.6375" stop-color="#4451bf"/><stop offset="0.652" stop-color="#424bb5"/><stop offset="0.6832" stop-color="#3c3286"/><stop offset="0.741" stop-color="#3c3286"/><stop offset="0.7434" stop-color="#3b2f80"/><stop offset="0.8035" stop-color="#3b2f80"/><stop offset="0.8059" stop-color="#3a2d79"/><stop offset="0.8661" stop-color="#3a2d79"/><stop offset="0.8685" stop-color="#392a73"/><stop offset="0.9286" stop-color="#392a73"/><stop offset="0.931" stop-color="#38276d"/><stop offset="0.9888" stop-color="#38276d"/><stop offset="0.9912" stop-color="#372466"/><stop offset="0.9984" stop-color="#372466"/></linearGradient></defs><rect x="760" y="65.25" width="1.2" height="207.83" fill="url(#e1)" opacity="0.85"/><defs><linearGradient id="e2" gradientUnits="userSpaceOnUse" x1="0" x2="0" y1="65.25" y2="273.08"><stop offset="0" stop-color="#fcb136"/><stop offset="0.1275" stop-color="#fbb838"/><stop offset="0.1395" stop-color="#f9bc39"/><stop offset="0.1492" stop-color="#efcd3a"/><stop offset="0.1588" stop-color="#dfdf37"/><stop offset="0.1804" stop-color="#b1f936"/><stop offset="0.1852" stop-color="#a7fc3a"/><stop offset="0.1973" stop-color="#84ff51"/><stop offset="0.2165" stop-color="#43f787"/><stop offset="0.2526" stop-color="#1de7b2"/><stop offset="0.2646" stop-color="#18e0bd"/><stop offset="0.2815" stop-color="#19d5cd"/><stop offset="0.32" stop-color="#2fb2f4"/><stop offset="0.3416" stop-color="#3d9efe"/><stop offset="0.3536" stop-color="#4099ff"/><stop offset="0.4066" stop-color="#4687fb"/><stop offset="0.4571" stop-color="#4773eb"/><stop offset="0.5461" stop-color="#4664da"/><stop offset="0.6375" stop-color="#4451bf"/><stop offset="0.652" stop-color="#424bb5"/><stop offset="0.6832" stop-color="#3c3286"/><stop offset="0.741" stop-color="#3c3286"/><stop offset="0.7434" stop-color="#3b2f80"/><stop offset="0.8035" stop-color="#3b2f80"/><stop offset="0.8059" stop-color="#3a2d79"/><stop offset="0.8661" stop-color="#3a2d79"/><stop offset="0.8685" stop-color="#392a73"/><stop offset="0.9286" stop-color="#392a73"/><stop offset="0.931" stop-color="#38276d"/><stop offset="0.9888" stop-color="#38276d"/><stop offset="0.9912" stop-color="#372466"/><stop offset="0.9984" stop-color="#372466"/></linearGradient></defs><rect x="788.1" y="65.25" width="1.3" height="207.83" fill="url(#e2)" opacity="0.85"/><defs><linearGradient id="e3" gradientUnits="userSpaceOnUse" x1="0" x2="0" y1="65.25" y2="273.08"><stop offset="0" stop-color="#458afc"/><stop offset="0.0698" stop-color="#4391fe"/><stop offset="0.0722" stop-color="#3e9bfe"/><stop offset="0.0746" stop-color="#31aff5"/><stop offset="0.0794" stop-color="#1ad4d0"/><stop offset="0.0818" stop-color="#19e2bb"/><stop offset="0.0842" stop-color="#25eca7"/><stop offset="0.0866" stop-color="#3cf58e"/><stop offset="0.0914" stop-color="#79fe59"/><stop offset="0.0938" stop-color="#96fe44"/><stop offset="0.0962" stop-color="#acfb38"/><stop offset="0.0986" stop-color="#c1f334"/><stop offset="0.1034" stop-color="#e5d938"/><stop offset="0.1059" stop-color="#f2c93a"/><stop offset="0.1107" stop-color="#fcb136"/><stop offset="0.1347" stop-color="#fbb838"/><stop offset="0.1443" stop-color="#f5c53a"/><stop offset="0.1612" stop-color="#dbe236"/><stop offset="0.1708" stop-color="#c6f034"/><stop offset="0.1852" stop-color="#a7fc3a"/><stop offset="0.1997" stop-color="#7dff56"/><stop offset="0.2165" stop-color="#43f787"/><stop offset="0.2406" stop-color="#27eea4"/><stop offset="0.255" stop-color="#1ce6b4"/><stop offset="0.2839" stop-color="#1ad4d0"/><stop offset="0.32" stop-color="#2fb2f4"/><stop offset="0.3416" stop-color="#3d9efe"/><stop offset="0.3536" stop-color="#4099ff"/><stop offset="0.4066" stop-color="#4687fb"/><stop offset="0.4571" stop-color="#4773eb"/><stop offset="0.5461" stop-color="#4664da"/><stop offset="0.6375" stop-color="#4451bf"/><stop offset="0.652" stop-color="#424bb5"/><stop offset="0.6832" stop-color="#3c3286"/><stop offset="0.741" stop-color="#3c3286"/><stop offset="0.7434" stop-color="#3b2f80"/><stop offset="0.8035" stop-color="#3b2f80"/><stop offset="0.8059" stop-color="#3a2d79"/><stop offset="0.8661" stop-color="#3a2d79"/><stop offset="0.8685" stop-color="#392a73"/><stop offset="0.9286" stop-color="#392a73"/><stop offset="0.931" stop-color="#38276d"/><stop offset="0.9888" stop-color="#38276d"/><stop offset="0.9912" stop-color="#372466"/><stop offset="0.9984" stop-color="#372466"/></linearGradient></defs><rect x="976.8" y="65.25" width="1.3" height="207.83" fill="url(#e3)" opacity="0.85"/></g>
<g id="vmap"><defs><linearGradient id="b0" gradientUnits="userSpaceOnUse" x1="316.2" x2="977.5" y1="0" y2="0"><stop offset="0" stop-color="#ff8989"/><stop offset="0.00227" stop-color="#ff4d4d"/><stop offset="0.00454" stop-color="#fe0000"/><stop offset="0.00529" stop-color="#e00"/><stop offset="0.00907" stop-color="#980000"/><stop offset="0.01059" stop-color="#800000"/><stop offset="0.01966" stop-color="#800000"/><stop offset="0.02041" stop-color="#860000"/><stop offset="0.02419" stop-color="#c00000"/><stop offset="0.02646" stop-color="#da0000"/><stop offset="0.02949" stop-color="#e00"/><stop offset="0.03402" stop-color="#f80000"/><stop offset="0.13005" stop-color="#f80000"/><stop offset="0.20566" stop-color="#ff0101"/><stop offset="0.20641" stop-color="#ff0505"/><stop offset="0.24346" stop-color="#ff0909"/><stop offset="0.24422" stop-color="#ff0d0d"/><stop offset="0.28126" stop-color="#f11"/><stop offset="0.28202" stop-color="#ff1515"/><stop offset="0.30017" stop-color="#ff1515"/><stop offset="0.30092" stop-color="#ff1919"/><stop offset="0.45063" stop-color="#ff1919"/><stop offset="0.45138" stop-color="#ff1d1d"/><stop offset="0.72433" stop-color="#ff2121"/><stop offset="0.72509" stop-color="#ff2525"/><stop offset="1" stop-color="#ff2525"/></linearGradient><linearGradient id="b1" gradientUnits="userSpaceOnUse" x1="316.2" x2="977.5" y1="0" y2="0"><stop offset="0" stop-color="#ff8989"/><stop offset="0.00227" stop-color="#ff4c4c"/><stop offset="0.00454" stop-color="#fe0000"/><stop offset="0.00907" stop-color="#960000"/><stop offset="0.01059" stop-color="#800000"/><stop offset="0.01966" stop-color="#800000"/><stop offset="0.02041" stop-color="#840000"/><stop offset="0.02419" stop-color="#c00000"/><stop offset="0.02646" stop-color="#da0000"/><stop offset="0.02949" stop-color="#e00"/><stop offset="0.03402" stop-color="#f80000"/><stop offset="0.13005" stop-color="#f80000"/><stop offset="0.20566" stop-color="#ff0101"/><stop offset="0.20641" stop-color="#ff0505"/><stop offset="0.24346" stop-color="#ff0909"/><stop offset="0.24422" stop-color="#ff0d0d"/><stop offset="0.28126" stop-color="#f11"/><stop offset="0.28202" stop-color="#ff1515"/><stop offset="0.30017" stop-color="#ff1515"/><stop offset="0.30092" stop-color="#ff1919"/><stop offset="0.45063" stop-color="#ff1919"/><stop offset="0.45138" stop-color="#ff1d1d"/><stop offset="0.72433" stop-color="#ff2121"/><stop offset="0.72509" stop-color="#ff2525"/><stop offset="1" stop-color="#ff2525"/></linearGradient><linearGradient id="b2" gradientUnits="userSpaceOnUse" x1="316.2" x2="977.5" y1="0" y2="0"><stop offset="0" stop-color="#ff9898"/><stop offset="0.00227" stop-color="#ff5d5d"/><stop offset="0.00454" stop-color="#fe1212"/><stop offset="0.00529" stop-color="#f70404"/><stop offset="0.00605" stop-color="#e90000"/><stop offset="0.00832" stop-color="#b30000"/><stop offset="0.01059" stop-color="#8c0000"/><stop offset="0.01285" stop-color="#800000"/><stop offset="0.01739" stop-color="#800000"/><stop offset="0.0189" stop-color="#840000"/><stop offset="0.02041" stop-color="#920000"/><stop offset="0.02419" stop-color="#c00"/><stop offset="0.02571" stop-color="#de0000"/><stop offset="0.02798" stop-color="#f10000"/><stop offset="0.03402" stop-color="#fc0d0d"/><stop offset="0.12929" stop-color="#fc0e0e"/><stop offset="0.18675" stop-color="#fe1515"/><stop offset="0.30546" stop-color="#ff2d2d"/><stop offset="0.72509" stop-color="#ff3838"/><stop offset="1" stop-color="#ff3838"/></linearGradient><linearGradient id="b3" gradientUnits="userSpaceOnUse" x1="316.2" x2="977.5" y1="0" y2="0"><stop offset="0" stop-color="#ffbdbd"/><stop offset="0.00227" stop-color="#f88"/><stop offset="0.00605" stop-color="#fc1313"/><stop offset="0.0068" stop-color="#f30404"/><stop offset="0.00756" stop-color="#e60000"/><stop offset="0.00907" stop-color="#c60000"/><stop offset="0.0121" stop-color="#9c0000"/><stop offset="0.01361" stop-color="#910000"/><stop offset="0.01588" stop-color="#8e0000"/><stop offset="0.01815" stop-color="#9a0000"/><stop offset="0.02419" stop-color="#ec0000"/><stop offset="0.02571" stop-color="#f90a0a"/><stop offset="0.02798" stop-color="#ff2121"/><stop offset="0.031" stop-color="#ff3838"/><stop offset="0.03554" stop-color="#ff4242"/><stop offset="0.12853" stop-color="#ff4242"/><stop offset="0.30546" stop-color="#ff5d5d"/><stop offset="0.68577" stop-color="#ff6565"/><stop offset="1" stop-color="#ff6565"/></linearGradient><linearGradient id="b4" gradientUnits="userSpaceOnUse" x1="316.2" x2="977.5" y1="0" y2="0"><stop offset="0" stop-color="#ffe2e2"/><stop offset="0.00151" stop-color="#ffc6c6"/><stop offset="0.00378" stop-color="#ff9191"/><stop offset="0.00605" stop-color="#ff4d4d"/><stop offset="0.00756" stop-color="#fc1a1a"/><stop offset="0.00832" stop-color="#f60b0b"/><stop offset="0.00983" stop-color="#e40000"/><stop offset="0.01285" stop-color="#c20000"/><stop offset="0.01437" stop-color="#ba0000"/><stop offset="0.01588" stop-color="#b80000"/><stop offset="0.01815" stop-color="#c60000"/><stop offset="0.02117" stop-color="#ea0000"/><stop offset="0.02268" stop-color="#f80c0c"/><stop offset="0.02419" stop-color="#fe2323"/><stop offset="0.02646" stop-color="#ff4d4d"/><stop offset="0.02873" stop-color="#ff6969"/><stop offset="0.03176" stop-color="#ff7878"/><stop offset="0.03478" stop-color="#ff7e7e"/><stop offset="0.14366" stop-color="#ff8080"/><stop offset="0.29109" stop-color="#ff9090"/><stop offset="1" stop-color="#ff9595"/></linearGradient><linearGradient id="b5" gradientUnits="userSpaceOnUse" x1="316.2" x2="977.5" y1="0" y2="0"><stop offset="0" stop-color="#f2eefc"/><stop offset="0.00076" stop-color="#f9f1f7"/><stop offset="0.00151" stop-color="#fcecef"/><stop offset="0.00227" stop-color="#ffe5e5"/><stop offset="0.00302" stop-color="#ffd6d6"/><stop offset="0.00454" stop-color="#ffb5b5"/><stop offset="0.0068" stop-color="#ff7979"/><stop offset="0.00907" stop-color="#ff3232"/><stop offset="0.00983" stop-color="#fd2525"/><stop offset="0.01134" stop-color="#f71111"/><stop offset="0.01361" stop-color="#eb0606"/><stop offset="0.01512" stop-color="#e90303"/><stop offset="0.01739" stop-color="#ed0707"/><stop offset="0.01966" stop-color="#f91616"/><stop offset="0.02117" stop-color="#ff2d2d"/><stop offset="0.02419" stop-color="#ff6d6d"/><stop offset="0.02571" stop-color="#ff8686"/><stop offset="0.02873" stop-color="#ffa9a9"/><stop offset="0.03251" stop-color="#ffb8b8"/><stop offset="0.0378" stop-color="#ffbcbc"/><stop offset="0.15197" stop-color="#ffbcbc"/><stop offset="0.28504" stop-color="#ffc4c4"/><stop offset="1" stop-color="#ffc8c8"/></linearGradient><linearGradient id="b6" gradientUnits="userSpaceOnUse" x1="316.2" x2="977.5" y1="0" y2="0"><stop offset="0" stop-color="#d5d5ff"/><stop offset="0.00227" stop-color="#f0f0fe"/><stop offset="0.00378" stop-color="#fff4f4"/><stop offset="0.00529" stop-color="#ffd8d8"/><stop offset="0.00983" stop-color="#ff7070"/><stop offset="0.01285" stop-color="#ff4141"/><stop offset="0.01512" stop-color="#ff3232"/><stop offset="0.01663" stop-color="#ff3838"/><stop offset="0.01815" stop-color="#ff4848"/><stop offset="0.02041" stop-color="#ff6a6a"/><stop offset="0.02419" stop-color="#ffadad"/><stop offset="0.02571" stop-color="#ffc2c2"/><stop offset="0.02722" stop-color="#ffd1d1"/><stop offset="0.02873" stop-color="#fdd"/><stop offset="0.031" stop-color="#ffe6e6"/><stop offset="0.0378" stop-color="#ffeded"/><stop offset="1" stop-color="#fff0f0"/></linearGradient><linearGradient id="b7" gradientUnits="userSpaceOnUse" x1="316.2" x2="977.5" y1="0" y2="0"><stop offset="0" stop-color="#d1d1ff"/><stop offset="0.00378" stop-color="#fefdfe"/><stop offset="0.00529" stop-color="#ffe8e8"/><stop offset="0.00907" stop-color="#ff9e9e"/><stop offset="0.01059" stop-color="#ff8989"/><stop offset="0.01285" stop-color="#ff7070"/><stop offset="0.01512" stop-color="#ff6565"/><stop offset="0.01739" stop-color="#ff6d6d"/><stop offset="0.02041" stop-color="#ff9090"/><stop offset="0.02495" stop-color="#ffcdcd"/><stop offset="0.02646" stop-color="#ffdada"/><stop offset="0.02873" stop-color="#ffe9e9"/><stop offset="0.03402" stop-color="#fff4f4"/><stop offset="1" stop-color="#fff1f1"/></linearGradient><linearGradient id="b8" gradientUnits="userSpaceOnUse" x1="316.2" x2="977.5" y1="0" y2="0"><stop offset="0" stop-color="#d4d4ff"/><stop offset="0.00378" stop-color="#fcfcff"/><stop offset="0.00454" stop-color="#fff8f8"/><stop offset="0.00907" stop-color="#ffb1b1"/><stop offset="0.01059" stop-color="#ffa1a1"/><stop offset="0.0121" stop-color="#ff9494"/><stop offset="0.01512" stop-color="#f88"/><stop offset="0.01663" stop-color="#ff8989"/><stop offset="0.01815" stop-color="#ff9292"/><stop offset="0.02344" stop-color="#ffc6c6"/><stop offset="0.02646" stop-color="#ffdede"/><stop offset="0.03024" stop-color="#ffeded"/><stop offset="0.03402" stop-color="#fff1f1"/><stop offset="1" stop-color="#ffecec"/></linearGradient><linearGradient id="b9" gradientUnits="userSpaceOnUse" x1="316.2" x2="977.5" y1="0" y2="0"><stop offset="0" stop-color="#d6d6ff"/><stop offset="0.00378" stop-color="#f9f9ff"/><stop offset="0.00454" stop-color="#fffcfc"/><stop offset="0.00907" stop-color="#ffc1c1"/><stop offset="0.01361" stop-color="#ffa5a5"/><stop offset="0.01512" stop-color="#ffa4a4"/><stop offset="0.01663" stop-color="#ffa5a5"/><stop offset="0.0189" stop-color="#ffb0b0"/><stop offset="0.02344" stop-color="#ffd1d1"/><stop offset="0.02646" stop-color="#ffe1e1"/><stop offset="0.02873" stop-color="#ffe9e9"/><stop offset="0.03402" stop-color="#fee"/><stop offset="0.15424" stop-color="#fee"/><stop offset="0.27748" stop-color="#ffe8e8"/><stop offset="1" stop-color="#ffe5e5"/></linearGradient><linearGradient id="b10" gradientUnits="userSpaceOnUse" x1="316.2" x2="977.5" y1="0" y2="0"><stop offset="0" stop-color="#dadaff"/><stop offset="0.00378" stop-color="#fafaff"/><stop offset="0.00454" stop-color="#fffdfd"/><stop offset="0.00907" stop-color="#ffcdcd"/><stop offset="0.01437" stop-color="#ffb9b9"/><stop offset="0.01815" stop-color="#ffbdbd"/><stop offset="0.02344" stop-color="#ffd8d8"/><stop offset="0.02873" stop-color="#ffe8e8"/><stop offset="0.03402" stop-color="#ffecec"/><stop offset="0.13534" stop-color="#ffecec"/><stop offset="0.28958" stop-color="#ffe2e2"/><stop offset="1" stop-color="#ffe0e0"/></linearGradient><linearGradient id="b11" gradientUnits="userSpaceOnUse" x1="316.2" x2="977.5" y1="0" y2="0"><stop offset="0" stop-color="#e5e5ff"/><stop offset="0.00378" stop-color="#fefcfc"/><stop offset="0.00907" stop-color="#ffcece"/><stop offset="0.01437" stop-color="#ffc1c1"/><stop offset="0.0189" stop-color="#ffc5c5"/><stop offset="0.02344" stop-color="#ffd5d5"/><stop offset="0.02798" stop-color="#ffdede"/><stop offset="0.03402" stop-color="#ffe2e2"/><stop offset="0.20944" stop-color="#ffe1e1"/><stop offset="0.23514" stop-color="#fdd"/><stop offset="1" stop-color="#ffdada"/></linearGradient><linearGradient id="b12" gradientUnits="userSpaceOnUse" x1="316.2" x2="977.5" y1="0" y2="0"><stop offset="0" stop-color="#f2f2ff"/><stop offset="0.00227" stop-color="#fefafb"/><stop offset="0.00907" stop-color="#ffc9c9"/><stop offset="0.01437" stop-color="#ffc1c1"/><stop offset="0.0189" stop-color="#ffc4c4"/><stop offset="0.02722" stop-color="#ffd2d2"/><stop offset="0.03402" stop-color="#ffd5d5"/><stop offset="1" stop-color="#ffd6d6"/></linearGradient><linearGradient id="b13" gradientUnits="userSpaceOnUse" x1="316.2" x2="977.5" y1="0" y2="0"><stop offset="0" stop-color="#fdf9fb"/><stop offset="0.00151" stop-color="#fff4f4"/><stop offset="0.00832" stop-color="#ffc5c5"/><stop offset="0.01134" stop-color="#ffbdbd"/><stop offset="0.01966" stop-color="#ffbdbd"/><stop offset="0.02041" stop-color="#ffc1c1"/><stop offset="0.03024" stop-color="#ffc8c8"/><stop offset="0.14441" stop-color="#ffc8c8"/><stop offset="0.29865" stop-color="#ffd4d4"/><stop offset="1" stop-color="#ffd1d1"/></linearGradient><linearGradient id="b14" gradientUnits="userSpaceOnUse" x1="316.2" x2="977.5" y1="0" y2="0"><stop offset="0" stop-color="#fee"/><stop offset="0.00832" stop-color="#ffbaba"/><stop offset="0.01059" stop-color="#ffb5b5"/><stop offset="0.01966" stop-color="#ffb5b5"/><stop offset="0.02571" stop-color="#ffbaba"/><stop offset="0.14668" stop-color="#ffbcbc"/><stop offset="0.29714" stop-color="#ffcece"/><stop offset="1" stop-color="#fcc"/></linearGradient><linearGradient id="b15" gradientUnits="userSpaceOnUse" x1="316.2" x2="977.5" y1="0" y2="0"><stop offset="0" stop-color="#ffe5e5"/><stop offset="0.00907" stop-color="#ffb2b2"/><stop offset="0.13307" stop-color="#ffb5b5"/><stop offset="0.26463" stop-color="#ffc5c5"/><stop offset="0.27068" stop-color="#ffc9c9"/><stop offset="0.29639" stop-color="#ffc9c9"/><stop offset="0.30092" stop-color="#ffcdcd"/><stop offset="1" stop-color="#ffc9c9"/></linearGradient><linearGradient id="b16" gradientUnits="userSpaceOnUse" x1="316.2" x2="977.5" y1="0" y2="0"><stop offset="0" stop-color="#ffe1e1"/><stop offset="0.00907" stop-color="#ffb8b8"/><stop offset="0.01285" stop-color="#ffb6b6"/><stop offset="0.12702" stop-color="#ffb8b8"/><stop offset="0.2979" stop-color="#ffcdcd"/><stop offset="1" stop-color="#ffc9c9"/></linearGradient><linearGradient id="b17" gradientUnits="userSpaceOnUse" x1="316.2" x2="977.5" y1="0" y2="0"><stop offset="0" stop-color="#ffdede"/><stop offset="0.00907" stop-color="#ffbdbd"/><stop offset="0.12702" stop-color="#ffbdbd"/><stop offset="0.28958" stop-color="#ffcdcd"/><stop offset="1" stop-color="#ffc9c9"/></linearGradient><linearGradient id="b18" gradientUnits="userSpaceOnUse" x1="316.2" x2="977.5" y1="0" y2="0"><stop offset="0" stop-color="#ffdcdc"/><stop offset="0.00907" stop-color="#ffc2c2"/><stop offset="0.14139" stop-color="#ffc2c2"/><stop offset="0.27597" stop-color="#ffcdcd"/><stop offset="1" stop-color="#ffc9c9"/></linearGradient><linearGradient id="b19" gradientUnits="userSpaceOnUse" x1="316.2" x2="977.5" y1="0" y2="0"><stop offset="0" stop-color="#ffdada"/><stop offset="0.00907" stop-color="#ffcaca"/><stop offset="0.25102" stop-color="#ffd0d0"/><stop offset="1" stop-color="#fcc"/></linearGradient><linearGradient id="b20" gradientUnits="userSpaceOnUse" x1="316.2" x2="977.5" y1="0" y2="0"><stop offset="0" stop-color="#ffe4e4"/><stop offset="0.61772" stop-color="#fdd"/><stop offset="0.65175" stop-color="#ffd9d9"/><stop offset="1" stop-color="#ffd9d9"/></linearGradient><linearGradient id="b21" gradientUnits="userSpaceOnUse" x1="316.2" x2="977.5" y1="0" y2="0"><stop offset="0" stop-color="#fff0f0"/><stop offset="0.00302" stop-color="#fff5f5"/><stop offset="0.00756" stop-color="#fdf5f7"/><stop offset="0.16105" stop-color="#fef6f7"/><stop offset="0.2669" stop-color="#fff1f1"/><stop offset="0.39316" stop-color="#fff1f1"/><stop offset="0.41509" stop-color="#ffeded"/><stop offset="0.59731" stop-color="#ffeded"/><stop offset="0.61848" stop-color="#ffe9e9"/><stop offset="1" stop-color="#ffe8e8"/></linearGradient><linearGradient id="b22" gradientUnits="userSpaceOnUse" x1="316.2" x2="977.5" y1="0" y2="0"><stop offset="0" stop-color="#fefafb"/><stop offset="0.00378" stop-color="#f8f8fe"/><stop offset="0.00832" stop-color="#ededff"/><stop offset="0.15122" stop-color="#ededff"/><stop offset="0.15651" stop-color="#f1f1ff"/><stop offset="0.28807" stop-color="#fbf9fd"/><stop offset="0.58975" stop-color="#fefafb"/><stop offset="0.78104" stop-color="#fff5f5"/><stop offset="1" stop-color="#fff5f5"/></linearGradient><linearGradient id="b23" gradientUnits="userSpaceOnUse" x1="316.2" x2="977.5" y1="0" y2="0"><stop offset="0" stop-color="#f8f8ff"/><stop offset="0.00832" stop-color="#d8d8ff"/><stop offset="0.14063" stop-color="#d8d8ff"/><stop offset="0.3047" stop-color="#f0f0ff"/><stop offset="0.77801" stop-color="#fbfafe"/><stop offset="1" stop-color="#fbfafe"/></linearGradient><linearGradient id="b24" gradientUnits="userSpaceOnUse" x1="316.2" x2="977.5" y1="0" y2="0"><stop offset="0" stop-color="#faf9fe"/><stop offset="0.00907" stop-color="#dedeff"/><stop offset="0.12778" stop-color="#dedeff"/><stop offset="0.3047" stop-color="#f5f5ff"/><stop offset="1" stop-color="#fdf9fb"/></linearGradient><linearGradient id="b25" gradientUnits="userSpaceOnUse" x1="316.2" x2="977.5" y1="0" y2="0"><stop offset="0" stop-color="#fff8f8"/><stop offset="0.00378" stop-color="#fdf9fb"/><stop offset="0.00907" stop-color="#f7f4fc"/><stop offset="0.01588" stop-color="#f7f4fc"/><stop offset="0.17088" stop-color="#faf6fc"/><stop offset="0.30773" stop-color="#fff5f5"/><stop offset="1" stop-color="#ffeded"/></linearGradient><linearGradient id="b26" gradientUnits="userSpaceOnUse" x1="316.2" x2="977.5" y1="0" y2="0"><stop offset="0" stop-color="#ffecec"/><stop offset="0.00832" stop-color="#ffe8e8"/><stop offset="0.2669" stop-color="#ffe2e2"/><stop offset="1" stop-color="#fdd"/></linearGradient><linearGradient id="b27" gradientUnits="userSpaceOnUse" x1="316.2" x2="977.5" y1="0" y2="0"><stop offset="0" stop-color="#ffe0e0"/><stop offset="0.00907" stop-color="#fcc"/><stop offset="1" stop-color="#ffcdcd"/></linearGradient><linearGradient id="b28" gradientUnits="userSpaceOnUse" x1="316.2" x2="977.5" y1="0" y2="0"><stop offset="0" stop-color="#ffdede"/><stop offset="0.00907" stop-color="#ffd0d0"/><stop offset="1" stop-color="#ffd0d0"/></linearGradient><linearGradient id="b29" gradientUnits="userSpaceOnUse" x1="316.2" x2="977.5" y1="0" y2="0"><stop offset="0" stop-color="#ffeded"/><stop offset="0.00302" stop-color="#fef2f3"/><stop offset="0.00907" stop-color="#f4ecf6"/><stop offset="0.01588" stop-color="#f4ecf6"/><stop offset="0.13005" stop-color="#f4ecf6"/><stop offset="0.28958" stop-color="#fef0f0"/><stop offset="1" stop-color="#ffecec"/></linearGradient><linearGradient id="b30" gradientUnits="userSpaceOnUse" x1="316.2" x2="977.5" y1="0" y2="0"><stop offset="0" stop-color="#fefafb"/><stop offset="0.00227" stop-color="#f4f4fe"/><stop offset="0.00907" stop-color="#c8c8ff"/><stop offset="0.13005" stop-color="#c8c8ff"/><stop offset="0.30395" stop-color="#ededff"/><stop offset="1" stop-color="#f3f1fd"/></linearGradient><linearGradient id="b31" gradientUnits="userSpaceOnUse" x1="316.2" x2="977.5" y1="0" y2="0"><stop offset="0" stop-color="#f5f5ff"/><stop offset="0.00378" stop-color="#c9c9ff"/><stop offset="0.00907" stop-color="#9494ff"/><stop offset="0.1308" stop-color="#9494ff"/><stop offset="0.30773" stop-color="#ccf"/><stop offset="0.6956" stop-color="#d1d1ff"/><stop offset="0.72206" stop-color="#d5d5ff"/><stop offset="1" stop-color="#d5d5ff"/></linearGradient><linearGradient id="b32" gradientUnits="userSpaceOnUse" x1="316.2" x2="977.5" y1="0" y2="0"><stop offset="0" stop-color="#eaeaff"/><stop offset="0.00605" stop-color="#9595ff"/><stop offset="0.00907" stop-color="#7070ff"/><stop offset="0.1308" stop-color="#7070ff"/><stop offset="0.13232" stop-color="#7474ff"/><stop offset="0.14063" stop-color="#7474ff"/><stop offset="0.1429" stop-color="#7878ff"/><stop offset="0.30848" stop-color="#b4b4ff"/><stop offset="0.80296" stop-color="#c1c1ff"/><stop offset="1" stop-color="#c1c1ff"/></linearGradient><linearGradient id="b33" gradientUnits="userSpaceOnUse" x1="316.2" x2="977.5" y1="0" y2="0"><stop offset="0" stop-color="#f2f2ff"/><stop offset="0.00832" stop-color="#8e8eff"/><stop offset="0.00907" stop-color="#8989ff"/><stop offset="0.1308" stop-color="#8989ff"/><stop offset="0.13232" stop-color="#8d8dff"/><stop offset="0.20868" stop-color="#a1a1ff"/><stop offset="0.20944" stop-color="#a5a5ff"/><stop offset="0.22002" stop-color="#a5a5ff"/><stop offset="0.30168" stop-color="#c1c1ff"/><stop offset="0.71828" stop-color="#cdcdff"/><stop offset="1" stop-color="#ceceff"/></linearGradient><linearGradient id="b34" gradientUnits="userSpaceOnUse" x1="316.2" x2="977.5" y1="0" y2="0"><stop offset="0" stop-color="#fcfafd"/><stop offset="0.00907" stop-color="#b1b1ff"/><stop offset="0.13156" stop-color="#b1b1ff"/><stop offset="0.13458" stop-color="#b5b5ff"/><stop offset="0.20717" stop-color="#c1c1ff"/><stop offset="0.20944" stop-color="#c5c5ff"/><stop offset="0.30697" stop-color="#d9d9ff"/><stop offset="0.44382" stop-color="#d9d9ff"/><stop offset="0.77121" stop-color="#e5e5ff"/><stop offset="1" stop-color="#e5e5ff"/></linearGradient><linearGradient id="b35" gradientUnits="userSpaceOnUse" x1="316.2" x2="977.5" y1="0" y2="0"><stop offset="0" stop-color="#fff4f4"/><stop offset="0.00227" stop-color="#fbf9fd"/><stop offset="0.00907" stop-color="#d9d9ff"/><stop offset="0.13383" stop-color="#d9d9ff"/><stop offset="0.30697" stop-color="#eef"/><stop offset="0.79692" stop-color="#faf8fd"/><stop offset="1" stop-color="#faf8fd"/></linearGradient><linearGradient id="b36" gradientUnits="userSpaceOnUse" x1="316.2" x2="977.5" y1="0" y2="0"><stop offset="0" stop-color="#ffe9e9"/><stop offset="0.00378" stop-color="#fff2f2"/><stop offset="0.00907" stop-color="#f9f2f8"/><stop offset="0.16861" stop-color="#faf5fa"/><stop offset="0.43777" stop-color="#fef8f8"/><stop offset="0.68577" stop-color="#fff2f2"/><stop offset="0.71299" stop-color="#fee"/><stop offset="1" stop-color="#fee"/></linearGradient><linearGradient id="b37" gradientUnits="userSpaceOnUse" x1="316.2" x2="977.5" y1="0" y2="0"><stop offset="0" stop-color="#ffe2e2"/><stop offset="0.00907" stop-color="#ffecec"/><stop offset="0.39316" stop-color="#fee"/><stop offset="0.74626" stop-color="#ffe1e1"/><stop offset="1" stop-color="#ffe1e1"/></linearGradient><linearGradient id="b38" gradientUnits="userSpaceOnUse" x1="316.2" x2="977.5" y1="0" y2="0"><stop offset="0" stop-color="#ffdede"/><stop offset="0.00832" stop-color="#ffe5e5"/><stop offset="0.39316" stop-color="#ffe9e9"/><stop offset="0.7765" stop-color="#ffd9d9"/><stop offset="1" stop-color="#ffd9d9"/></linearGradient><linearGradient id="b39" gradientUnits="userSpaceOnUse" x1="316.2" x2="977.5" y1="0" y2="0"><stop offset="0" stop-color="#ffd9d9"/><stop offset="0.00605" stop-color="#fdd"/><stop offset="0.38938" stop-color="#ffe4e4"/><stop offset="0.8007" stop-color="#ffd1d1"/><stop offset="1" stop-color="#ffd1d1"/></linearGradient><linearGradient id="b40" gradientUnits="userSpaceOnUse" x1="316.2" x2="977.5" y1="0" y2="0"><stop offset="0" stop-color="#ffd4d4"/><stop offset="0.00756" stop-color="#ffd8d8"/><stop offset="0.38712" stop-color="#ffdede"/><stop offset="0.73492" stop-color="#ffcdcd"/><stop offset="1" stop-color="#fcc"/></linearGradient><linearGradient id="b41" gradientUnits="userSpaceOnUse" x1="316.2" x2="977.5" y1="0" y2="0"><stop offset="0" stop-color="#ffd4d4"/><stop offset="0.0068" stop-color="#ffd9d9"/><stop offset="0.36973" stop-color="#ffe1e1"/><stop offset="0.74021" stop-color="#ffcece"/><stop offset="1" stop-color="#ffcece"/></linearGradient><linearGradient id="b42" gradientUnits="userSpaceOnUse" x1="316.2" x2="977.5" y1="0" y2="0"><stop offset="0" stop-color="#ffd9d9"/><stop offset="0.00907" stop-color="#ffe5e5"/><stop offset="0.30773" stop-color="#ffeaea"/><stop offset="0.80372" stop-color="#ffdada"/><stop offset="1" stop-color="#ffdada"/></linearGradient><linearGradient id="b43" gradientUnits="userSpaceOnUse" x1="316.2" x2="977.5" y1="0" y2="0"><stop offset="0" stop-color="#ffdede"/><stop offset="0.00907" stop-color="#fff2f2"/><stop offset="0.36897" stop-color="#fff5f5"/><stop offset="0.78255" stop-color="#ffe9e9"/><stop offset="1" stop-color="#ffe9e9"/></linearGradient><linearGradient id="b44" gradientUnits="userSpaceOnUse" x1="316.2" x2="977.5" y1="0" y2="0"><stop offset="0" stop-color="#ffe5e5"/><stop offset="0.00605" stop-color="#fff8f8"/><stop offset="0.00907" stop-color="#fcfafd"/><stop offset="1" stop-color="#fef8f8"/></linearGradient><linearGradient id="b45" gradientUnits="userSpaceOnUse" x1="316.2" x2="977.5" y1="0" y2="0"><stop offset="0" stop-color="#ffeaea"/><stop offset="0.00454" stop-color="#fffcfc"/><stop offset="0.0068" stop-color="#fafaff"/><stop offset="0.00907" stop-color="#f5f5ff"/><stop offset="1" stop-color="#fafaff"/></linearGradient><linearGradient id="b46" gradientUnits="userSpaceOnUse" x1="316.2" x2="977.5" y1="0" y2="0"><stop offset="0" stop-color="#ffeded"/><stop offset="0.00605" stop-color="#fdfdff"/><stop offset="0.00907" stop-color="#f5f5ff"/><stop offset="1" stop-color="#f9f9ff"/></linearGradient><linearGradient id="b47" gradientUnits="userSpaceOnUse" x1="316.2" x2="977.5" y1="0" y2="0"><stop offset="0" stop-color="#fee"/><stop offset="0.00529" stop-color="#fffdfd"/><stop offset="0.0068" stop-color="#fdfdff"/><stop offset="0.00907" stop-color="#f8f8ff"/><stop offset="1" stop-color="#fafaff"/></linearGradient><linearGradient id="b48" gradientUnits="userSpaceOnUse" x1="316.2" x2="977.5" y1="0" y2="0"><stop offset="0" stop-color="#fff1f1"/><stop offset="0.00756" stop-color="#fdfdff"/><stop offset="1" stop-color="#fdfdff"/></linearGradient><linearGradient id="b49" gradientUnits="userSpaceOnUse" x1="316.2" x2="977.5" y1="0" y2="0"><stop offset="0" stop-color="#fff2f2"/><stop offset="0.00832" stop-color="#fdfdff"/><stop offset="1" stop-color="#fdfdff"/></linearGradient><linearGradient id="b50" gradientUnits="userSpaceOnUse" x1="316.2" x2="977.5" y1="0" y2="0"><stop offset="0" stop-color="#fff8f8"/><stop offset="0.00832" stop-color="#fcfcff"/><stop offset="1" stop-color="#fdfdff"/></linearGradient><linearGradient id="b51" gradientUnits="userSpaceOnUse" x1="316.2" x2="977.5" y1="0" y2="0"><stop offset="0" stop-color="#fefcfc"/><stop offset="0.00832" stop-color="#f8f8ff"/><stop offset="1" stop-color="#fafaff"/></linearGradient><linearGradient id="b52" gradientUnits="userSpaceOnUse" x1="316.2" x2="977.5" y1="0" y2="0"><stop offset="0" stop-color="#f9f9ff"/><stop offset="0.00756" stop-color="#f4f4ff"/><stop offset="1" stop-color="#f6f6ff"/></linearGradient><linearGradient id="b53" gradientUnits="userSpaceOnUse" x1="316.2" x2="977.5" y1="0" y2="0"><stop offset="0" stop-color="#f1f1ff"/><stop offset="1" stop-color="#f4f4ff"/></linearGradient><linearGradient id="b54" gradientUnits="userSpaceOnUse" x1="316.2" x2="977.5" y1="0" y2="0"><stop offset="0" stop-color="#eef"/><stop offset="1" stop-color="#f4f4ff"/></linearGradient><linearGradient id="b55" gradientUnits="userSpaceOnUse" x1="316.2" x2="977.5" y1="0" y2="0"><stop offset="0" stop-color="#f2f2ff"/><stop offset="1" stop-color="#f5f5ff"/></linearGradient><linearGradient id="b56" gradientUnits="userSpaceOnUse" x1="316.2" x2="977.5" y1="0" y2="0"><stop offset="0" stop-color="#f6f6ff"/><stop offset="1" stop-color="#f8f8ff"/></linearGradient><linearGradient id="b57" gradientUnits="userSpaceOnUse" x1="316.2" x2="977.5" y1="0" y2="0"><stop offset="0" stop-color="#f9f9ff"/><stop offset="1" stop-color="#fafaff"/></linearGradient><linearGradient id="b58" gradientUnits="userSpaceOnUse" x1="316.2" x2="977.5" y1="0" y2="0"><stop offset="0" stop-color="#fafaff"/><stop offset="1" stop-color="#fcfcff"/></linearGradient><linearGradient id="b60" gradientUnits="userSpaceOnUse" x1="316.2" x2="977.5" y1="0" y2="0"><stop offset="0" stop-color="#f2f2ff"/><stop offset="1" stop-color="#f5f5ff"/></linearGradient><linearGradient id="b61" gradientUnits="userSpaceOnUse" x1="316.2" x2="977.5" y1="0" y2="0"><stop offset="0" stop-color="#eef"/><stop offset="1" stop-color="#f2f2ff"/></linearGradient><linearGradient id="b62" gradientUnits="userSpaceOnUse" x1="316.2" x2="977.5" y1="0" y2="0"><stop offset="0" stop-color="#eaeaff"/><stop offset="1" stop-color="#eef"/></linearGradient><linearGradient id="b63" gradientUnits="userSpaceOnUse" x1="316.2" x2="977.5" y1="0" y2="0"><stop offset="0" stop-color="#eaeaff"/><stop offset="1" stop-color="#eef"/></linearGradient><linearGradient id="b64" gradientUnits="userSpaceOnUse" x1="316.2" x2="977.5" y1="0" y2="0"><stop offset="0" stop-color="#ededff"/><stop offset="1" stop-color="#f1f1ff"/></linearGradient><linearGradient id="b65" gradientUnits="userSpaceOnUse" x1="316.2" x2="977.5" y1="0" y2="0"><stop offset="0" stop-color="#f0f0ff"/><stop offset="1" stop-color="#f1f1ff"/></linearGradient><linearGradient id="b66" gradientUnits="userSpaceOnUse" x1="316.2" x2="977.5" y1="0" y2="0"><stop offset="0" stop-color="#f2f2ff"/><stop offset="1" stop-color="#f4f4ff"/></linearGradient></defs><g shape-rendering="crispEdges"><rect x="316.2" y="273.08" width="661.3" height="1.35" fill="url(#b0)"/><rect x="316.2" y="274.08" width="661.3" height="1.35" fill="url(#b1)"/><rect x="316.2" y="275.08" width="661.3" height="1.35" fill="url(#b2)"/><rect x="316.2" y="276.08" width="661.3" height="1.35" fill="url(#b3)"/><rect x="316.2" y="277.08" width="661.3" height="1.35" fill="url(#b4)"/><rect x="316.2" y="278.08" width="661.3" height="1.35" fill="url(#b5)"/><rect x="316.2" y="279.08" width="661.3" height="1.35" fill="url(#b6)"/><rect x="316.2" y="280.08" width="661.3" height="1.35" fill="url(#b7)"/><rect x="316.2" y="281.08" width="661.3" height="1.35" fill="url(#b8)"/><rect x="316.2" y="282.08" width="661.3" height="1.35" fill="url(#b9)"/><rect x="316.2" y="283.08" width="661.3" height="1.35" fill="url(#b10)"/><rect x="316.2" y="284.08" width="661.3" height="1.35" fill="url(#b11)"/><rect x="316.2" y="285.08" width="661.3" height="1.35" fill="url(#b12)"/><rect x="316.2" y="286.08" width="661.3" height="1.35" fill="url(#b13)"/><rect x="316.2" y="287.08" width="661.3" height="1.35" fill="url(#b14)"/><rect x="316.2" y="288.08" width="661.3" height="1.35" fill="url(#b15)"/><rect x="316.2" y="289.08" width="661.3" height="1.35" fill="url(#b16)"/><rect x="316.2" y="290.08" width="661.3" height="1.35" fill="url(#b17)"/><rect x="316.2" y="291.08" width="661.3" height="1.35" fill="url(#b18)"/><rect x="316.2" y="292.08" width="661.3" height="1.35" fill="url(#b19)"/><rect x="316.2" y="293.08" width="661.3" height="1.35" fill="url(#b20)"/><rect x="316.2" y="294.08" width="661.3" height="1.35" fill="url(#b21)"/><rect x="316.2" y="295.08" width="661.3" height="1.35" fill="url(#b22)"/><rect x="316.2" y="296.08" width="661.3" height="1.35" fill="url(#b23)"/><rect x="316.2" y="297.08" width="661.3" height="1.35" fill="url(#b24)"/><rect x="316.2" y="298.08" width="661.3" height="1.35" fill="url(#b25)"/><rect x="316.2" y="299.08" width="661.3" height="1.35" fill="url(#b26)"/><rect x="316.2" y="300.08" width="661.3" height="1.35" fill="url(#b27)"/><rect x="316.2" y="301.08" width="661.3" height="1.35" fill="url(#b28)"/><rect x="316.2" y="302.08" width="661.3" height="1.35" fill="url(#b29)"/><rect x="316.2" y="303.08" width="661.3" height="1.35" fill="url(#b30)"/><rect x="316.2" y="304.08" width="661.3" height="1.35" fill="url(#b31)"/><rect x="316.2" y="305.08" width="661.3" height="1.35" fill="url(#b32)"/><rect x="316.2" y="306.08" width="661.3" height="1.35" fill="url(#b33)"/><rect x="316.2" y="307.08" width="661.3" height="1.35" fill="url(#b34)"/><rect x="316.2" y="308.08" width="661.3" height="1.35" fill="url(#b35)"/><rect x="316.2" y="309.08" width="661.3" height="1.35" fill="url(#b36)"/><rect x="316.2" y="310.08" width="661.3" height="1.35" fill="url(#b37)"/><rect x="316.2" y="311.08" width="661.3" height="1.35" fill="url(#b38)"/><rect x="316.2" y="312.08" width="661.3" height="1.35" fill="url(#b39)"/><rect x="316.2" y="313.08" width="661.3" height="1.35" fill="url(#b40)"/><rect x="316.2" y="314.08" width="661.3" height="1.35" fill="url(#b41)"/><rect x="316.2" y="315.08" width="661.3" height="1.35" fill="url(#b42)"/><rect x="316.2" y="316.08" width="661.3" height="1.35" fill="url(#b43)"/><rect x="316.2" y="317.08" width="661.3" height="1.35" fill="url(#b44)"/><rect x="316.2" y="318.08" width="661.3" height="1.35" fill="url(#b45)"/><rect x="316.2" y="319.08" width="661.3" height="1.35" fill="url(#b46)"/><rect x="316.2" y="320.08" width="661.3" height="1.35" fill="url(#b47)"/><rect x="316.2" y="321.08" width="661.3" height="1.35" fill="url(#b48)"/><rect x="316.2" y="322.08" width="661.3" height="1.35" fill="url(#b49)"/><rect x="316.2" y="323.08" width="661.3" height="1.35" fill="url(#b50)"/><rect x="316.2" y="324.08" width="661.3" height="1.35" fill="url(#b51)"/><rect x="316.2" y="325.08" width="661.3" height="1.35" fill="url(#b52)"/><rect x="316.2" y="326.08" width="661.3" height="1.35" fill="url(#b53)"/><rect x="316.2" y="327.08" width="661.3" height="1.35" fill="url(#b54)"/><rect x="316.2" y="328.08" width="661.3" height="1.35" fill="url(#b55)"/><rect x="316.2" y="329.08" width="661.3" height="1.35" fill="url(#b56)"/><rect x="316.2" y="330.08" width="661.3" height="1.35" fill="url(#b57)"/><rect x="316.2" y="331.08" width="661.3" height="1.35" fill="url(#b58)"/><rect x="316.2" y="332.08" width="661.3" height="1.35" fill="#f8f8ff"/><rect x="316.2" y="333.08" width="661.3" height="1.35" fill="url(#b60)"/><rect x="316.2" y="334.08" width="661.3" height="1.35" fill="url(#b61)"/><rect x="316.2" y="335.08" width="661.3" height="1.35" fill="url(#b62)"/><rect x="316.2" y="336.08" width="661.3" height="1.35" fill="url(#b63)"/><rect x="316.2" y="337.08" width="661.3" height="1.35" fill="url(#b64)"/><rect x="316.2" y="338.08" width="661.3" height="1.35" fill="url(#b65)"/><rect x="316.2" y="339.08" width="661.3" height="1.35" fill="url(#b66)"/><rect x="316.2" y="340.08" width="661.3" height="1.35" fill="#f1f1ff"/><rect x="316.2" y="341.08" width="661.3" height="1.35" fill="#e9e9ff"/><rect x="316.2" y="342.08" width="661.3" height="1.35" fill="#e1e1ff"/><rect x="316.2" y="343.08" width="661.3" height="1.35" fill="#d9d9ff"/><rect x="316.2" y="344.08" width="661.3" height="1.35" fill="#d2d2ff"/><rect x="316.2" y="345.08" width="661.3" height="1.35" fill="#d2d2ff"/><rect x="316.2" y="346.08" width="661.3" height="1.85" fill="#d5d5ff"/><rect x="316.2" y="347.58" width="661.3" height="1.35" fill="#d8d8ff"/><rect x="316.2" y="348.58" width="661.3" height="1.35" fill="#d9d9ff"/><rect x="316.2" y="349.58" width="661.3" height="1.35" fill="#dcdcff"/><rect x="316.2" y="350.58" width="661.3" height="1.35" fill="#e0e0ff"/><rect x="316.2" y="351.58" width="661.3" height="1.35" fill="#e2e2ff"/><rect x="316.2" y="352.58" width="661.3" height="3.35" fill="#e5e5ff"/><rect x="316.2" y="355.58" width="661.3" height="1.35" fill="#e2e2ff"/><rect x="316.2" y="356.58" width="661.3" height="8.35" fill="#e1e1ff"/><rect x="316.2" y="364.58" width="661.3" height="8.35" fill="#e1e1ff"/><rect x="316.2" y="372.58" width="661.3" height="8.35" fill="#e1e1ff"/><rect x="316.2" y="380.58" width="661.3" height="1.35" fill="#e1e1ff"/><rect x="316.2" y="381.58" width="661.3" height="1.35" fill="#e4e4ff"/><rect x="316.2" y="382.58" width="661.3" height="2.85" fill="#e5e5ff"/><rect x="316.2" y="385.08" width="661.3" height="1.35" fill="#e2e2ff"/><rect x="316.2" y="386.08" width="661.3" height="4.35" fill="#e1e1ff"/><rect x="316.2" y="390.08" width="661.3" height="1.35" fill="#e4e4ff"/><rect x="316.2" y="391.08" width="661.3" height="4.85" fill="#e5e5ff"/><rect x="316.2" y="395.58" width="661.3" height="1.35" fill="#e2e2ff"/><rect x="316.2" y="396.58" width="661.3" height="1.35" fill="#e4e4ff"/><rect x="316.2" y="397.58" width="661.3" height="8.35" fill="#e5e5ff"/><rect x="316.2" y="405.58" width="661.3" height="1.35" fill="#e5e5ff"/><rect x="316.2" y="406.58" width="661.3" height="1.35" fill="#e8e8ff"/><rect x="316.2" y="407.58" width="661.3" height="3.85" fill="#e9e9ff"/><rect x="316.2" y="411.08" width="661.3" height="1.35" fill="#ececff"/><rect x="316.2" y="412.08" width="661.3" height="4.85" fill="#ededff"/><rect x="316.2" y="416.58" width="661.3" height="1.35" fill="#f0f0ff"/><rect x="316.2" y="417.58" width="661.3" height="8.35" fill="#f1f1ff"/><rect x="316.2" y="425.58" width="661.3" height="2.85" fill="#f1f1ff"/><rect x="316.2" y="428.08" width="661.3" height="1.35" fill="#f4f4ff"/><rect x="316.2" y="429.08" width="661.3" height="5.85" fill="#f5f5ff"/><rect x="316.2" y="434.58" width="661.3" height="1.35" fill="#f8f8ff"/><rect x="316.2" y="435.58" width="661.3" height="8.35" fill="#f9f9ff"/><rect x="316.2" y="443.58" width="661.3" height="8.35" fill="#f9f9ff"/><rect x="316.2" y="451.58" width="661.3" height="2.35" fill="#f9f9ff"/><rect x="316.2" y="453.58" width="661.3" height="1.35" fill="#fcfcff"/><rect x="316.2" y="454.58" width="661.3" height="8.35" fill="#fdfdff"/><rect x="316.2" y="462.58" width="661.3" height="8.35" fill="#fdfdff"/><rect x="316.2" y="470.58" width="661.3" height="8.35" fill="#fdfdff"/><rect x="316.2" y="478.58" width="661.3" height="2.35" fill="#fdfdff"/></g><g shape-rendering="crispEdges"><defs><linearGradient id="g1" gradientUnits="userSpaceOnUse" x1="0" x2="0" y1="273.08" y2="480.92"><stop offset="0" stop-color="#e9e9ff"/><stop offset="0.0144" stop-color="#e9e9ff"/><stop offset="0.0168" stop-color="#ededff"/><stop offset="0.0241" stop-color="#ededff"/><stop offset="0.0265" stop-color="#f1f1ff"/><stop offset="0.0313" stop-color="#f1f1ff"/><stop offset="0.0337" stop-color="#f5f5ff"/><stop offset="0.0433" stop-color="#f5f5ff"/><stop offset="0.0457" stop-color="#f9f9ff"/><stop offset="0.0553" stop-color="#f9f9ff"/><stop offset="0.0577" stop-color="#fdfdff"/><stop offset="0.0722" stop-color="#fdfdff"/><stop offset="0.0746" stop-color="#fffdfd"/><stop offset="0.9984" stop-color="#fffdfd"/></linearGradient></defs><rect x="760.7" y="273.08" width="27.9" height="207.83" fill="url(#g1)"/><defs><linearGradient id="g2" gradientUnits="userSpaceOnUse" x1="0" x2="0" y1="273.08" y2="480.92"><stop offset="0" stop-color="#c1c1ff"/><stop offset="0.012" stop-color="#c1c1ff"/><stop offset="0.0144" stop-color="#c5c5ff"/><stop offset="0.0168" stop-color="#c5c5ff"/><stop offset="0.0192" stop-color="#c9c9ff"/><stop offset="0.0217" stop-color="#c9c9ff"/><stop offset="0.0241" stop-color="#cdcdff"/><stop offset="0.0265" stop-color="#cdcdff"/><stop offset="0.0289" stop-color="#d1d1ff"/><stop offset="0.0313" stop-color="#d1d1ff"/><stop offset="0.0337" stop-color="#d5d5ff"/><stop offset="0.0361" stop-color="#d5d5ff"/><stop offset="0.0433" stop-color="#e1e1ff"/><stop offset="0.0457" stop-color="#e1e1ff"/><stop offset="0.0529" stop-color="#ededff"/><stop offset="0.0577" stop-color="#ededff"/><stop offset="0.0601" stop-color="#f1f1ff"/><stop offset="0.0626" stop-color="#f1f1ff"/><stop offset="0.065" stop-color="#f5f5ff"/><stop offset="0.0674" stop-color="#f5f5ff"/><stop offset="0.0698" stop-color="#f9f9ff"/><stop offset="0.077" stop-color="#f9f9ff"/><stop offset="0.0794" stop-color="#fdfdff"/><stop offset="0.0914" stop-color="#fdfdff"/><stop offset="0.0938" stop-color="#fffdfd"/><stop offset="0.1516" stop-color="#fffdfd"/><stop offset="0.154" stop-color="#fff9f9"/><stop offset="0.2069" stop-color="#fff9f9"/><stop offset="0.2093" stop-color="#fffdfd"/><stop offset="0.9984" stop-color="#fffdfd"/></linearGradient></defs><rect x="977.5" y="273.08" width="32.4" height="207.83" fill="url(#g2)"/></g><ellipse cx="786.6" cy="340.3" rx="0.9" ry="3.6" fill="#e00"/><ellipse cx="786.6" cy="346.5" rx="0.7" ry="2" fill="#99f"/><ellipse cx="1008.6" cy="386.3" rx="0.9" ry="5.5" fill="#d00"/></g>
<g id="lines" clip-path="url(#c3)"><path class="ln" stroke="#ff0000" stroke-width="2" d="M316,676.6l8-.5 8 0 8 0 8 0 8 0 8 0 8 0 8 0 8 0 8 0 8 0 8 0 8 0 8 0 8 0 8 0 8 0 8 0 8 0 8 0 8 0 8 0 8 0 8 0 8 0 8 0 8 0 8 0 8 0 8 0 8 0 8 0 8 0 8 0 8 0 8 0 8 0 8 0 8 0 8 0 8 0 8 0 8 0 8 0 8 0 8 0 8 0 8 0 8 0 8 0 8 0 8 0 8 0 8 0 8 0 3.9 0M788.4,676.1l8 0 8 0 8 0 8 0 8 0 8 0 8 0 8 0 8 0 8 0 8 0 8 0 8 0 8 0 8 0 8 0 8 0 8 0 8 0 8 0 8 0 8 0 8 0 4.2 0"/><path class="ln" stroke="#be280a" stroke-width="2" d="M316,675.5l8-.7 8 0 8 0 8 0 8 0 8 0 8 0 8 0 8 0 8 0 8 0 8 0 8 0 8 0 8 0 8 0 8 0 8 0 8 0 8 0 8 0 8 0 8 0 8 0 8 0 8 0 8 0 8 0 8 0 8 0 8 0 8 0 8 0 8 0 8 0 8 0 8 0 8 0 8 0 8 0 8 0 8 0 8 0 8 0 8 0 8 0 8 0 8 0 8 0 8 0 8 0 8 0 8 0 8 0 8 0 3.9 0M788.4,674.8l8 0 8 0 8 0 8 0 8 0 8 0 8 0 8 0 8 0 8 0 8 0 8 0 8 0 8 0 8 .1 8 0 8 0 8 0 8 0 8 0 8 0 8 0 8 0 4.2 0"/><path class="ln" stroke="#7a3c0a" stroke-width="2" d="M316,674.2l8-1 8 0 8 0 8 0 8 0 8 0 8 0 8 0 8 0 8 0 8 0 8 0 8 0 8 0 8 0 8 0 8 0 8 0 8 0 8 0 8 0 8 0 8 0 8 0 8 0 8 0 8 0 8 0 8 0 8 0 8 0 8 0 8 0 8 0 8 0 8 0 8 0 8 0 8 0 8 0 8 0 8 0 8 0 8 0 8 0 8 0 8 0 8 0 8 0 8 0 8 0 8 0 8 0 8 0 8 0 3.9 0M788.4,673.2l8 0 8 0 8 0 8 0 8 .1 8 0 8 0 8 0 8 0 8 0 8 0 8 0 8 0 8 0 8 0 8 0 8 0 8 0 8 0 8 0 8 0 8 0 8 0 4.2 0"/><path class="ln" stroke="#465a0a" stroke-width="2" d="M316,672.7l8-1.3 8 0 8 0 8 0 8 0 8 0 8 0 8 0 8 0 8 0 8 0 8 0 8 0 8 0 8 0 8 0 8 0 8 0 8 0 8 0 8 0 8 0 8 0 8 0 8 0 8 0 8 0 8 0 8 0 8 0 8 0 8 0 8 0 8 0 8 0 8 0 8 0 8 0 8 0 8 0 8 0 8 0 8 0 8 0 8 0 8 0 8 0 8 0 8 0 8 0 8 0 8 0 8 0 8 0 8 0 3.9 0M788.4,671.4l8 .1 8 0 8 0 8 0 8 0 8 0 8 0 8 0 8 0 8 0 8 0 8 0 8 0 8 0 8 0 8 0 8 0 8 0 8 0 8 .1 8 0 8 0 8 0 4.2 0"/><path class="ln" stroke="#0a8c14" stroke-width="1.7" d="M316,662.4l1.2-1 1.2-1.9 1.2-.8 1.2-1.5 1.2-.7 1.2-1.1 1.2-.1 1.2-.7 1.2.5 1.2-.5 1.2.7 1.2-.3 1.2.8 1.2-.2 1.2.5 1.2-.4 1.2.5 1.2-.5 1.2.5 1.2-.4 1.2.4 1.2-.4 1.2.4 1.2-.3 1.2.5 1.2-.4 1.2.4 1.2-.5 1.2.5 1.2-.3 1.2.3 1.2-.4 1.2.4 1.2-.4 1.2.5 1.2-.5 1.2.5 1.2-.5 1.2.5 1.2-.5 1.2.5 1.2-.4 1.2.5 1.2-.5 1.2.4 1.2-.4 1.2.5 1.2-.5 1.2.5 1.2-.4 1.2.4 1.2-.6 1.2.6 1.2-.5 1.2.5 1.2-.4 1.2.4 1.2-.4 1.2.4 1.2-.5 1.2.4 1.2-.2 1.2.4 1.2-.4 1.2.4 1.2-.5 1.2.5 1.2-.4 1.2.5 1.2-.6 1.2.6 1.2-.5 1.2.5 1.2-.4 1.2.4 1.2-.3 1.2.3 1.2-.3 1.2.4 1.2-.4 1.2.5 1.2-.4 1.2.4 1.2-.4 1.2.4 1.2-.3 1.2.5 1.2-.4 1.2.3 1.2-.3 1.2.5 1.2-.5 1.2.5 1.2-.4 1.2.5 1.2-.4 1.2.5 1.2-.4 1.2.4 1.2-.4 1.2.5 1.2-.3 1.2.4 1.2-.4 1.2.4 1.2-.3 1.2.5 1.2-.4 1.2.4 1.2-.4 1.2.5 1.2-.5 1.2.6 1.2-.4 1.2.4 1.2-.4 1.2.5 1.2-.3 1.2.4 1.2-.4 1.2.4 1.2-.3 1.2.3 1.2-.3 1.2.4 1.2-.4 1.2.6 1.2-.4 1.2.4 1.2-.3 1.2.4 1.2-.4 1.2.4 1.2-.4 1.2.5 1.2-.4 1.2.5 1.2-.4 1.2.5 1.2-.4 1.2.5 1.2-.5 1.2.4 1.2-.4 1.2.5 1.2-.5 1.2.5 1.2-.3 1.2.3 1.2-.3 1.2.4 1.2-.5 1.2.5 1.2-.4 1.2.4 1.2-.3 1.2.3 1.2-.3 1.2.5 1.2-.5 1.2.4 1.2-.4 1.2.6 1.2-.6 1.2.5 1.2-.5 1.2.5 1.2-.4 1.2.4 1.2-.4 1.2.4 1.2-.4 1.2.6 1.2-.5 1.2.5 1.2-.5 1.2.5 1.2-.4 1.2.4 1.2-.4 1.2.5 1.2-.5 1.2.4 1.2-.3 1.2.4 1.2-.4 1.2.4 1.2-.4 1.2.4 1.2-.4 1.2.5 1.2-.5 1.2.5 1.2-.5 1.2.6 1.2-.5 1.2.4 1.2-.4 1.2.6 1.2-.6 1.2.5 1.2-.5 1.2.5 1.2-.4 1.2.4 1.2-.4 1.2.4 1.2-.5 1.2.6 1.2-.5 1.2.5 1.2-.5 1.2.5 1.2-.5 1.2.5 1.2-.5 1.2.6 1.2-.6 1.2.6 1.2-.5 1.2.3 1.2-.2 1.2.3 1.2-.5 1.2.4 1.2-.3 1.2.5 1.2-.5 1.2.4 1.2-.4 1.2.5 1.2-.5 1.2.4 1.2-.4 1.2.4 1.2-.4 1.2.4 1.2-.5 1.2.5 1.2-.4 1.2.4 1.2-.4 1.2.5 1.2-.6 1.2.5 1.2-.4 1.2.4 1.2-.4 1.2.4 1.2-.5 1.2.5 1.2-.4 1.2.4 1.2-.4 1.2.4 1.2-.4 1.2.5 1.2-.4 1.2.4 1.2-.5 1.2.4 1.2-.4 1.2.4 1.2-.4 1.2.4 1.2-.4 1.2.5 1.2-.4 1.2.4 1.2-.4 1.2.4 1.2-.4 1.2.3 1.2-.4 1.2.5 1.2-.4 1.2.3 1.2-.4 1.2.5 1.2-.5 1.2.4 1.2-.4 1.2.4 1.2-.3 1.2.3 1.2-.5 1.2.6 1.2-.5 1.2.5 1.2-.5 1.2.4 1.2-.5 1.2.6 1.2-.5 1.2.5 1.2-.5 1.2.4 1.2-.4 1.2.4 1.2-.4 1.2.5 1.2-.5 1.2.5 1.2-.5 1.2.4 1.2-.4 1.2.4 1.2-.4 1.2.5 1.2-.5 1.2.4 1.2-.3 1.2.3 1.2-.4 1.2.4 1.2-.4 1.2.5 1.2-.6 1.2.5 1.2-.4 1.2.4 1.2-.4 1.2.5 1.2-.5 1.2.5 1.2-.6 1.2.6 1.2-.5 1.2.5 1.2-.5 1.2.4 1.2-.5 1.2.6 1.2-.6 1.2.5 1.2-.4 1.2.5 1.2-.5 1.2.4 1.2-.4 1.2.5 1.2-.5 1.2.4 1.2-.4 1.2.4 1.2-.4 1.2.4 1.2-.4 1.2.3 1.2-.3 1.2.5 1.2-.6 1.2.5 1.2-.4 1.2.4 1.2-.4 1.2.5 1.2-.6 1.2.6 1.2-.5 1.2.5 1.2-.5 1.2.4 1.2-.3 1.2.4 1.2-.5 1.2.4 1.2-.4 1.2.4 1.1-.3M788.4,658.8l1.2.5 1.2-.4 1.2.3 1.2-.4 1.2.5 1.2-.4 1.2.5 1.2-.5 1.2.5 1.2-.5 1.2.4 1.2-.3 1.2.4 1.2-.4 1.2.5 1.2-.4 1.2.3 1.2-.3 1.2.4 1.2-.3 1.2.4 1.2-.4 1.2.5 1.2-.5 1.2.5 1.2-.4 1.2.4 1.2-.3 1.2.4 1.2-.4 1.2.5 1.2-.5 1.2.4 1.2-.4 1.2.4 1.2-.4 1.2.4 1.2-.4 1.2.4 1.2-.4 1.2.5 1.2-.4 1.2.4 1.2-.5 1.2.5 1.2-.5 1.2.4 1.2-.3 1.2.4 1.2-.4 1.2.5 1.2-.6 1.2.5 1.2-.5 1.2.5 1.2-.5 1.2.6 1.2-.5 1.2.4 1.2-.5 1.2.5 1.2-.4 1.2.5 1.2-.6 1.2.5 1.2-.3 1.2.3 1.2-.4 1.2.5 1.2-.5 1.2.4 1.2-.4 1.2.4 1.2-.4 1.2.4 1.2-.5 1.2.5 1.2-.4 1.2.5 1.2-.6 1.2.6 1.2-.5 1.2.6 1.2-.5 1.2.3 1.2-.4 1.2.5 1.2-.5 1.2.4 1.2-.3 1.2.4 1.2-.5 1.2.4 1.2-.3 1.2.4 1.2-.4 1.2.4 1.2-.4 1.2.4 1.2-.4 1.2.4 1.2-.4 1.2.4 1.2-.5 1.2.5 1.2-.5 1.2.6 1.2-.6 1.2.6 1.2-.5 1.2.4 1.2-.4 1.2.4 1.2-.4 1.2.4 1.2-.5 1.2.6 1.2-.6 1.2.5 1.2-.5 1.2.5 1.2-.4 1.2.4 1.2-.4 1.2.5 1.2-.6 1.2.5 1.2-.4 1.2.5 1.2-.5 1.2.5 1.2-.5 1.2.4 1.2-.4 1.2.4 1.2-.4 1.2.4 1.2-.4 1.2.4 1.2-.3 1.2.4 1.2-.6 1.2.6 1.2-.5 1.2.4 1.2-.4 1.2.4 1.2-.3 1.2.3 1.2-.4 1.2.5 1.2-.5 1.2.4 1.2-.4 1.2.4 1.2-.4 1 .5"/><path class="ln" stroke="#0a5c46" stroke-width="1.7" d="M316,653l1.2-2.5 1.2-3.6 1.2-1.7 1.2-2.6 1.2-1 1.2-1.8 1.2.1 1.2-.6 1.2 1 1.2.2 1.2 1.1 1.2-.6 1.2.7 1.2-.7 1.2.6 1.2-.5 1.2.6 1.2-.6 1.2.6 1.2-.5 1.2.7 1.2-.9 1.2.6 1.2-.6 1.2.8 1.2-.8 1.2.7 1.2-.6 1.2.6 1.2-.5 1.2.5 1.2-.6 1.2.5 1.2-.7 1.2.7 1.2-.6 1.2.7 1.2-.8 1.2.8 1.2-.7 1.2.6 1.2-.5 1.2.5 1.2-.5 1.2.6 1.2-.6 1.2.6 1.2-.7 1.2.7 1.2-.8 1.2.8 1.2-.8 1.2.7 1.2-.7 1.2.7 1.2-.7 1.2.6 1.2-.6 1.2.7 1.2-.6 1.2.5 1.2-.6 1.2.6 1.2-.6 1.2.7 1.2-.6 1.2.6 1.2-.6 1.2.7 1.2-.8 1.2.8 1.2-.8 1.2.7 1.2-.5 1.2.5 1.2-.4 1.2.5 1.2-.5 1.2.6 1.2-.6 1.2.8 1.2-.8 1.2.8 1.2-.5 1.2.7 1.2-.7 1.2.8 1.2-.5 1.2.6 1.2-.5 1.2.7 1.2-.5 1.2.6 1.2-.6 1.2.9 1.2-.7 1.2.8 1.2-.6 1.2.7 1.2-.5 1.2.8 1.2-.6 1.2.7 1.2-.5 1.2.7 1.2-.6 1.2.8 1.2-.6 1.2.7 1.2-.6 1.2.9 1.2-.6 1.2.5 1.2-.4 1.2.6 1.2-.6 1.2 1 1.2-.8 1.2.9 1.2-.6 1.2.7 1.2-.6 1.2 1 1.2-.6 1.2.7 1.2-.6 1.2.7 1.2-.5 1.2.7 1.2-.5 1.2.6 1.2-.5 1.2.9 1.2-.7 1.2.9 1.2-.8 1.2.8 1.2-.5 1.2.7 1.2-.6 1.2.7 1.2-.6 1.2.8 1.2-.7 1.2.7 1.2-.8 1.2.9 1.2-.7 1.2.6 1.2-.5 1.2.7 1.2-.6 1.2.5 1.2-.4 1.2.6 1.2-.6 1.2.7 1.2-.5 1.2.5 1.2-.6 1.2.6 1.2-.5 1.2.6 1.2-.5 1.2.6 1.2-.7 1.2.7 1.2-.6 1.2.6 1.2-.5 1.2.6 1.2-.6 1.2.6 1.2-.5 1.2.6 1.2-.6 1.2.6 1.2-.6 1.2.7 1.2-.7 1.2.6 1.2-.5 1.2.7 1.2-.6 1.2.7 1.2-.7 1.2.7 1.2-.7 1.2.6 1.2-.7 1.2.8 1.2-.6 1.2.7 1.2-.6 1.2.6 1.2-.6 1.2.7 1.2-.7 1.2.6 1.2-.6 1.2.6 1.2-.7 1.2.8 1.2-.6 1.2.5 1.2-.5 1.2.6 1.2-.6 1.2.6 1.2-.6 1.2.6 1.2-.6 1.2.7 1.2-.5 1.2.6 1.2-.7 1.2.8 1.2-.7 1.2.5 1.2-.6 1.2.6 1.2-.4 1.2.6 1.2-.7 1.2.6 1.2-.6 1.2.5 1.2-.4 1.2.6 1.2-.7 1.2.6 1.2-.5 1.2.4 1.2-.5 1.2.7 1.2-.7 1.2.6 1.2-.7 1.2.8 1.2-.6 1.2.5 1.2-.6 1.2.7 1.2-.8 1.2.8 1.2-.6 1.2.6 1.2-.7 1.2.6 1.2-.5 1.2.7 1.2-.7 1.2.4 1.2-.5 1.2.7 1.2-.7 1.2.6 1.2-.7 1.2.8 1.2-.7 1.2.6 1.2-.7 1.2.8 1.2-.8 1.2.7 1.2-.5 1.2.5 1.2-.7 1.2.7 1.2-.6 1.2.5 1.2-.6 1.2.6 1.2-.6 1.2.8 1.2-.6 1.2.4 1.2-.5 1.2.6 1.2-.6 1.2.6 1.2-.6 1.2.5 1.2-.6 1.2.6 1.2-.7 1.2.7 1.2-.6 1.2.6 1.2-.6 1.2.6 1.2-.6 1.2.6 1.2-.5 1.2.5 1.2-.6 1.2.5 1.2-.5 1.2.5 1.2-.6 1.2.7 1.2-.6 1.2.6 1.2-.7 1.2.6 1.2-.6 1.2.5 1.2-.5 1.2.5 1.2-.5 1.2.5 1.2-.5 1.2.6 1.2-.6 1.2.6 1.2-.8 1.2.8 1.2-.7 1.2.7 1.2-.7 1.2.6 1.2-.6 1.2.7 1.2-.8 1.2.7 1.2-.6 1.2.6 1.2-.7 1.2.7 1.2-.6 1.2.6 1.2-.7 1.2.6 1.2-.6 1.2.7 1.2-.7 1.2.6 1.2-.6 1.2.5 1.2-.6 1.2.7 1.2-.7 1.2.6 1.2-.5 1.2.5 1.2-.5 1.2.6 1.2-.5 1.2.4 1.2-.6 1.2.6 1.2-.7 1.2.7 1.2-.7 1.2.6 1.2-.5 1.2.5 1.2-.6 1.2.7 1.2-.7 1.2.7 1.2-.7 1.2.6 1.2-.6 1.2.5 1.2-.5 1.2.5 1.2-.7 1.2.8 1.1-.7M788.4,646.8l1.2.4 1.2-.5 1.2.6 1.2-.6 1.2.6 1.2-.7 1.2.7 1.2-.7 1.2.5 1.2-.4 1.2.5 1.2-.6 1.2.8 1.2-.8 1.2.6 1.2-.6 1.2.6 1.2-.6 1.2.8 1.2-.8 1.2.7 1.2-.6 1.2.7 1.2-.7 1.2.5 1.2-.6 1.2.8 1.2-.7 1.2.5 1.2-.6 1.2.8 1.2-.7 1.2.6 1.2-.7 1.2.5 1.2-.3 1.2.4 1.2-.6 1.2.6 1.2-.4 1.2.6 1.2-.8 1.2.6 1.2-.6 1.2.7 1.2-.7 1.2.8 1.2-.7 1.2.6 1.2-.8 1.2.6 1.2-.4 1.2.6 1.2-.7 1.2.6 1.2-.5 1.2.5 1.2-.6 1.2.9 1.2-.7 1.2.5 1.2-.6 1.2.6 1.2-.6 1.2.6 1.2-.5 1.2.4 1.2-.5 1.2.7 1.2-.8 1.2.7 1.2-.7 1.2.6 1.2-.5 1.2.6 1.2-.6 1.2.6 1.2-.7 1.2.7 1.2-.7 1.2.7 1.2-.8 1.2.9 1.2-.7 1.2.7 1.2-.7 1.2.6 1.2-.7 1.2.6 1.2-.7 1.2.8 1.2-.5 1.2.4 1.2-.5 1.2.4 1.2-.5 1.2.6 1.2-.5 1.2.6 1.2-.7 1.2.7 1.2-.6 1.2.5 1.2-.5 1.2.6 1.2-.5 1.2.6 1.2-.8 1.2.7 1.2-.6 1.2.6 1.2-.8 1.2.9 1.2-.9 1.2.8 1.2-.6 1.2.6 1.2-.7 1.2.7 1.2-.6 1.2.4 1.2-.4 1.2.5 1.2-.5 1.2.6 1.2-.7 1.2.7 1.2-.7 1.2.7 1.2-.7 1.2.6 1.2-.4 1.2.5 1.2-.5 1.2.5 1.2-.6 1.2.5 1.2-.6 1.2.8 1.2-.8 1.2.9 1.2-1 1.2.9 1.2-.8 1.2.8 1.2-.8 1.2.6 1.2-.5 1.2.6 1.2-.6 1.2.7 1.2-.7 1.2.5 1.2-.5 1.2.6 1.2-.7 1 .6"/><path class="ln" stroke="#0a4088" stroke-width="1.7" d="M316,639.5l1.2-3.1 1.2-4.3 1.2-2.6 1.2-3.3 1.2-.9 1.2-1.7 1.2 1 1.2-.5 1.2 1.4 1.2-.3 1.2 1 1.2-.6 1.2.8 1.2-.9 1.2.9 1.2-.8 1.2.8 1.2-.7 1.2.7 1.2-.8 1.2.7 1.2-.7 1.2.7 1.2-.8 1.2.9 1.2-.8 1.2.7 1.2-.7 1.2.8 1.2-.9 1.2.8 1.2-.8 1.2.9 1.2-.9 1.2.7 1.2-.7 1.2.9 1.2-1 1.2.9 1.2-.7 1.2.7 1.2-.9 1.2.8 1.2-.7 1.2.8 1.2-.7 1.2.6 1.2-.8 1.2.8 1.2-.6 1.2.6 1.2-.8 1.2 1 1.2-.8 1.2.6 1.2-.7 1.2.8 1.2-.8 1.2.7 1.2-.8 1.2.9 1.2-.9 1.2.8 1.2-.7 1.2.6 1.2-.6 1.2.7 1.2-.8 1.2.9 1.2-.9 1.2.8 1.2-.6 1.2.7 1.2-.9 1.2.8 1.2-.5 1.2.7 1.2-.5 1.2.8 1.2-.6 1.2.9 1.2-.9 1.2.9 1.2-.6 1.2 1 1.2-.8 1.2.9 1.2-.7 1.2.9 1.2-.7 1.2 1.1 1.2-.8 1.2 1 1.2-.7 1.2.9 1.2-.8 1.2.9 1.2-.6 1.2.8 1.2-.6 1.2.8 1.2-.7 1.2.9 1.2-.6 1.2.9 1.2-1 1.2 1.1 1.2-.5 1.2.8 1.2-.6 1.2.9 1.2-.7 1.2.9 1.2-.8 1.2.7 1.2-.5 1.2.9 1.2-.8 1.2 1.1 1.2-.7 1.2.7 1.2-.6 1.2.9 1.2-.6 1.2.9 1.2-.8 1.2 1.2 1.2-.9 1.2.8 1.2-.5 1.2.9 1.2-.7 1.2.7 1.2-.7 1.2 1 1.2-.8 1.2.8 1.2-.6 1.2 1 1.2-.8 1.2.9 1.2-.7 1.2.8 1.2-.8 1.2.9 1.2-.8 1.2 1 1.2-.8 1.2.9 1.2-.8 1.2.9 1.2-1 1.2 1 1.2-.8 1.2.9 1.2-.7 1.2.9 1.2-.7 1.2.5 1.2-.6 1.2.9 1.2-.8 1.2.8 1.2-.6 1.2.8 1.2-.8 1.2.8 1.2-.8 1.2.9 1.2-.9 1.2.9 1.2-.6 1.2.7 1.2-.8 1.2.8 1.2-.5 1.2.5 1.2-.7 1.2.8 1.2-.7 1.2.7 1.2-.7 1.2.7 1.2-.7 1.2.8 1.2-.6 1.2.8 1.2-.7 1.2.9 1.2-.8 1.2.7 1.2-.8 1.2.9 1.2-.8 1.2.7 1.2-.7 1.2 1 1.2-.8 1.2.9 1.2-.9 1.2 1 1.2-.8 1.2.7 1.2-.5 1.2.9 1.2-.7 1.2.9 1.2-.6 1.2 1.1 1.2-.9 1.2.7 1.2-.6 1.2.5 1.2-.6 1.2.7 1.2-.6 1.2.7 1.2-.9 1.2.8 1.2-.8 1.2.6 1.2-.7 1.2.5 1.2-.7 1.2.6 1.2-.9 1.2.8 1.2-.9 1.2.8 1.2-.7 1.2.7 1.2-.9 1.2.8 1.2-.9 1.2.8 1.2-.7 1.2.8 1.2-.7 1.2.6 1.2-.5 1.2.7 1.2-.6 1.2.7 1.2-.4 1.2.6 1.2-.8 1.2 1 1.2-.7 1.2.8 1.2-.6 1.2.8 1.2-.6 1.2.7 1.2-.9 1.2.7 1.2-.8 1.2.9 1.2-.6 1.2.4 1.2-.5 1.2.8 1.2-.9 1.2.7 1.2-.7 1.2.7 1.2-.8 1.2.8 1.2-.9 1.2.8 1.2-.7 1.2.6 1.2-.7 1.2.8 1.2-.7 1.2.6 1.2-.8 1.2.7 1.2-.8 1.2.7 1.2-.8 1.2.9 1.2-.8 1.2.7 1.2-.9 1.2.8 1.2-.8 1.2.8 1.2-.8 1.2.6 1.2-.8 1.2.7 1.2-.8 1.2 1 1.2-.9 1.2.7 1.2-.9 1.2.9 1.2-1 1.2.9 1.2-.8 1.2.7 1.2-.8 1.2.9 1.2-.8 1.2.6 1.2-.9 1.2.8 1.2-.6 1.2.6 1.2-.9 1.2.7 1.2-.6 1.2.6 1.2-.6 1.2.7 1.2-.9 1.2.8 1.2-.9 1.2.8 1.2-.7 1.2.8 1.2-1 1.2.9 1.2-.7 1.2.7 1.2-.8 1.2.7 1.2-.7 1.2.9 1.2-1 1.2.8 1.2-.8 1.2.8 1.2-.7 1.2.8 1.2-.8 1.2.8 1.2-.8 1.2.7 1.2-.8 1.2.8 1.2-.8 1.2.8 1.2-.8 1.2.7 1.2-.9 1.2.8 1.2-.8 1.2.9 1.2-.9 1.2 1 1.2-.9 1.2.9 1.2-.9 1.2.9 1.2-.7 1.2.6 1.2-.8 1.2.7 1.2-.8 1.2.8 1.2-.7 1.2.7 1.2-.6 1.2.7 1.2-.8 1.2.6 1.2-.6 1.2.5 1.1-.6M788.4,632.6l1.2.7 1.2-.7 1.2.8 1.2-.7 1.2.7 1.2-.8 1.2.9 1.2-.9 1.2 1 1.2-1 1.2.7 1.2-.7 1.2.8 1.2-.9 1.2.8 1.2-.6 1.2.7 1.2-.7 1.2.8 1.2-.8 1.2.8 1.2-.9 1.2.7 1.2-.6 1.2.7 1.2-.8 1.2.8 1.2-.5 1.2.7 1.2-.9 1.2.8 1.2-.7 1.2.6 1.2-.7 1.2.8 1.2-.8 1.2.8 1.2-.8 1.2 1 1.2-.8 1.2.6 1.2-.8 1.2.8 1.2-.6 1.2.6 1.2-.7 1.2.8 1.2-.8 1.2.9 1.2-.9 1.2.8 1.2-.7 1.2.6 1.2-.5 1.2.7 1.2-.7 1.2.7 1.2-.7 1.2.8 1.2-.9 1.2.8 1.2-.7 1.2.8 1.2-.8 1.2.8 1.2-.9 1.2 1 1.2-1 1.2.9 1.2-.8 1.2.8 1.2-.7 1.2.7 1.2-.8 1.2.7 1.2-.7 1.2.9 1.2-.9 1.2.7 1.2-.5 1.2.6 1.2-.7 1.2.8 1.2-.9 1.2.9 1.2-.7 1.2.8 1.2-1 1.2.8 1.2-.7 1.2.6 1.2-.4 1.2.4 1.2-.6 1.2.8 1.2-.8 1.2.7 1.2-.7 1.2.7 1.2-.8 1.2.8 1.2-.6 1.2.6 1.2-.7 1.2.7 1.2-.9 1.2.8 1.2-.6 1.2.7 1.2-.7 1.2.6 1.2-.7 1.2.8 1.2-.8 1.2.8 1.2-.9 1.2.9 1.2-.8 1.2.9 1.2-.9 1.2.8 1.2-.8 1.2.9 1.2-.9 1.2.7 1.2-.6 1.2.6 1.2-.8 1.2.7 1.2-.7 1.2.8 1.2-.8 1.2.7 1.2-.7 1.2.9 1.2-.9 1.2.6 1.2-.6 1.2.6 1.2-.8 1.2 1 1.2-.9 1.2.7 1.2-.7 1.2.7 1.2-.7 1.2.7 1.2-.8 1.2.6 1.2-.5 1.2.6 1.2-.7 1.2.8 1.2-1 1.2.8 1.2-.7 1 .7"/><path class="ln" stroke="#0a1ecd" stroke-width="1.6" d="M316,641.9l1.2-4.8 1.2-10.3 1.2-5.7 1.2-9.9 1.2-5.4 1.2-10.5 1.2-4.9 1.2-10.3 1.2-5.1 1.2-10.2 1.2-6.7 1.2-11.4 1.2-4.3 1.2-5.6 1.2.2 1.2-3.8 1.2 1.2 1.2-3.1 1.2 1.8 1.2-1.3 1.2 4.2 1.2.2 1.2 3.8 1.2-2.6 1.2 1.8 1.2-2.1 1.2 2.2 1.2-2.8 1.2 2.4 1.2-2.4 1.2 2.2 1.2-2.9 1.2 2.1 1.2-2 1.2 2.5 1.2-1.6 1.2 2.6 1.2-2.1 1.2 2.9 1.2-2.2 1.2 3.1 1.2-2 1.2 2.9 1.2-1.8 1.2 2.5 1.2-2.2 1.2 2.1 1.2-1.4 1.2 2.6 1.2-2.6 1.2 2.5 1.2-2.4 1.2 2.5 1.2-2.4 1.2 1.4 1.2-2.2 1.2 2.1 1.2-1.8 1.2 1.8 1.2-2.8 1.2 2.8 1.2-2.9 1.2 2.7 1.2-2.4 1.2 1.9 1.2-2.3 1.2 3.2 1.2-1.7 1.2 2.2 1.2-1.6 1.2 2.8 1.2-1.6 1.2 3.1 1.2-1.8 1.2 3.2 1.2-1.2 1.2 2.2 1.2-1.4 1.2 3.3 1.2-.9 1.2 2.5 1.2-1.3 1.2 3.1 1.2-1.6 1.2 2.9 1.2-1.5 1.2 2.9 1.2-.8 1.2 2.8 1.2-1.7 1.2 3 1.2-1.2 1.2 2.9 1.2-1.9 1.2 2.2 1.2-2.5 1.2 2.1 1.2-2.9 1.2 2.5 1.2-2.9 1.2 2.1 1.2-2.8 1.2 2.3 1.2-2.4 1.2 3.5 1.2-1.9 1.2 3 1.2-1.3 1.2 3.1 1.2-1.1 1.2 2.9 1.2-1.3 1.2 2.9 1.2-1.9 1.2 2.7 1.2-2 1.2 2.9 1.2-2 1.2 3.1 1.2-2.2 1.2 2.3 1.2-2.1 1.2 2.8 1.2-1.3 1.2 2.1 1.2-1.3 1.2 2.2 1.2-1.5 1.2 2.3 1.2-1.5 1.2 2.9 1.2-1.9 1.2 3.3 1.2-1.7 1.2 2.9 1.2-1.3 1.2 2.5 1.2-1.8 1.2 3.1 1.2-1.5 1.2 3.2 1.2-2.7 1.2 2.9 1.2-2.3 1.2 2.5 1.2-2.5 1.2 2 1.2-2.2 1.2 1.8 1.2-2 1.2 1.9 1.2-2.8 1.2 2 1.2-1.9 1.2 2 1.2-2.5 1.2 2.5 1.2-2.6 1.2 2.9 1.2-2.1 1.2 2 1.2-1.9 1.2 2.8 1.2-2.4 1.2 2.9 1.2-2.3 1.2 2.6 1.2-2.1 1.2 2.3 1.2-2.7 1.2 2.7 1.2-2.8 1.2 2.7 1.2-1.8 1.2 1.4 1.2-2.4 1.2 2.1 1.2-2.5 1.2 2.2 1.2-2.9 1.2 2.1 1.2-2.5 1.2 2.2 1.2-2.7 1.2 2.5 1.2-3.1 1.2 1.9 1.2-2.2 1.2 2.6 1.2-2.4 1.2 2.6 1.2-2.2 1.2 2.2 1.2-1.5 1.2 2.5 1.2-2 1.2 3.3 1.2-2.2 1.2 3.1 1.2-2.5 1.2 2.5 1.2-1.8 1.2 2.8 1.2-2 1.2 2.4 1.2-2 1.2 2.8 1.2-2.4 1.2 2.8 1.2-2.6 1.2 2.4 1.2-1.9 1.2 2.1 1.2-2 1.2 2 1.2-2.9 1.2 1.6 1.2-3.1 1.2 1.7 1.2-3.1 1.2 1.7 1.2-2.9 1.2 2 1.2-2.3 1.2 2.7 1.2-2.5 1.2 2.1 1.2-2.4 1.2 2.8 1.2-2.8 1.2 2.4 1.2-1.7 1.2 2.8 1.2-2.7 1.2 2.3 1.2-1.9 1.2 2.4 1.2-2.5 1.2 3.2 1.2-2.3 1.2 2.8 1.2-1.8 1.2 3.3 1.2-2.4 1.2 3.5 1.2-2.2 1.2 3 1.2-1.6 1.2 2.2 1.2-1.6 1.2 2.8 1.2-2.3 1.2 2.3 1.2-1.7 1.2 2 1.2-2.7 1.2 1.8 1.2-2 1.2 2 1.2-3.7 1.2 2.5 1.2-3.2 1.2 2.3 1.2-2.7 1.2 1.9 1.2-2.6 1.2 2.3 1.2-2.7 1.2 2.2 1.2-2.5 1.2 2.3 1.2-2.4 1.2 2.2 1.2-2.7 1.2 2.3 1.2-2.9 1.2 2.3 1.2-2.3 1.2 1.8 1.2-1.6 1.2 1.3 1.2-2.3 1.2 2.5 1.2-2.6 1.2 2.8 1.2-2.6 1.2 2 1.2-1.8 1.2 1.6 1.2-2 1.2 2.4 1.2-2.3 1.2 2.5 1.2-2.6 1.2 2 1.2-1.9 1.2 2.6 1.2-2 1.2 2.9 1.2-2.2 1.2 2.8 1.2-2.5 1.2 2.6 1.2-2.3 1.2 2.2 1.2-2.6 1.2 1.9 1.2-2.1 1.2 2.1 1.2-2.8 1.2 2.5 1.2-3.1 1.2 2.3 1.2-2.4 1.2 2.2 1.2-2.9 1.2 2.4 1.2-2.5 1.2 2.2 1.2-2.5 1.2 2.4 1.2-1.9 1.2 2.5 1.2-2.2 1.2 2.5 1.2-2.5 1.2 2.7 1.2-1.7 1.2 2.8 1.2-2.6 1.2 3.2 1.2-2.1 1.2 2.7 1.2-2.5 1.2 2 1.2-3.1 1.2 3.4 1.2-2.6 1.2 1.9 1.2-2.5 1.2 2.2 1.2-2.4 1.2 2.6 1.2-3 1.2 2.1 1.2-1.9 1.2 2 1.2-2.2 1.2 1.8 1.2-2.6 1.2 2.7 1.2-2.9 1.2 2.8 1.2-2.8 1.2 2.9 1.2-2.9 1.2 2.3 1.2-2.2 1.2 2 1.2-1.7 1.2 2.4 1.2-2.1 1.2 2.2 1.2-2.6 1.2 2.9 1.2-2.8 1.2 2.6 1.2-2.4 1.2 2.1 1.1-1.9M788.4,574.9l1.2 2.3 1.2-2.3 1.2 2.5 1.2-2.2 1.2 1.7 1.2-1.6 1.2 2.1 1.2-1.7 1.2 1.9 1.2-2.2 1.2 2.3 1.2-1.7 1.2 2.4 1.2-1.8 1.2 2.3 1.2-1.8 1.2 2.4 1.2-1.9 1.2 2.6 1.2-2.1 1.2 2.7 1.2-2 1.2 2.4 1.2-2.3 1.2 2.4 1.2-2.4 1.2 3 1.2-1.9 1.2 1.7 1.2-2.2 1.2 2.8 1.2-2.3 1.2 2.3 1.2-2.5 1.2 2.2 1.2-2 1.2 2.4 1.2-2.7 1.2 2.9 1.2-2.7 1.2 2.8 1.2-2.5 1.2 2.3 1.2-2.6 1.2 2.9 1.2-1.9 1.2 1.4 1.2-1.4 1.2 1.7 1.2-1.7 1.2 1.9 1.2-2.1 1.2 1.8 1.2-2.1 1.2 3 1.2-2.6 1.2 1.7 1.2-2.3 1.2 3 1.2-2.9 1.2 2.2 1.2-2.2 1.2 1.7 1.2-2.3 1.2 2.7 1.2-3.1 1.2 2.6 1.2-2.2 1.2 1.7 1.2-2.5 1.2 2.5 1.2-2.3 1.2 2.4 1.2-2.2 1.2 2.4 1.2-2.2 1.2 2.2 1.2-2.4 1.2 2.9 1.2-2.9 1.2 2.8 1.2-2.1 1.2 2.3 1.2-2 1.2 2.1 1.2-2.4 1.2 2.9 1.2-2.8 1.2 3 1.2-2.3 1.2 2.3 1.2-2.3 1.2 2.2 1.2-1.9 1.2 1.9 1.2-2.4 1.2 2.2 1.2-2 1.2 1.5 1.2-2.8 1.2 2.2 1.2-2.1 1.2 1.7 1.2-2.4 1.2 2.3 1.2-1.9 1.2 1.8 1.2-2 1.2 2.4 1.2-2.4 1.2 3 1.2-2.4 1.2 2.5 1.2-2 1.2 2.7 1.2-2.4 1.2 3.1 1.2-2.2 1.2 2.7 1.2-2.6 1.2 2.6 1.2-1.8 1.2 2.1 1.2-1.9 1.2 1.8 1.2-1.6 1.2 2.2 1.2-2.8 1.2 2.7 1.2-2.3 1.2 2.2 1.2-3 1.2 2.8 1.2-3 1.2 1.9 1.2-2.1 1.2 2.4 1.2-2.6 1.2 2.2 1.2-2.6 1.2 2.8 1.2-2.6 1.2 1.5 1.2-1.6 1.2 1.6 1.2-1.9 1.2 2.2 1.2-2.9 1.2 2 1.2-1.6 1.2 2.1 1.2-2.2 1.2 2.1 1.2-2.6 1.2 2.4 1.2-2.6 1 2.3"/><path class="ln" stroke="#0000ff" stroke-width="1.6" d="M316,620.7l1.2-9.5 1.2-19.8 1.2-7.9 1.2-19.3 1.2-9 1.2-18.5 1.2-11.2 1.2-18.4 1.2-9.6 1.2-18.5 1.2-10.7 1.2-19.5 1.2-10.1 1.2-16.5 1.2-5.9 1.2-12.5 1.2-2.8 1.2-10.2 1.2 2.8 1.2-5 1.2 5.2 1.2-1.4 1.2 6.8 1.2-4.5 1.2 5.6 1.2-5.1 1.2 6.2 1.2-5.5 1.2 5.7 1.2-3.5 1.2 4 1.2-3.2 1.2 3.3 1.2-3.2 1.2 5.3 1.2-4.7 1.2 5.1 1.2-4.3 1.2 4.5 1.2-5.3 1.2 6.2 1.2-5.2 1.2 4.9 1.2-4.4 1.2 4.2 1.2-3.7 1.2 3.3 1.2-4.4 1.2 5 1.2-3.8 1.2 4 1.2-3.9 1.2 4.6 1.2-3.9 1.2 3.8 1.2-4.6 1.2 4 1.2-4.4 1.2 4.4 1.2-4.7 1.2 4.7 1.2-5.2 1.2 5.2 1.2-4.7 1.2 6 1.2-5.2 1.2 4.7 1.2-2.7 1.2 6.5 1.2-3.1 1.2 7.7 1.2-2.8 1.2 6.7 1.2-2.7 1.2 7 1.2-2.1 1.2 6.8 1.2-1.4 1.2 6.1 1.2-.6 1.2 7.5 1.2-2.3 1.2 7.2 1.2-1.8 1.2 6.5 1.2-1.8 1.2 5.8 1.2-1.3 1.2 5.4 1.2-1.1 1.2 6.1 1.2-3.4 1.2 6.2 1.2-3.9 1.2 5.8 1.2-4.6 1.2 4 1.2-5.3 1.2 3.9 1.2-4.3 1.2 4.3 1.2-4.5 1.2 4.6 1.2-4.8 1.2 6.2 1.2-4 1.2 6.8 1.2-2.7 1.2 7.4 1.2-1.7 1.2 7.5 1.2-3.1 1.2 5.7 1.2-3.3 1.2 4.4 1.2-3.1 1.2 5.4 1.2-4.8 1.2 5.8 1.2-5.8 1.2 6 1.2-3.7 1.2 4.8 1.2-5.3 1.2 6.3 1.2-4.8 1.2 4.8 1.2-4.8 1.2 6 1.2-4.5 1.2 5.8 1.2-4 1.2 4.7 1.2-3.1 1.2 5.5 1.2-6 1.2 7.1 1.2-3.9 1.2 4.5 1.2-2.6 1.2 4.3 1.2-3.6 1.2 4.9 1.2-4.1 1.2 4.2 1.2-4.5 1.2 4.1 1.2-4.5 1.2 4.2 1.2-6 1.2 4.1 1.2-5.7 1.2 3.5 1.2-5 1.2 4.8 1.2-4.1 1.2 4.2 1.2-4.4 1.2 4.2 1.2-4.7 1.2 5.3 1.2-4.3 1.2 5.6 1.2-4.5 1.2 5.3 1.2-4.2 1.2 5.5 1.2-5.4 1.2 5.9 1.2-4.8 1.2 3.7 1.2-3.6 1.2 4.4 1.2-5.9 1.2 4.3 1.2-4.1 1.2 4 1.2-5.1 1.2 3.2 1.2-4.9 1.2 4.7 1.2-4.4 1.2 3.2 1.2-5.1 1.2 5.3 1.2-5.2 1.2 4.2 1.2-5.2 1.2 5.8 1.2-5.2 1.2 4.3 1.2-3.4 1.2 4.8 1.2-4 1.2 5 1.2-4.2 1.2 5.3 1.2-2.8 1.2 4.9 1.2-3.8 1.2 4.6 1.2-3.5 1.2 4.3 1.2-2.4 1.2 4 1.2-5.8 1.2 5.5 1.2-3.4 1.2 4.9 1.2-3.8 1.2 4.5 1.2-4.6 1.2 4.9 1.2-5.5 1.2 4.8 1.2-5.4 1.2 3.2 1.2-5.2 1.2 3.1 1.2-7 1.2 4.7 1.2-5.6 1.2 3.8 1.2-5.3 1.2 4.2 1.2-3.4 1.2 4.2 1.2-4.6 1.2 4.3 1.2-4.3 1.2 5.3 1.2-3.5 1.2 4.1 1.2-4 1.2 4 1.2-2.6 1.2 4.6 1.2-4.6 1.2 4.4 1.2-4.4 1.2 6.1 1.2-4.7 1.2 7 1.2-3.8 1.2 4.3 1.2-3.9 1.2 5.7 1.2-3.5 1.2 4.5 1.2-3.6 1.2 5.1 1.2-3.7 1.2 4 1.2-4.2 1.2 3.5 1.2-4.5 1.2 4.9 1.2-5.3 1.2 3.6 1.2-4.6 1.2 2.9 1.2-4.1 1.2 3 1.2-4.8 1.2 3.9 1.2-5 1.2 3.6 1.2-4.4 1.2 4 1.2-4.8 1.2 5.1 1.2-5.2 1.2 3.4 1.2-4.5 1.2 5.2 1.2-5.4 1.2 5.1 1.2-5.9 1.2 4.7 1.2-6.1 1.2 4.3 1.2-2.8 1.2 4.1 1.2-4.4 1.2 4 1.2-4 1.2 3 1.2-5 1.2 5.8 1.2-6 1.2 5.7 1.2-5.7 1.2 3.8 1.2-2.7 1.2 4.2 1.2-4.8 1.2 4.9 1.2-3.5 1.2 5 1.2-3.8 1.2 5.3 1.2-4.8 1.2 4.9 1.2-4.8 1.2 4.8 1.2-5.4 1.2 4.7 1.2-5.7 1.2 4.5 1.2-5.4 1.2 3.3 1.2-3.7 1.2 3.6 1.2-5.4 1.2 4.3 1.2-4.5 1.2 5 1.2-5 1.2 4.4 1.2-5.7 1.2 4.3 1.2-3.8 1.2 6 1.2-4.8 1.2 5 1.2-4.5 1.2 6.4 1.2-3.9 1.2 5.8 1.2-4.6 1.2 4.8 1.2-3.9 1.2 4.5 1.2-4.3 1.2 4.5 1.2-4.9 1.2 5.3 1.2-6 1.2 5.2 1.2-5.5 1.2 4 1.2-4.8 1.2 4 1.2-4.1 1.2 2.9 1.2-4.6 1.2 5.1 1.2-4.9 1.2 3.2 1.2-4.6 1.2 5.1 1.2-7 1.2 6.3 1.2-4.7 1.2 3.8 1.2-3.7 1.2 3.1 1.2-2.5 1.2 2.7 1.2-3.5 1.2 4.3 1.2-3.6 1.2 4.9 1.2-5.3 1.2 5.2 1.2-4.9 1.2 5.2 1.2-4.1 1.2 3.7 1.1-4M788.4,482.2l1.2 5.2 1.2-4.4 1.2 5.6 1.2-5.2 1.2 4.9 1.2-4.3 1.2 4.3 1.2-4.8 1.2 4.6 1.2-4.1 1.2 4.7 1.2-4.8 1.2 6 1.2-3.9 1.2 4.8 1.2-4.3 1.2 5.5 1.2-4 1.2 4.2 1.2-3.7 1.2 4.9 1.2-4.2 1.2 4.7 1.2-4.3 1.2 6.4 1.2-5.7 1.2 4.3 1.2-3.3 1.2 3.7 1.2-3.5 1.2 4.7 1.2-5 1.2 4.9 1.2-4.9 1.2 5 1.2-2.9 1.2 3.4 1.2-3.4 1.2 4.5 1.2-5.1 1.2 4.2 1.2-4.6 1.2 4.5 1.2-5 1.2 6.1 1.2-4.2 1.2 3.6 1.2-4.2 1.2 4.7 1.2-4.1 1.2 3.4 1.2-3.3 1.2 3.9 1.2-4.1 1.2 4.4 1.2-5.2 1.2 5.6 1.2-4.3 1.2 3.2 1.2-4.8 1.2 4.7 1.2-5.4 1.2 5.2 1.2-4.1 1.2 4.2 1.2-5.3 1.2 5.1 1.2-4.4 1.2 3.5 1.2-3.6 1.2 4 1.2-4.5 1.2 4 1.2-4.1 1.2 4.1 1.2-3.6 1.2 4.6 1.2-5.2 1.2 5.2 1.2-4.6 1.2 5.8 1.2-4.8 1.2 4.5 1.2-4.1 1.2 4.5 1.2-2.4 1.2 4.3 1.2-4.6 1.2 4.5 1.2-4 1.2 4.1 1.2-4.1 1.2 4.8 1.2-4.4 1.2 4.7 1.2-4.8 1.2 4.8 1.2-5.3 1.2 3.4 1.2-5.6 1.2 4.6 1.2-5.1 1.2 4.9 1.2-5.5 1.2 4.1 1.2-4 1.2 4.5 1.2-4.1 1.2 4.3 1.2-3.7 1.2 4.7 1.2-3.3 1.2 4.1 1.2-4.3 1.2 6.1 1.2-4.4 1.2 4.4 1.2-3 1.2 5 1.2-5.3 1.2 5.7 1.2-4 1.2 4.4 1.2-4.8 1.2 4.7 1.2-4.6 1.2 5.1 1.2-4.4 1.2 4.7 1.2-6 1.2 5.1 1.2-4.9 1.2 4.4 1.2-4.7 1.2 4.5 1.2-4.5 1.2 4.1 1.2-4.8 1.2 4.5 1.2-5.8 1.2 6.2 1.2-5.2 1.2 3.7 1.2-4.3 1.2 4.7 1.2-5.4 1.2 4.5 1.2-4.5 1.2 5.3 1.2-5.1 1.2 4.9 1.2-5.5 1.2 5.3 1.2-5.2 1.2 5.5 1.2-4.7 1 4.4"/><path class="ln" stroke="#0000ff" stroke-width="2.3" d="M316,683.4l1-1.1 1 1 1-.7 1 .9 1-1.1 1 1.1 1-1 1 1.1 1-1.1 1 .9 1-1 1 1 1-1.1 1 .9 1-.5 1 .5 1-.7 1 1 1-.9 1 .7 1-.9 1 .8 1-.8 1 1 1-.8 1 .9 1-1.3 1 1.4 1-1 1 .7 1-.9 1 1.1 1-.8 1 .5 1-.8 1 .8 1-.6 1 1 1-1.2 1 1 1-.8 1 .7 1-.7 1 .6 1-.6 1 .6 1-.9 1 .9 1-.9 1 .8 1-.6 1 .8 1-.8 1 .9 1-1 1 .9 1-.8 1 1 1-1 1 1 1-1.1 1 .8 1-.9 1 1.1 1-1 1 .7 1-.6 1 .9 1-.9 1 .8 1-.7 1 .8 1-1.1 1 1.1 1-.9 1 .7 1-.7 1 .8 1-.7 1 .7 1-.8 1 .9 1-1.1 1 1 1-.9 1 .8 1-.6 1 .9 1-1.2 1 1.2 1-1.2 1 1.2 1-1.3 1 1.3 1-1.3 1 1 1-.7 1 .7 1-.6 1 .7 1-.8 1 .9 1-.9 1 .7 1-.8 1 .9 1-1 1 1.1 1-1.2 1 1.4 1-1.2 1 .8 1-.8 1 .9 1-.9 1 1.1 1-1.2 1 1 1-.8 1 .6 1-.8 1 1.2 1-1.1 1 1.1 1-.9 1 .8 1-.9 1 1 1-1 1 .8 1-.8 1 .8 1-1 1 1.3 1-1 1 .9 1-1.3 1 1.2 1-1 1 1.1 1-1.1 1 1 1-1.1 1 1.1 1-1.1 1 1.3 1-1.1 1 1 1-.9 1 .8 1-1 1 1.1 1-1 1 1.1 1-1.3 1 1.3 1-1 1 .8 1-.9 1 1.1 1-1.3 1 .9 1-1 1 1.1 1-.8 1 .6 1-.7 1 1.2 1-1.1 1 .6 1-.8 1 1 1-.7 1 .9 1-.9 1 .8 1-.9 1 .7 1-.7 1 .8 1-.8 1 .9 1-1 1 .7 1-.7 1 1.2 1-1.3 1 1 1-1 1 .9 1-.9 1 .9 1-.5 1 .7 1-.9 1 .9 1-.7 1 .5 1-.5 1 .9 1-1 1 1 1-.9 1 .5 1-.9 1 1.1 1-.7 1 .6 1-.7 1 .7 1-.8 1 .9 1-1.1 1 .8 1-.7 1 1.2 1-1.1 1 .9 1-.9 1 .8 1-.9 1 .7 1-.7 1 1 1-.8 1 .5 1-.9 1 1.2 1-.7 1 .8 1-.9 1 .7 1-.7 1 1 1-1.2 1 1 1-.9 1 .8 1-.6 1 .8 1-.9 1 .8 1-.8 1 .6 1-.5 1 .6 1-.7 1 .9 1-1.1 1 .8 1-.5 1 .6 1-1 1 .9 1-.8 1 .8 1-1 1 1 1-.6 1 .8 1-.9 1 1 1-1.2 1 1.1 1-1.2 1 1.1 1-.6 1 .6 1-.7 1 .6 1-.7 1 .6 1-.4 1 .7 1-.8 1 .9 1-.9 1 .6 1-.8 1 1.1 1-1.2 1 1.2 1-1 1 .7 1-.5 1 .9 1-1.2 1 1.2 1-1.3 1 1.1 1-1.1 1 .9 1-1 1 1.3 1-1 1 .8 1-.9 1 1 1-.8 1 1 1-1.1 1 .6 1-.7 1 .8 1-1 1 1.4 1-1.3 1 .8 1-.8 1 .9 1-.8 1 .8 1-.9 1 1.2 1-1 1 .7 1-.9 1 1.3 1-1 1 1 1-1.2 1 .9 1-.8 1 .6 1-.7 1 1 1-1 1 .7 1-.8 1 1.1 1-.8 1 .9 1-1.1 1 .7 1-.6 1 1 1-1.1 1 .9 1-1 1 1 1-.7 1 .6 1-.9 1 .9 1-.8 1 .8 1-.7 1 .8 1-.6 1 .4 1-.5 1 .9 1-.9 1 .7 1-.9 1 1 1-1.1 1 1.2 1-1.2 1 1 1-1.1 1 1.4 1-1.2 1 1.1 1-.9 1 1 1-1 1 .9 1-.8 1 .8 1-1.1 1 .9 1-.7 1 .7 1-.8 1 .8 1-1.1 1 1.1 1-1 1 1 1-1 1 1.2 1-1.2 1 1.2 1-1.1 1 1.1 1-1.1 1 1.1 1-1.1 1 .9 1-.7 1 .7 1-1 1 .9 1-.7 1 1.1 1-1.2 1 .9 1-1 1 1 1-.6 1 .9 1-.9 1 .9 1-1.1 1 .9 1-.9 1 .8 1-1 1 1 1-1.1 1 1.2 1-1.1 1 .9 1-.6 1 .7 1-1 1 1 1-1 1 1.1 1-.8 1 .8 1-.8 1 .8 1-.8 1 .8 1-.9 1 .9 1-.9 1 .9 1-.9 1 .8 1-1.1 1 1.2 1-.8 1 .7 1-1 1 1.1 1-.9 1 .9 1-1.1 1 1.3 1-1 1 1"/><path class="ln" stroke="#0000ff" stroke-width="1.5" d="M760.5,682.8l1-.5 1 .5 1-.4 1 .4 1-.5 1 .6 1-.6 1 .4 1-.2 1 .3 1-.4 1 .4 1-.4 1 .5 1-.7 1 .8 1-.7 1 .7 1-.7 1 .6 1-.7 1 .7 1-.5 1 .5 1-.6 1 .7 1-.7 1 .6"/><path class="ln" stroke="#0000ff" stroke-width="2.3" d="M788.6,683.2l1-.5 1 .5 1-.9 1 .9 1-.9 1 .9 1-.6 1 .9 1-.9 1 .9 1-1.1 1 .8 1-.6 1 .8 1-.8 1 .8 1-1 1 .7 1-.5 1 .9 1-.9 1 .9 1-1.2 1 1.2 1-1.2 1 1 1-1.1 1 .9 1-.4 1 .7 1-.7 1 .7 1-.9 1 .9 1-.9 1 .8 1-.9 1 1.2 1-1 1 .5 1-.5 1 1 1-1.3 1 .8 1-.5 1 .9 1-.9 1 .7 1-.7 1 .6 1-.7 1 .8 1-1 1 1 1-1.1 1 1.2 1-.9 1 .8 1-.8 1 1.1 1-1.2 1 .8 1-.6 1 .8 1-1 1 1 1-1 1 .7 1-.4 1 .5 1-.6 1 .9 1-1.2 1 1.1 1-1.1 1 1.2 1-1 1 .9 1-1.1 1 1.3 1-1.3 1 1 1-.7 1 .6 1-.8 1 .8 1-.9 1 .9 1-.7 1 .8 1-1.1 1 1.1 1-.9 1 1.2 1-1.3 1 1.2 1-1.2 1 1 1-.7 1 .6 1-.6 1 .5 1-.8 1 1.3 1-1.3 1 .9 1-.5 1 .8 1-1.1 1 1 1-.9 1 .9 1-1.1 1 1 1-.8 1 .8 1-.6 1 .6 1-.8 1 .7 1-.9 1 1.2 1-1 1 1 1-1.1 1 .9 1-.6 1 .6 1-1 1 1.2 1-1.3 1 1.3 1-1.1 1 .7 1-.4 1 .8 1-.9 1 .6 1-1 1 1.1 1-.7 1 .6 1-.6 1 .8 1-.7 1 .7 1-.9 1 .7 1-.7 1 .9 1-.9 1 .8 1-.8 1 1.1 1-1.3 1 1 1-1 1 1.2 1-1.1 1 1.1 1-.8 1 .8 1-.8 1 .9 1-1 1 .6 1-.7 1 .8 1-.7 1 .6 1-1 1 1 1-.5 1 .6 1-.8 1 .6 1-.7 1 .9 1-1 1 .9 1-.5 1 .7 1-1.2 1 .9 1-.8 1 1 1-1 1 1"/><path class="ln" stroke="#0000ff" stroke-width="1.5" d="M977.5,682.4l1-.4 1 .3 1-.2 1 .3 1-.3 1 .2 1-.3 1 .3 1-.3 1 .3 1-.2 1 .3 1-.3 1 .3 1-.3 1 .3 1-.4 1 .3 1-.2 1 .2 1-.3 1 .4 1-.3 1 .3 1-.4 1 .3 1-.2 1 .2 1-.3 1 .3 1-.2 1 .2"/><path class="ln" stroke="#0000ff" stroke-width="2.8" d="M980.5,686.5l1-.7 1 .7 1-.8 1 .8 1-.9 1 1.2 1-1.3 1 1 1-.5 1 .9 1-1 1 .6 1-.6 1 .8 1-1.1 1 .8 1-.6 1 .8 1-1.1 1 1.2 1-.9 1 .8 1-.8 1 .7 1-.9 1 .9 1-.8 1 1.1 1-1.1"/><path class="ln" stroke="#0000ff" stroke-width="1.6" d="M759.8,683L760.6,687.6L761.6,686.5L763,684.5M784.5,684L786,686L787.5,685.8L788.5,683.5M977.2,683L978.2,684.8L979.4,686L980.6,686.4"/><path d="M760.4,483V680" stroke="#2222ee" stroke-width="0.8" stroke-dasharray="0.9 9.3" opacity="0.35" fill="none"/><path d="M788.1,484V681" stroke="#2222ee" stroke-width="0.9" stroke-dasharray="0.9 4.1" opacity="0.5" fill="none"/><path d="M977.1,500V681" stroke="#2222ee" stroke-width="0.8" stroke-dasharray="0.9 6.3" opacity="0.4" fill="none"/><path d="M1007.3,642V682" stroke="#0a8c14" stroke-width="0.9" stroke-dasharray="1.6 1.2" opacity="0.75" fill="none"/></g>
<g id="axes"><path class="mj" d="M110.5,65.5v-5.35M219.5,65.5v-5.35M327.5,65.5v-5.35M435.5,65.5v-5.35M544.5,65.5v-5.35M652.5,65.5v-5.35M760.5,65.5v-5.35M868.5,65.5v-5.35M977.5,65.5v-5.35M1085.5,65.5v-5.35M1193.5,65.5v-5.35"/><path class="mn" d="M74.5,65.5v-3.3M92.5,65.5v-3.3M128.5,65.5v-3.3M146.5,65.5v-3.3M164.5,65.5v-3.3M183.5,65.5v-3.3M201.5,65.5v-3.3M237.5,65.5v-3.3M255.5,65.5v-3.3M273.5,65.5v-3.3M291.5,65.5v-3.3M309.5,65.5v-3.3M345.5,65.5v-3.3M363.5,65.5v-3.3M381.5,65.5v-3.3M399.5,65.5v-3.3M417.5,65.5v-3.3M453.5,65.5v-3.3M471.5,65.5v-3.3M489.5,65.5v-3.3M507.5,65.5v-3.3M525.5,65.5v-3.3M562.5,65.5v-3.3M580.5,65.5v-3.3M598.5,65.5v-3.3M616.5,65.5v-3.3M634.5,65.5v-3.3M670.5,65.5v-3.3M688.5,65.5v-3.3M706.5,65.5v-3.3M724.5,65.5v-3.3M742.5,65.5v-3.3M778.5,65.5v-3.3M796.5,65.5v-3.3M814.5,65.5v-3.3M832.5,65.5v-3.3M850.5,65.5v-3.3M886.5,65.5v-3.3M905.5,65.5v-3.3M923.5,65.5v-3.3M941.5,65.5v-3.3M959.5,65.5v-3.3M995.5,65.5v-3.3M1013.5,65.5v-3.3M1031.5,65.5v-3.3M1049.5,65.5v-3.3M1067.5,65.5v-3.3M1103.5,65.5v-3.3M1121.5,65.5v-3.3M1139.5,65.5v-3.3M1157.5,65.5v-3.3M1175.5,65.5v-3.3M1211.5,65.5v-3.3M1229.5,65.5v-3.3"/><path class="mj" d="M110.5,273.5v5.35M219.5,273.5v5.35M327.5,273.5v5.35M435.5,273.5v5.35M544.5,273.5v5.35M652.5,273.5v5.35M760.5,273.5v5.35M868.5,273.5v5.35M977.5,273.5v5.35M1085.5,273.5v5.35M1193.5,273.5v5.35"/><path class="mn" d="M74.5,273.5v3.3M92.5,273.5v3.3M128.5,273.5v3.3M146.5,273.5v3.3M164.5,273.5v3.3M183.5,273.5v3.3M201.5,273.5v3.3M237.5,273.5v3.3M255.5,273.5v3.3M273.5,273.5v3.3M291.5,273.5v3.3M309.5,273.5v3.3M345.5,273.5v3.3M363.5,273.5v3.3M381.5,273.5v3.3M399.5,273.5v3.3M417.5,273.5v3.3M453.5,273.5v3.3M471.5,273.5v3.3M489.5,273.5v3.3M507.5,273.5v3.3M525.5,273.5v3.3M562.5,273.5v3.3M580.5,273.5v3.3M598.5,273.5v3.3M616.5,273.5v3.3M634.5,273.5v3.3M670.5,273.5v3.3M688.5,273.5v3.3M706.5,273.5v3.3M724.5,273.5v3.3M742.5,273.5v3.3M778.5,273.5v3.3M796.5,273.5v3.3M814.5,273.5v3.3M832.5,273.5v3.3M850.5,273.5v3.3M886.5,273.5v3.3M905.5,273.5v3.3M923.5,273.5v3.3M941.5,273.5v3.3M959.5,273.5v3.3M995.5,273.5v3.3M1013.5,273.5v3.3M1031.5,273.5v3.3M1049.5,273.5v3.3M1067.5,273.5v3.3M1103.5,273.5v3.3M1121.5,273.5v3.3M1139.5,273.5v3.3M1157.5,273.5v3.3M1175.5,273.5v3.3M1211.5,273.5v3.3M1229.5,273.5v3.3"/><path class="mj" d="M110.5,481.5v5.35M219.5,481.5v5.35M327.5,481.5v5.35M435.5,481.5v5.35M544.5,481.5v5.35M652.5,481.5v5.35M760.5,481.5v5.35M868.5,481.5v5.35M977.5,481.5v5.35M1085.5,481.5v5.35M1193.5,481.5v5.35"/><path class="mn" d="M74.5,481.5v3.3M92.5,481.5v3.3M128.5,481.5v3.3M146.5,481.5v3.3M164.5,481.5v3.3M183.5,481.5v3.3M201.5,481.5v3.3M237.5,481.5v3.3M255.5,481.5v3.3M273.5,481.5v3.3M291.5,481.5v3.3M309.5,481.5v3.3M345.5,481.5v3.3M363.5,481.5v3.3M381.5,481.5v3.3M399.5,481.5v3.3M417.5,481.5v3.3M453.5,481.5v3.3M471.5,481.5v3.3M489.5,481.5v3.3M507.5,481.5v3.3M525.5,481.5v3.3M562.5,481.5v3.3M580.5,481.5v3.3M598.5,481.5v3.3M616.5,481.5v3.3M634.5,481.5v3.3M670.5,481.5v3.3M688.5,481.5v3.3M706.5,481.5v3.3M724.5,481.5v3.3M742.5,481.5v3.3M778.5,481.5v3.3M796.5,481.5v3.3M814.5,481.5v3.3M832.5,481.5v3.3M850.5,481.5v3.3M886.5,481.5v3.3M905.5,481.5v3.3M923.5,481.5v3.3M941.5,481.5v3.3M959.5,481.5v3.3M995.5,481.5v3.3M1013.5,481.5v3.3M1031.5,481.5v3.3M1049.5,481.5v3.3M1067.5,481.5v3.3M1103.5,481.5v3.3M1121.5,481.5v3.3M1139.5,481.5v3.3M1157.5,481.5v3.3M1175.5,481.5v3.3M1211.5,481.5v3.3M1229.5,481.5v3.3"/><path class="mj" d="M110.5,689.5v5.35M219.5,689.5v5.35M327.5,689.5v5.35M435.5,689.5v5.35M544.5,689.5v5.35M652.5,689.5v5.35M760.5,689.5v5.35M868.5,689.5v5.35M977.5,689.5v5.35M1085.5,689.5v5.35M1193.5,689.5v5.35"/><path class="mn" d="M74.5,689.5v3.3M92.5,689.5v3.3M128.5,689.5v3.3M146.5,689.5v3.3M164.5,689.5v3.3M183.5,689.5v3.3M201.5,689.5v3.3M237.5,689.5v3.3M255.5,689.5v3.3M273.5,689.5v3.3M291.5,689.5v3.3M309.5,689.5v3.3M345.5,689.5v3.3M363.5,689.5v3.3M381.5,689.5v3.3M399.5,689.5v3.3M417.5,689.5v3.3M453.5,689.5v3.3M471.5,689.5v3.3M489.5,689.5v3.3M507.5,689.5v3.3M525.5,689.5v3.3M562.5,689.5v3.3M580.5,689.5v3.3M598.5,689.5v3.3M616.5,689.5v3.3M634.5,689.5v3.3M670.5,689.5v3.3M688.5,689.5v3.3M706.5,689.5v3.3M724.5,689.5v3.3M742.5,689.5v3.3M778.5,689.5v3.3M796.5,689.5v3.3M814.5,689.5v3.3M832.5,689.5v3.3M850.5,689.5v3.3M886.5,689.5v3.3M905.5,689.5v3.3M923.5,689.5v3.3M941.5,689.5v3.3M959.5,689.5v3.3M995.5,689.5v3.3M1013.5,689.5v3.3M1031.5,689.5v3.3M1049.5,689.5v3.3M1067.5,689.5v3.3M1103.5,689.5v3.3M1121.5,689.5v3.3M1139.5,689.5v3.3M1157.5,689.5v3.3M1175.5,689.5v3.3M1211.5,689.5v3.3M1229.5,689.5v3.3"/><path class="mj" d="M74.5,273.5h-5.35M74.5,269.5h-5.35M74.5,264.5h-5.35M74.5,260.5h-5.35M74.5,255.5h-5.35M74.5,251.5h-5.35M74.5,247.5h-5.35M74.5,242.5h-5.35M74.5,238.5h-5.35M74.5,233.5h-5.35M74.5,229.5h-5.35M74.5,224.5h-5.35M74.5,220.5h-5.35M74.5,216.5h-5.35M74.5,211.5h-5.35M74.5,207.5h-5.35M74.5,202.5h-5.35M74.5,198.5h-5.35M74.5,193.5h-5.35M74.5,189.5h-5.35M74.5,185.5h-5.35M74.5,180.5h-5.35M74.5,176.5h-5.35M74.5,171.5h-5.35M74.5,167.5h-5.35M74.5,163.5h-5.35M74.5,158.5h-5.35M74.5,154.5h-5.35M74.5,149.5h-5.35M74.5,145.5h-5.35M74.5,140.5h-5.35M74.5,136.5h-5.35M74.5,132.5h-5.35M74.5,127.5h-5.35M74.5,123.5h-5.35M74.5,118.5h-5.35M74.5,114.5h-5.35M74.5,109.5h-5.35M74.5,105.5h-5.35M74.5,101.5h-5.35M74.5,96.5h-5.35M74.5,92.5h-5.35M74.5,87.5h-5.35M74.5,83.5h-5.35M74.5,79.5h-5.35M74.5,74.5h-5.35M74.5,70.5h-5.35M74.5,65.5h-5.35"/><path class="mj" d="M74.5,481.5h-5.35M74.5,476.5h-5.35M74.5,472.5h-5.35M74.5,468.5h-5.35M74.5,463.5h-5.35M74.5,459.5h-5.35M74.5,454.5h-5.35M74.5,450.5h-5.35M74.5,446.5h-5.35M74.5,441.5h-5.35M74.5,437.5h-5.35M74.5,432.5h-5.35M74.5,428.5h-5.35M74.5,423.5h-5.35M74.5,419.5h-5.35M74.5,415.5h-5.35M74.5,410.5h-5.35M74.5,406.5h-5.35M74.5,401.5h-5.35M74.5,397.5h-5.35M74.5,392.5h-5.35M74.5,388.5h-5.35M74.5,384.5h-5.35M74.5,379.5h-5.35M74.5,375.5h-5.35M74.5,370.5h-5.35M74.5,366.5h-5.35M74.5,362.5h-5.35M74.5,357.5h-5.35M74.5,353.5h-5.35M74.5,348.5h-5.35M74.5,344.5h-5.35M74.5,339.5h-5.35M74.5,335.5h-5.35M74.5,331.5h-5.35M74.5,326.5h-5.35M74.5,322.5h-5.35M74.5,317.5h-5.35M74.5,313.5h-5.35M74.5,308.5h-5.35M74.5,304.5h-5.35M74.5,300.5h-5.35M74.5,295.5h-5.35M74.5,291.5h-5.35M74.5,286.5h-5.35M74.5,282.5h-5.35M74.5,278.5h-5.35M74.5,273.5h-5.35"/><path class="mj" d="M74.5,682.5h-5.35M74.5,649.5h-5.35M74.5,615.5h-5.35M74.5,581.5h-5.35M74.5,548.5h-5.35M74.5,514.5h-5.35"/><rect class="sp" x="74.5" y="65.5" width="1155" height="208"/><rect class="sp" x="74.5" y="273.5" width="1155" height="208"/><rect class="sp" x="74.5" y="481.5" width="1155" height="208"/></g>
<g id="ticklabels" class="t10"><text x="110.32" y="57" text-anchor="middle">00:00</text><text x="218.62" y="57" text-anchor="middle">01:00</text><text x="326.92" y="57" text-anchor="middle">02:00</text><text x="435.22" y="57" text-anchor="middle">03:00</text><text x="543.52" y="57" text-anchor="middle">04:00</text><text x="651.82" y="57" text-anchor="middle">05:00</text><text x="760.12" y="57" text-anchor="middle">06:00</text><text x="868.42" y="57" text-anchor="middle">07:00</text><text x="976.72" y="57" text-anchor="middle">08:00</text><text x="1085.02" y="57" text-anchor="middle">09:00</text><text x="1193.32" y="57" text-anchor="middle">10:00</text><text x="110.32" y="709" text-anchor="middle">00:00</text><text x="218.62" y="709" text-anchor="middle">01:00</text><text x="326.92" y="709" text-anchor="middle">02:00</text><text x="435.22" y="709" text-anchor="middle">03:00</text><text x="543.52" y="709" text-anchor="middle">04:00</text><text x="651.82" y="709" text-anchor="middle">05:00</text><text x="760.12" y="709" text-anchor="middle">06:00</text><text x="868.42" y="709" text-anchor="middle">07:00</text><text x="976.72" y="709" text-anchor="middle">08:00</text><text x="1085.02" y="709" text-anchor="middle">09:00</text><text x="1193.32" y="709" text-anchor="middle">10:00</text><text class="yl" x="64.53" y="279" text-anchor="end">3.0</text><text class="yl" x="64.53" y="256" text-anchor="end">4.0</text><text class="yl" x="64.53" y="234" text-anchor="end">5.0</text><text class="yl" x="64.53" y="212" text-anchor="end">6.0</text><text class="yl" x="64.53" y="186" text-anchor="end">8.0</text><text class="yl" x="63.83" y="164" text-anchor="end">10.0</text><text class="yl" x="63.83" y="142" text-anchor="end">12.0</text><text class="yl" x="63.83" y="115" text-anchor="end">16.0</text><text class="yl" x="63.83" y="93" text-anchor="end">20.0</text><text class="yl" x="63.83" y="71" text-anchor="end">24.0</text><text class="yl" x="64.53" y="486" text-anchor="end">3.0</text><text class="yl" x="64.53" y="464" text-anchor="end">4.0</text><text class="yl" x="64.53" y="442" text-anchor="end">5.0</text><text class="yl" x="64.53" y="420" text-anchor="end">6.0</text><text class="yl" x="64.53" y="394" text-anchor="end">8.0</text><text class="yl" x="63.83" y="371" text-anchor="end">10.0</text><text class="yl" x="63.83" y="349" text-anchor="end">12.0</text><text class="yl" x="63.83" y="323" text-anchor="end">16.0</text><text class="yl" x="63.83" y="301" text-anchor="end">20.0</text><text class="yl" x="64.53" y="688" text-anchor="end">0</text><text class="yl" x="64.53" y="654" text-anchor="end">500</text><text class="yl" x="64.03" y="621" text-anchor="end">1000</text><text class="yl" x="64.03" y="587" text-anchor="end">1500</text><text class="yl" x="64.03" y="553" text-anchor="end">2000</text><text class="yl" x="64.03" y="520" text-anchor="end">2500</text></g>
<g id="axlabels" class="t12"><text transform="translate(23.2,169.05) rotate(-90) scale(1,1.07)" text-anchor="middle">Frequency, GHz</text><text transform="translate(23.2,376.88) rotate(-90) scale(1,1.07)" text-anchor="middle">Frequency, GHz</text><text transform="translate(19,584.83) rotate(-90) scale(1,1.07)" text-anchor="middle">Stokes I,V plot, sfu</text></g>
<text class="t11" x="1233.3" y="709.3">UTC Time</text>
<g id="cbar1"><defs><linearGradient id="cbI" x1="0" y1="0" x2="0" y2="1"><stop offset="0" stop-color="#7a0403"/><stop offset="0.0156" stop-color="#850702"/><stop offset="0.0312" stop-color="#920b01"/><stop offset="0.0469" stop-color="#9e1001"/><stop offset="0.0625" stop-color="#a91601"/><stop offset="0.0781" stop-color="#b41b01"/><stop offset="0.0938" stop-color="#be2102"/><stop offset="0.1094" stop-color="#c82803"/><stop offset="0.125" stop-color="#d02f05"/><stop offset="0.1406" stop-color="#d83706"/><stop offset="0.1562" stop-color="#df3f08"/><stop offset="0.1719" stop-color="#e5470b"/><stop offset="0.1875" stop-color="#eb500e"/><stop offset="0.2031" stop-color="#f05b12"/><stop offset="0.2188" stop-color="#f46617"/><stop offset="0.2344" stop-color="#f8721c"/><stop offset="0.25" stop-color="#fb7e21"/><stop offset="0.2656" stop-color="#fd8a26"/><stop offset="0.2812" stop-color="#fe962b"/><stop offset="0.2969" stop-color="#fea130"/><stop offset="0.3125" stop-color="#fdac34"/><stop offset="0.3281" stop-color="#fbb637"/><stop offset="0.3438" stop-color="#f8be39"/><stop offset="0.3594" stop-color="#f4c73a"/><stop offset="0.375" stop-color="#eecf3a"/><stop offset="0.3906" stop-color="#e7d739"/><stop offset="0.4062" stop-color="#dfdf37"/><stop offset="0.4219" stop-color="#d7e535"/><stop offset="0.4375" stop-color="#cdec34"/><stop offset="0.4531" stop-color="#c3f134"/><stop offset="0.4688" stop-color="#b9f635"/><stop offset="0.4844" stop-color="#affa37"/><stop offset="0.5" stop-color="#a4fc3c"/><stop offset="0.5156" stop-color="#99fe42"/><stop offset="0.5312" stop-color="#8bff4b"/><stop offset="0.5469" stop-color="#7dff56"/><stop offset="0.5625" stop-color="#6dfe62"/><stop offset="0.5781" stop-color="#5dfc6f"/><stop offset="0.5938" stop-color="#4ef97d"/><stop offset="0.6094" stop-color="#3ff68a"/><stop offset="0.625" stop-color="#32f298"/><stop offset="0.6406" stop-color="#27eea4"/><stop offset="0.6562" stop-color="#1fe9af"/><stop offset="0.6719" stop-color="#19e3b9"/><stop offset="0.6875" stop-color="#18ddc2"/><stop offset="0.7031" stop-color="#19d5cd"/><stop offset="0.7188" stop-color="#1ccdd8"/><stop offset="0.7344" stop-color="#22c5e2"/><stop offset="0.75" stop-color="#28bceb"/><stop offset="0.7656" stop-color="#2fb2f4"/><stop offset="0.7812" stop-color="#37a8fa"/><stop offset="0.7969" stop-color="#3d9efe"/><stop offset="0.8125" stop-color="#4294ff"/><stop offset="0.8281" stop-color="#458afc"/><stop offset="0.8438" stop-color="#4680f6"/><stop offset="0.8594" stop-color="#4776ee"/><stop offset="0.875" stop-color="#466be3"/><stop offset="0.8906" stop-color="#4661d6"/><stop offset="0.9062" stop-color="#4456c7"/><stop offset="0.9219" stop-color="#424bb5"/><stop offset="0.9375" stop-color="#4040a2"/><stop offset="0.9531" stop-color="#3d358b"/><stop offset="0.9688" stop-color="#392a73"/><stop offset="0.9844" stop-color="#351e58"/><stop offset="1" stop-color="#30123b"/></linearGradient></defs><rect class="sp" x="1239.5" y="76.5" width="9" height="187" style="fill:url(#cbI)"/><path class="mj" d="M1248.5,263.5h5.35M1248.5,232.5h5.35M1248.5,200.5h5.35M1248.5,169.5h5.35M1248.5,138.5h5.35M1248.5,107.5h5.35M1248.5,76.5h5.35"/><text class="t10" x="1258.27" y="268">0</text><text class="t10" x="1258.27" y="237">500</text><text class="t10" x="1258.27" y="206">1000</text><text class="t10" x="1258.27" y="175">1500</text><text class="t10" x="1258.27" y="144">2000</text><text class="t10" x="1258.27" y="112">2500</text><text class="t10" x="1258.27" y="81">3000</text><text class="t12" transform="translate(1311.5,170.37) rotate(-90) scale(1,1.07)" text-anchor="middle">Stokes I map, sfu</text></g>
<g id="cbar2"><defs><linearGradient id="cbV" x1="0" y1="0" x2="0" y2="1"><stop offset="0" stop-color="#800000"/><stop offset="0.0156" stop-color="#860000"/><stop offset="0.0312" stop-color="#8e0000"/><stop offset="0.0469" stop-color="#960000"/><stop offset="0.0625" stop-color="#9e0000"/><stop offset="0.0781" stop-color="#a60000"/><stop offset="0.0938" stop-color="#ae0000"/><stop offset="0.1094" stop-color="#b60000"/><stop offset="0.125" stop-color="#be0000"/><stop offset="0.1406" stop-color="#c60000"/><stop offset="0.1562" stop-color="#ce0000"/><stop offset="0.1719" stop-color="#d60000"/><stop offset="0.1875" stop-color="#de0000"/><stop offset="0.2031" stop-color="#e60000"/><stop offset="0.2188" stop-color="#e00"/><stop offset="0.2344" stop-color="#f60000"/><stop offset="0.25" stop-color="#fe0000"/><stop offset="0.2656" stop-color="#ff0d0d"/><stop offset="0.2812" stop-color="#ff1d1d"/><stop offset="0.2969" stop-color="#ff2d2d"/><stop offset="0.3125" stop-color="#ff3d3d"/><stop offset="0.3281" stop-color="#ff4d4d"/><stop offset="0.3438" stop-color="#ff5d5d"/><stop offset="0.3594" stop-color="#ff6d6d"/><stop offset="0.375" stop-color="#ff7d7d"/><stop offset="0.3906" stop-color="#ff8d8d"/><stop offset="0.4062" stop-color="#ff9d9d"/><stop offset="0.4219" stop-color="#ffadad"/><stop offset="0.4375" stop-color="#ffbdbd"/><stop offset="0.4531" stop-color="#ffcdcd"/><stop offset="0.4688" stop-color="#fdd"/><stop offset="0.4844" stop-color="#ffeded"/><stop offset="0.5" stop-color="#fffdfd"/><stop offset="0.5156" stop-color="#f1f1ff"/><stop offset="0.5312" stop-color="#e1e1ff"/><stop offset="0.5469" stop-color="#d1d1ff"/><stop offset="0.5625" stop-color="#c1c1ff"/><stop offset="0.5781" stop-color="#b1b1ff"/><stop offset="0.5938" stop-color="#a1a1ff"/><stop offset="0.6094" stop-color="#9191ff"/><stop offset="0.625" stop-color="#8181ff"/><stop offset="0.6406" stop-color="#7171ff"/><stop offset="0.6562" stop-color="#6161ff"/><stop offset="0.6719" stop-color="#5151ff"/><stop offset="0.6875" stop-color="#4141ff"/><stop offset="0.7031" stop-color="#3131ff"/><stop offset="0.7188" stop-color="#2121ff"/><stop offset="0.7344" stop-color="#11f"/><stop offset="0.75" stop-color="#0101ff"/><stop offset="0.7656" stop-color="#0000f4"/><stop offset="0.7812" stop-color="#0000e9"/><stop offset="0.7969" stop-color="#0000de"/><stop offset="0.8125" stop-color="#0000d3"/><stop offset="0.8281" stop-color="#0000c8"/><stop offset="0.8438" stop-color="#0000bc"/><stop offset="0.8594" stop-color="#0000b1"/><stop offset="0.875" stop-color="#0000a6"/><stop offset="0.8906" stop-color="#00009b"/><stop offset="0.9062" stop-color="#000090"/><stop offset="0.9219" stop-color="#000084"/><stop offset="0.9375" stop-color="#000079"/><stop offset="0.9531" stop-color="#00006e"/><stop offset="0.9688" stop-color="#000063"/><stop offset="0.9844" stop-color="#000058"/><stop offset="1" stop-color="#00004c"/></linearGradient></defs><rect class="sp" x="1239.5" y="283.5" width="9" height="188" style="fill:url(#cbV)"/><path class="mj" d="M1248.5,471.5h5.35M1248.5,424.5h5.35M1248.5,377.5h5.35M1248.5,330.5h5.35M1248.5,283.5h5.35"/><text class="t10" x="1258.27" y="476">−200</text><text class="t10" x="1258.27" y="429">−100</text><text class="t10" x="1258.27" y="383">0</text><text class="t10" x="1258.27" y="336">100</text><text class="t10" x="1258.27" y="289">200</text><text class="t12" transform="translate(1314.5,378.2) rotate(-90) scale(1,1.07)" text-anchor="middle">Stokes V map, sfu</text></g>
<g id="legend"><rect x="1234.6" y="487.7" width="109.8" height="176.4" rx="2.8" ry="2.8" fill="#fff" fill-opacity="0.8" stroke="#ccc" stroke-opacity="0.8" stroke-width="1.111"/><circle cx="1251.7" cy="498.9" r="3.75" fill="#0000ff"/><text class="t9" x="1274.3" y="502.2">19.69 GHz</text><circle cx="1251.7" cy="518.1" r="3.75" fill="#0a1ecd"/><text class="t9" x="1274.3" y="521.4">15.69 GHz</text><circle cx="1251.7" cy="537.3" r="3.75" fill="#0a4088"/><text class="t9" x="1274.3" y="540.6">11.83 GHz</text><circle cx="1251.7" cy="556.5" r="3.75" fill="#0a5c46"/><text class="t9" x="1274.3" y="559.8">9.83 GHz</text><circle cx="1251.7" cy="575.7" r="3.75" fill="#0a8c14"/><text class="t9" x="1274.3" y="579">7.83 GHz</text><circle cx="1251.7" cy="594.9" r="3.75" fill="#465a0a"/><text class="t9" x="1274.3" y="598.2">5.90 GHz</text><circle cx="1251.7" cy="614.1" r="3.75" fill="#7a3c0a"/><text class="t9" x="1274.3" y="617.4">4.90 GHz</text><circle cx="1251.7" cy="633.3" r="3.75" fill="#be280a"/><text class="t9" x="1274.3" y="636.6">3.90 GHz</text><circle cx="1251.7" cy="652.5" r="3.75" fill="#ff0000"/><text class="t9" x="1274.3" y="655.8">3.00 GHz</text></g>
</svg>
</body></html>
